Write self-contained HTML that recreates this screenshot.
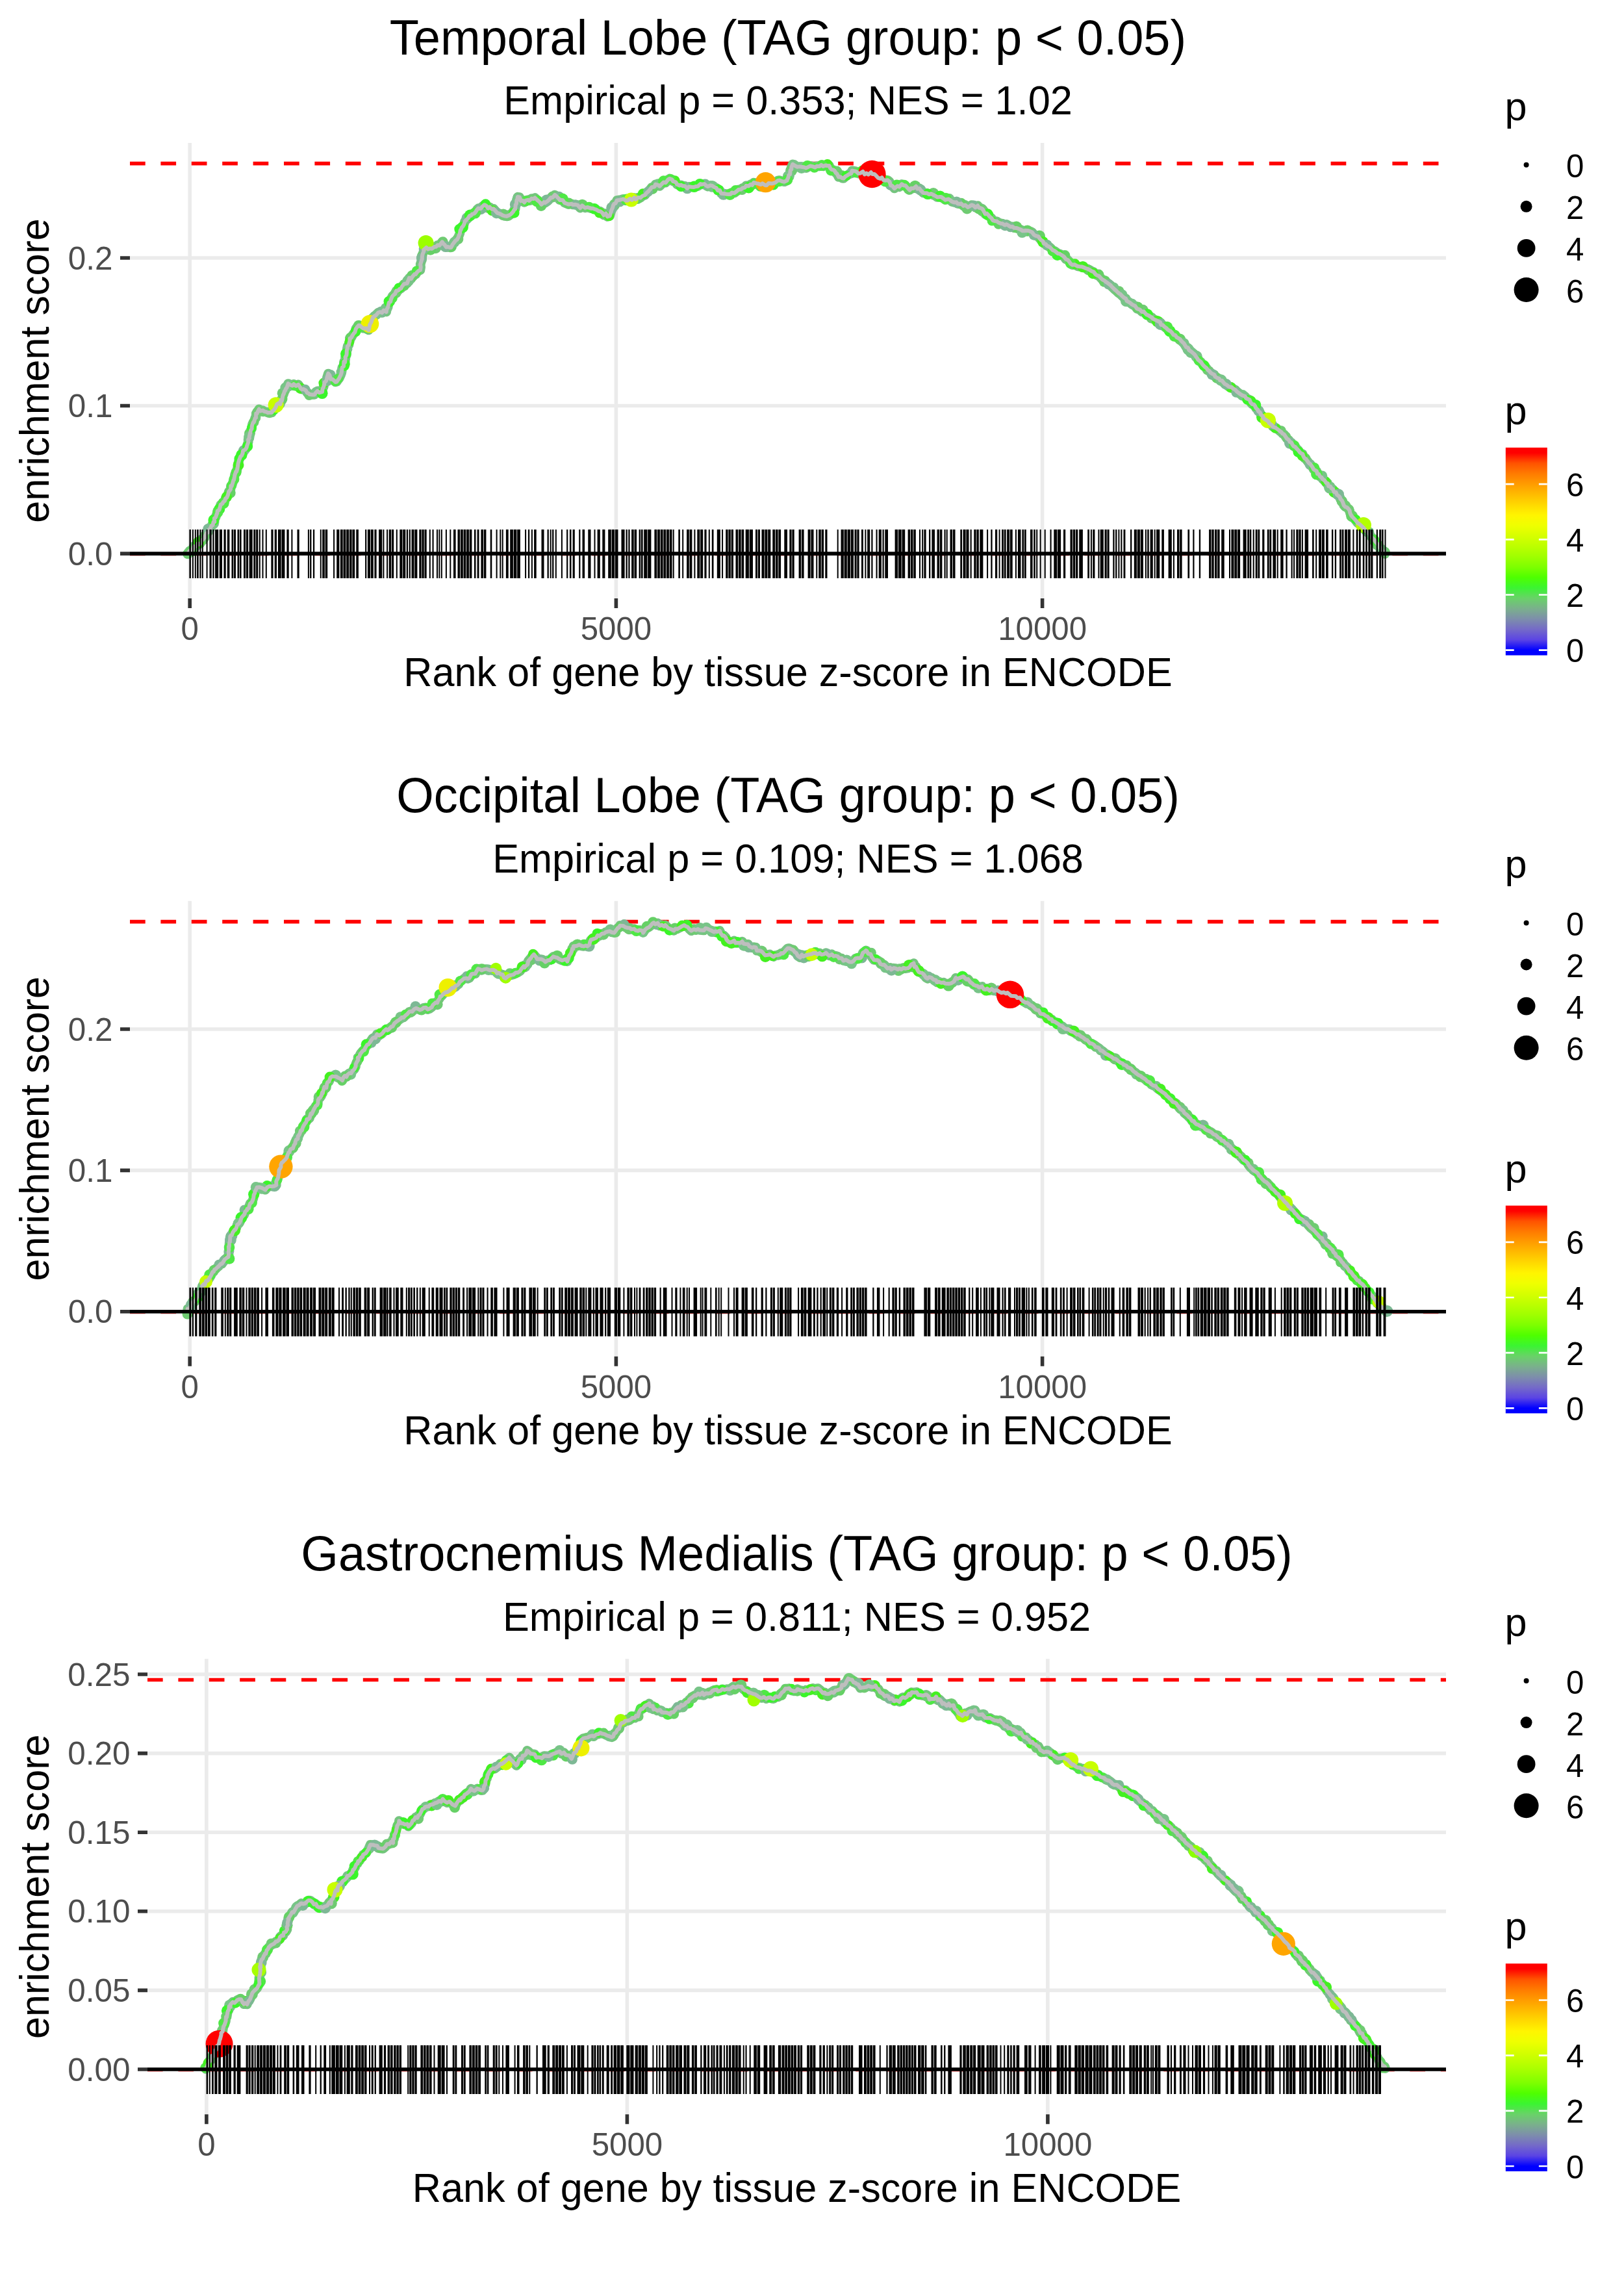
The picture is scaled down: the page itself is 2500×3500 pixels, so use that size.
<!DOCTYPE html>
<html><head><meta charset="utf-8"><style>html,body{margin:0;padding:0;background:#fff;}svg{display:block}</style></head><body>
<svg width="2500" height="3500" viewBox="0 0 2500 3500" style="font-family:'Liberation Sans',sans-serif">
<defs><linearGradient id="cbar" x1="0" y1="0" x2="0" y2="1"><stop offset="0.0256" stop-color="#ff0000"/><stop offset="0.0755" stop-color="#ff5300"/><stop offset="0.1255" stop-color="#ff7b00"/><stop offset="0.1755" stop-color="#ff9c00"/><stop offset="0.2255" stop-color="#ffbb00"/><stop offset="0.2755" stop-color="#ffd900"/><stop offset="0.3255" stop-color="#fff500"/><stop offset="0.3755" stop-color="#efff00"/><stop offset="0.4254" stop-color="#d6ff00"/><stop offset="0.4754" stop-color="#bcff00"/><stop offset="0.5254" stop-color="#9fff00"/><stop offset="0.5754" stop-color="#7dff00"/><stop offset="0.6254" stop-color="#4eff00"/><stop offset="0.6754" stop-color="#3bf432"/><stop offset="0.7254" stop-color="#69d268"/><stop offset="0.7753" stop-color="#7ab08c"/><stop offset="0.8253" stop-color="#7d8eab"/><stop offset="0.8753" stop-color="#746ac8"/><stop offset="0.9253" stop-color="#5b44e4"/><stop offset="0.9753" stop-color="#0000ff"/></linearGradient></defs>
<rect width="2500" height="3500" fill="#fff"/>
<text x="0" y="0" font-size="74" fill="#000" text-anchor="middle" transform="translate(1213.0 83.5) scale(1 1.035)" >Temporal Lobe (TAG group: p &lt; 0.05)</text>
<text x="0" y="0" font-size="61.3" fill="#000" text-anchor="middle" transform="translate(1213.0 176.3) scale(1 1.035)" >Empirical p = 0.353; NES = 1.02</text>
<path d="M292.2 220V921M948.4 220V921M1604.6 220V921M200 852.1H2226M200 624.5H2226M200 397.0H2226" stroke="#EBEBEB" stroke-width="5.6" fill="none"/>
<path d="M292.2 921V936M948.4 921V936M1604.6 921V936M185 852.1H200M185 624.5H200M185 397.0H200" stroke="#333333" stroke-width="5.6" fill="none"/>
<text x="292.2" y="985.1" font-size="49.2" fill="#4D4D4D" text-anchor="middle" >0</text>
<text x="948.4" y="985.1" font-size="49.2" fill="#4D4D4D" text-anchor="middle" >5000</text>
<text x="1604.6" y="985.1" font-size="49.2" fill="#4D4D4D" text-anchor="middle" >10000</text>
<text x="173.5" y="869.6" font-size="49.4" fill="#4D4D4D" text-anchor="end" >0.0</text>
<text x="173.5" y="642.0" font-size="49.4" fill="#4D4D4D" text-anchor="end" >0.1</text>
<text x="173.5" y="414.5" font-size="49.4" fill="#4D4D4D" text-anchor="end" >0.2</text>
<text x="0" y="0" font-size="61.2" fill="#000" text-anchor="middle" transform="translate(1213.0 1055.8) scale(1 1.035)" >Rank of gene by tissue z-score in ENCODE</text>
<text x="0" y="0" font-size="61.1" fill="#000" text-anchor="middle" transform="translate(75.4 570.5) rotate(-90) scale(1 1.035)">enrichment score</text>
<path d="M200 251.6H2226" stroke="#FF0000" stroke-width="5.6" stroke-dasharray="23.7 23.7" fill="none"/>
<path d="M200 854.1H2226" stroke="#FF0000" stroke-width="3" stroke-dasharray="23.7 23.7" fill="none" opacity="0.6"/>
<path d="M288.4 852.5 L291.9 847.9 L293.9 846.8 L296.6 846.3 L298.1 840.9 L301.8 840.7 L304.1 836.8 L306.0 838.0 L308.1 837.0 L311.6 830.9 L312.1 830.4 L315.5 827.0 L316.2 824.4 L317.7 820.8 L320.3 819.2 L321.8 815.3 L323.7 813.6 L325.7 808.9 L327.7 808.1 L328.5 803.4 L330.2 803.2 L329.9 797.8 L332.0 796.3 L333.4 791.9 L334.4 789.9 L334.7 786.4 L337.4 784.9 L338.6 781.1 L339.6 776.9 L342.6 775.0 L343.4 772.9 L346.0 770.8 L347.2 767.1 L349.2 765.9 L351.0 761.5 L352.1 756.8 L352.5 756.6 L355.1 753.0 L355.3 748.0 L356.6 748.5 L358.2 743.4 L359.5 738.9 L360.0 739.0 L361.0 733.7 L361.4 731.0 L363.4 725.5 L364.1 726.0 L365.1 722.6 L365.9 718.5 L366.4 715.0 L366.5 713.8 L368.2 707.8 L369.0 705.9 L370.2 702.7 L372.0 701.2 L373.5 697.8 L374.0 694.1 L375.7 693.0 L378.2 691.3 L379.6 688.7 L380.2 686.2 L382.3 680.2 L382.0 676.7 L383.9 674.6 L383.6 673.2 L384.8 667.6 L385.2 666.5 L386.0 662.3 L387.6 659.9 L387.7 656.9 L388.4 653.4 L390.2 649.5 L390.9 649.6 L392.7 643.5 L394.0 643.1 L394.2 636.5 L395.6 636.6 L396.8 633.5 L398.8 629.7 L400.9 632.6 L404.6 631.6 L406.6 633.2 L409.7 633.9 L412.4 635.2 L414.8 634.7 L418.5 635.0 L419.6 632.7 L421.8 630.8 L424.7 626.3 L426.2 622.3 L429.4 620.2 L431.5 622.0 L432.3 615.8 L434.0 616.6 L434.9 611.8 L435.6 608.3 L436.5 607.0 L438.1 602.2 L438.8 601.5 L440.3 598.0 L441.5 596.9 L443.6 590.4 L445.6 591.7 L450.0 593.7 L452.1 591.2 L455.8 594.0 L459.3 591.8 L461.5 595.3 L463.2 598.5 L465.1 599.3 L467.1 598.8 L470.8 600.9 L472.8 604.6 L475.2 605.5 L476.7 607.1 L480.7 607.4 L483.9 607.6 L485.7 605.1 L488.7 601.8 L491.7 604.4 L496.0 603.2 L496.4 599.2 L498.3 595.1 L499.1 591.3 L499.5 588.4 L501.9 586.6 L503.2 583.0 L503.3 581.4 L505.3 574.9 L507.5 577.7 L509.1 583.7 L511.4 583.4 L515.3 586.7 L516.4 588.0 L518.4 587.5 L520.0 585.1 L522.2 582.3 L524.9 576.2 L525.6 573.9 L526.1 571.6 L526.7 565.7 L529.0 563.9 L529.1 561.5 L529.4 556.7 L531.1 557.6 L531.9 550.8 L531.5 549.9 L533.4 546.5 L533.7 543.9 L533.8 540.3 L534.6 536.0 L535.0 533.0 L537.1 530.7 L537.4 528.5 L538.6 524.3 L538.3 520.9 L540.2 520.5 L543.1 515.4 L544.1 513.8 L546.4 511.3 L547.8 506.0 L549.7 503.5 L552.2 500.8 L553.3 500.6 L556.1 503.1 L558.8 505.2 L560.6 505.4 L564.1 505.3 L566.7 507.6 L567.6 508.1 L568.9 502.2 L569.0 500.0 L571.5 496.0 L572.6 492.3 L573.9 488.8 L574.1 489.6 L576.1 486.6 L579.2 484.8 L582.0 481.3 L584.7 480.2 L588.2 481.4 L590.5 477.7 L594.7 480.0 L595.4 476.0 L597.2 472.9 L597.8 469.7 L598.9 465.6 L600.9 464.6 L602.1 460.3 L603.1 457.9 L604.1 455.7 L606.5 453.6 L608.1 452.3 L610.1 447.4 L612.8 447.4 L615.2 444.9 L617.5 444.0 L619.0 440.8 L621.7 437.4 L623.8 436.6 L626.8 436.0 L628.1 432.5 L630.0 427.8 L632.9 429.1 L634.6 426.4 L638.0 422.1 L640.0 422.2 L641.7 419.4 L644.5 416.7 L647.0 415.7 L647.7 411.2 L647.1 406.7 L647.8 405.0 L649.3 399.6 L649.7 399.5 L649.8 395.5 L650.1 393.3 L650.5 391.3 L652.4 386.7 L652.1 384.8 L656.3 380.9 L659.1 383.5 L662.0 382.4 L664.7 382.9 L668.7 380.0 L671.5 379.7 L673.5 377.2 L676.4 377.8 L680.7 372.3 L682.7 375.4 L684.4 376.7 L687.1 380.5 L689.2 379.8 L692.4 380.9 L694.5 380.9 L696.6 376.5 L697.5 375.3 L699.3 372.9 L701.0 370.7 L703.7 368.7 L705.8 364.9 L706.3 363.2 L708.0 358.8 L708.7 354.4 L709.5 353.7 L710.8 350.3 L712.8 348.1 L714.4 345.1 L715.6 340.8 L718.5 337.8 L720.6 335.9 L722.9 332.1 L725.0 331.9 L727.0 329.5 L730.0 328.6 L732.1 326.4 L734.5 322.4 L736.5 320.6 L740.0 321.2 L742.9 317.5 L745.8 315.2 L748.5 316.6 L751.4 320.7 L753.7 318.7 L757.2 321.9 L759.8 321.2 L762.6 324.5 L765.5 327.8 L768.6 328.7 L771.9 330.2 L774.1 331.6 L777.1 332.5 L779.9 332.9 L782.4 331.9 L785.3 330.6 L787.6 328.5 L790.0 325.8 L791.8 322.4 L793.2 321.8 L793.7 315.3 L795.0 313.5 L795.3 308.3 L796.2 308.1 L796.9 303.1 L799.7 303.4 L801.9 309.4 L804.7 308.8 L807.1 311.6 L809.2 308.6 L813.2 307.6 L814.7 308.9 L818.3 305.6 L821.2 306.0 L823.5 304.4 L826.8 307.6 L828.6 309.1 L831.1 311.4 L833.5 314.9 L837.4 311.1 L839.2 312.1 L842.7 309.8 L844.4 308.3 L848.2 304.0 L850.7 304.2 L854.1 299.9 L856.3 301.7 L859.3 304.8 L861.6 307.9 L863.6 307.7 L866.5 308.3 L869.0 312.1 L872.5 313.5 L875.4 314.6 L879.6 313.7 L882.1 315.1 L886.1 314.8 L889.1 315.6 L893.2 320.2 L896.2 316.5 L900.7 319.9 L904.8 319.0 L907.5 320.0 L909.9 320.7 L912.5 320.7 L915.8 322.0 L918.0 322.7 L921.7 325.1 L924.0 325.3 L926.9 327.2 L929.4 331.1 L932.7 328.6 L935.1 333.5 L937.0 332.8 L938.7 332.4 L939.6 329.4 L941.4 323.4 L942.9 320.1 L942.9 320.2 L944.0 316.1 L945.4 313.7 L947.7 312.9 L949.6 308.5 L954.1 307.7 L956.4 307.3 L959.2 306.2 L963.3 308.7 L966.5 308.4 L969.7 305.7 L972.9 307.8 L976.2 304.2 L978.5 306.9 L982.6 303.9 L985.9 304.4 L989.0 301.8 L990.9 300.9 L992.7 300.5 L995.2 297.0 L997.8 294.9 L999.9 292.5 L1001.3 291.1 L1003.2 288.3 L1007.3 287.5 L1009.0 283.7 L1013.2 284.9 L1015.4 286.6 L1017.9 284.1 L1021.6 280.5 L1024.6 281.3 L1028.5 276.4 L1031.0 274.9 L1034.4 276.3 L1036.1 279.1 L1040.2 280.3 L1042.2 283.8 L1046.2 285.6 L1048.3 284.7 L1051.2 286.3 L1054.3 286.3 L1058.0 290.0 L1060.6 287.3 L1064.2 287.8 L1068.2 288.0 L1071.4 286.9 L1074.3 286.7 L1078.2 283.1 L1080.3 283.9 L1084.1 283.1 L1087.0 285.6 L1089.7 287.1 L1093.9 285.3 L1096.5 285.9 L1099.7 288.1 L1102.8 289.3 L1104.9 293.2 L1108.0 292.8 L1110.3 297.8 L1114.2 298.0 L1118.2 298.7 L1121.3 299.0 L1124.7 298.9 L1126.6 296.4 L1130.4 297.1 L1133.9 294.5 L1137.0 291.7 L1140.4 291.7 L1142.7 289.6 L1146.8 288.5 L1148.5 285.7 L1152.3 286.4 L1155.7 283.7 L1157.9 284.9 L1160.3 281.0 L1164.4 282.1 L1167.0 282.5 L1171.2 284.1 L1173.6 282.4 L1178.2 285.3 L1180.2 285.2 L1183.2 282.0 L1187.7 282.5 L1189.9 282.2 L1193.6 281.0 L1197.3 278.0 L1200.1 277.5 L1204.2 279.2 L1207.5 279.8 L1211.6 277.9 L1211.5 277.1 L1213.5 273.1 L1214.2 269.6 L1216.0 268.3 L1216.7 262.0 L1218.3 260.8 L1218.4 257.1 L1220.3 252.8 L1222.7 254.5 L1227.3 256.9 L1230.8 256.4 L1233.5 256.8 L1236.7 257.2 L1240.9 258.7 L1244.0 257.1 L1247.5 255.4 L1251.5 256.4 L1254.8 257.7 L1257.3 255.8 L1261.8 255.9 L1264.3 253.9 L1267.2 256.0 L1271.2 254.4 L1274.3 255.2 L1276.5 255.0 L1278.1 259.0 L1280.1 261.0 L1282.5 261.4 L1284.7 262.7 L1286.7 266.2 L1288.4 267.3 L1291.0 272.6 L1293.7 272.3 L1296.6 274.3 L1298.6 274.6 L1301.6 271.4 L1304.5 269.8 L1307.2 268.0 L1310.4 267.1 L1311.7 262.7 L1316.2 263.4 L1317.8 263.8 L1321.6 267.2 L1324.5 266.5 L1328.3 264.0 L1331.0 268.3 L1333.9 266.6 L1336.7 268.7 L1340.8 265.3 L1343.0 268.0 L1346.1 268.0 L1348.3 270.0 L1351.5 273.6 L1355.0 274.9 L1357.6 273.2 L1360.0 277.1 L1362.8 277.7 L1366.6 277.3 L1369.3 279.6 L1371.3 285.5 L1373.8 286.1 L1376.9 290.1 L1381.5 286.2 L1384.3 287.7 L1388.1 283.4 L1391.3 285.4 L1393.8 285.4 L1397.6 289.7 L1400.4 292.6 L1402.6 289.8 L1406.2 290.0 L1410.1 286.8 L1412.2 290.6 L1415.3 289.9 L1417.9 293.5 L1421.5 297.0 L1424.4 297.2 L1426.9 297.2 L1430.3 299.3 L1433.4 298.1 L1436.8 300.1 L1439.9 301.5 L1442.8 303.6 L1446.8 303.0 L1448.6 303.1 L1452.4 305.6 L1455.4 307.7 L1457.5 307.0 L1460.3 306.4 L1462.8 308.1 L1465.5 310.4 L1469.4 311.5 L1472.2 311.1 L1474.3 313.6 L1478.3 314.0 L1479.7 313.3 L1483.1 316.9 L1485.8 315.5 L1489.8 319.1 L1492.4 317.7 L1495.7 315.5 L1498.5 316.3 L1501.5 319.4 L1505.2 316.5 L1507.3 319.8 L1509.6 320.2 L1512.0 321.2 L1513.8 323.8 L1516.6 329.5 L1519.2 328.6 L1521.5 330.9 L1523.4 333.3 L1526.3 335.7 L1528.3 339.1 L1531.4 340.2 L1534.5 340.6 L1537.3 342.7 L1540.1 343.7 L1543.2 344.2 L1546.9 346.5 L1549.4 345.2 L1552.4 347.0 L1555.0 348.9 L1558.6 348.8 L1561.3 350.8 L1564.7 351.0 L1567.1 351.7 L1571.1 353.2 L1574.0 355.3 L1577.4 355.3 L1579.1 354.7 L1582.9 355.1 L1586.1 356.1 L1588.9 357.5 L1591.6 361.3 L1593.6 362.6 L1596.2 363.4 L1598.6 363.9 L1600.3 366.9 L1602.7 369.5 L1605.6 371.3 L1606.5 374.4 L1610.1 376.0 L1611.3 378.0 L1615.1 379.8 L1617.9 382.1 L1620.3 384.9 L1623.2 386.1 L1625.6 387.7 L1628.5 390.3 L1631.4 390.6 L1634.5 392.8 L1638.1 395.3 L1640.6 398.8 L1644.2 400.4 L1646.5 403.3 L1648.1 405.8 L1650.6 407.7 L1654.4 407.3 L1658.8 409.8 L1661.7 410.3 L1665.5 410.4 L1669.5 412.1 L1670.9 412.8 L1674.4 413.9 L1678.0 415.7 L1680.8 417.6 L1683.3 418.2 L1686.4 422.2 L1688.4 423.5 L1691.7 424.7 L1694.9 428.2 L1696.6 430.0 L1700.0 431.8 L1702.0 433.6 L1704.1 434.8 L1707.8 437.6 L1709.8 439.2 L1711.6 441.4 L1714.4 444.0 L1715.8 445.4 L1718.6 447.8 L1721.5 450.6 L1722.6 451.5 L1724.8 452.8 L1727.0 455.2 L1730.6 458.4 L1733.1 459.5 L1734.5 463.1 L1738.1 465.1 L1739.3 465.7 L1742.7 468.6 L1745.6 470.1 L1747.3 470.8 L1750.4 475.2 L1753.1 476.0 L1754.8 476.6 L1758.0 479.9 L1760.9 479.6 L1762.8 482.0 L1765.1 484.3 L1768.5 485.7 L1770.7 487.3 L1773.1 488.5 L1775.0 490.7 L1777.4 491.9 L1780.4 493.3 L1783.3 494.7 L1786.2 496.1 L1787.1 499.9 L1789.9 500.2 L1792.5 502.9 L1795.8 505.2 L1797.1 506.8 L1799.7 508.7 L1802.0 509.8 L1804.3 512.3 L1806.4 515.4 L1809.0 515.7 L1811.7 519.4 L1814.5 520.8 L1816.8 522.1 L1817.9 524.1 L1820.2 526.4 L1822.4 528.3 L1823.9 530.8 L1826.1 534.3 L1828.7 535.1 L1830.5 538.9 L1832.8 540.4 L1834.5 541.7 L1836.9 543.7 L1839.2 545.8 L1841.2 548.9 L1843.1 551.6 L1844.3 553.7 L1846.2 555.2 L1848.9 557.4 L1851.5 561.3 L1853.1 563.1 L1855.1 564.9 L1857.4 566.7 L1859.2 569.5 L1861.5 570.8 L1863.8 573.8 L1866.4 575.5 L1869.2 576.5 L1870.5 579.7 L1873.4 581.5 L1876.9 582.9 L1877.9 585.3 L1881.2 585.7 L1883.0 588.1 L1885.3 590.9 L1888.7 592.6 L1890.8 594.5 L1892.9 595.7 L1895.7 595.7 L1898.0 597.9 L1901.6 600.0 L1903.7 602.3 L1906.0 604.1 L1909.2 606.5 L1911.5 608.0 L1914.8 609.5 L1916.5 610.0 L1918.5 613.1 L1921.1 614.1 L1923.6 615.3 L1925.2 619.5 L1927.7 622.1 L1930.3 622.5 L1931.9 624.8 L1933.4 628.1 L1936.3 630.8 L1937.0 633.0 L1939.5 634.6 L1941.3 638.6 L1944.2 640.8 L1944.7 643.4 L1947.4 645.6 L1948.9 646.3 L1952.6 648.7 L1953.7 651.2 L1957.7 654.1 L1959.3 656.5 L1962.5 658.1 L1964.7 659.1 L1967.7 661.3 L1970.2 663.5 L1972.7 665.3 L1974.5 667.6 L1976.8 668.6 L1979.4 672.6 L1981.0 675.0 L1984.0 677.1 L1985.5 680.0 L1988.2 681.3 L1989.3 683.7 L1991.2 686.8 L1993.9 687.9 L1996.4 690.8 L1998.5 692.8 L2000.8 696.0 L2002.6 697.6 L2005.3 698.7 L2006.2 701.8 L2008.3 705.6 L2010.2 706.1 L2012.4 709.4 L2015.2 713.0 L2017.2 714.4 L2017.9 715.4 L2020.8 719.6 L2022.2 722.4 L2024.7 723.8 L2026.8 725.0 L2028.0 729.4 L2030.1 729.7 L2032.2 733.6 L2034.3 734.7 L2036.4 737.7 L2039.3 739.7 L2041.6 743.6 L2043.7 743.8 L2045.0 748.2 L2048.0 748.6 L2049.5 751.5 L2052.1 753.1 L2053.5 757.2 L2056.6 757.8 L2058.2 761.6 L2060.8 763.4 L2062.8 765.5 L2063.3 767.9 L2065.9 770.4 L2067.2 773.2 L2068.7 777.7 L2071.0 780.2 L2073.5 781.0 L2075.7 783.1 L2077.6 785.7 L2078.3 789.6 L2079.7 792.7 L2081.7 795.4 L2083.5 797.3 L2085.6 799.3 L2087.9 802.1 L2089.9 805.0 L2091.9 806.0 L2094.9 808.5 L2097.5 811.1 L2099.0 812.3 L2100.5 814.7 L2103.6 818.3 L2106.4 819.9 L2108.2 821.9 L2109.4 824.3 L2112.4 827.8 L2114.9 830.4 L2116.3 832.2 L2118.2 834.6 L2120.5 837.3 L2122.8 839.5 L2124.2 843.0 L2126.5 844.8 L2128.4 848.0 L2130.5 849.2 L2132.0 852.6" stroke="#74C47E" stroke-width="14.5" fill="none" stroke-linejoin="round" stroke-linecap="round"/>
<g fill="#6FCB72"><circle cx="289.3" cy="852.3" r="8.0"/><circle cx="312.1" cy="830.1" r="8.7"/><circle cx="315.4" cy="824.6" r="7.5"/><circle cx="395.7" cy="634.1" r="7.4"/><circle cx="398.6" cy="630.9" r="7.4"/><circle cx="405.1" cy="633.4" r="7.9"/><circle cx="415.1" cy="635.0" r="8.2"/><circle cx="435.1" cy="605.3" r="8.4"/><circle cx="475.9" cy="608.5" r="7.6"/><circle cx="609.5" cy="450.7" r="8.2"/><circle cx="670.6" cy="381.9" r="8.3"/><circle cx="681.8" cy="372.3" r="8.0"/><circle cx="705.0" cy="367.7" r="8.4"/><circle cx="774.8" cy="330.1" r="8.6"/><circle cx="782.4" cy="331.7" r="8.2"/><circle cx="802.9" cy="308.6" r="8.0"/><circle cx="818.1" cy="307.7" r="7.7"/><circle cx="850.5" cy="302.3" r="7.7"/><circle cx="945.6" cy="316.2" r="8.3"/><circle cx="973.0" cy="309.5" r="7.5"/><circle cx="1142.2" cy="292.0" r="8.0"/><circle cx="1218.4" cy="262.1" r="9.0"/><circle cx="1288.0" cy="263.9" r="8.3"/><circle cx="1337.6" cy="270.4" r="8.6"/><circle cx="1347.2" cy="267.0" r="8.1"/><circle cx="1436.8" cy="298.0" r="8.9"/><circle cx="1488.7" cy="321.1" r="8.5"/><circle cx="1512.6" cy="324.3" r="8.8"/><circle cx="1722.4" cy="448.4" r="8.2"/><circle cx="1759.3" cy="477.2" r="8.4"/><circle cx="1772.2" cy="490.0" r="7.5"/><circle cx="1858.4" cy="569.5" r="7.6"/><circle cx="1972.3" cy="662.7" r="7.5"/><circle cx="1979.6" cy="671.8" r="7.5"/><circle cx="2065.9" cy="771.6" r="8.3"/><circle cx="2071.3" cy="778.4" r="8.1"/><circle cx="2076.7" cy="784.3" r="7.7"/><circle cx="2120.3" cy="838.6" r="8.3"/><circle cx="2131.2" cy="850.1" r="8.8"/></g>
<g fill="#66D066"><circle cx="296.4" cy="847.4" r="8.9"/><circle cx="353.9" cy="758.4" r="8.8"/><circle cx="384.4" cy="667.1" r="8.4"/><circle cx="390.9" cy="649.7" r="7.6"/><circle cx="434.6" cy="614.0" r="7.9"/><circle cx="539.5" cy="519.7" r="7.9"/><circle cx="551.7" cy="500.5" r="7.6"/><circle cx="565.3" cy="505.0" r="8.9"/><circle cx="621.7" cy="439.6" r="8.4"/><circle cx="634.7" cy="424.6" r="8.8"/><circle cx="649.3" cy="394.4" r="7.7"/><circle cx="662.6" cy="384.3" r="8.5"/><circle cx="695.0" cy="379.8" r="7.9"/><circle cx="833.0" cy="316.6" r="8.3"/><circle cx="875.5" cy="313.1" r="8.5"/><circle cx="896.3" cy="315.4" r="8.7"/><circle cx="932.6" cy="330.5" r="7.5"/><circle cx="981.8" cy="305.8" r="8.1"/><circle cx="1004.3" cy="290.5" r="8.4"/><circle cx="1295.2" cy="270.6" r="8.5"/><circle cx="1355.1" cy="275.8" r="8.5"/><circle cx="1399.2" cy="290.7" r="8.7"/><circle cx="1408.7" cy="286.4" r="8.7"/><circle cx="1479.5" cy="313.1" r="8.4"/><circle cx="1507.0" cy="321.7" r="7.9"/><circle cx="1537.1" cy="345.3" r="7.5"/><circle cx="1564.6" cy="349.5" r="8.9"/><circle cx="1581.6" cy="355.2" r="8.6"/><circle cx="1600.0" cy="363.3" r="8.9"/><circle cx="1639.2" cy="393.3" r="8.2"/><circle cx="1675.3" cy="415.5" r="7.9"/><circle cx="1691.4" cy="422.5" r="7.9"/><circle cx="1700.4" cy="432.9" r="8.9"/><circle cx="1751.3" cy="472.8" r="8.4"/><circle cx="1816.4" cy="522.0" r="8.6"/><circle cx="1873.2" cy="581.8" r="8.1"/><circle cx="2009.6" cy="705.0" r="7.4"/><circle cx="2081.1" cy="794.3" r="8.9"/></g>
<g fill="#44F020"><circle cx="305.6" cy="834.8" r="8.8"/><circle cx="348.8" cy="764.7" r="8.1"/><circle cx="367.0" cy="715.7" r="8.5"/><circle cx="462.5" cy="597.6" r="8.3"/><circle cx="498.4" cy="589.6" r="8.0"/><circle cx="537.7" cy="526.4" r="7.5"/><circle cx="568.5" cy="502.6" r="8.2"/><circle cx="757.4" cy="324.0" r="8.0"/><circle cx="923.1" cy="327.5" r="8.1"/><circle cx="937.5" cy="332.6" r="7.6"/><circle cx="989.7" cy="298.4" r="8.1"/><circle cx="1039.0" cy="277.8" r="7.6"/><circle cx="1273.8" cy="253.1" r="8.0"/><circle cx="1327.7" cy="262.7" r="8.2"/><circle cx="1605.4" cy="372.3" r="8.4"/><circle cx="1654.7" cy="406.3" r="8.0"/><circle cx="1666.9" cy="410.6" r="8.6"/><circle cx="1682.6" cy="420.8" r="8.5"/><circle cx="1781.8" cy="494.8" r="8.9"/><circle cx="1894.5" cy="596.3" r="8.2"/><circle cx="1925.9" cy="617.3" r="8.0"/><circle cx="1943.1" cy="642.2" r="9.0"/><circle cx="1963.4" cy="658.8" r="7.9"/><circle cx="2004.4" cy="701.3" r="7.9"/><circle cx="2040.8" cy="741.1" r="7.7"/><circle cx="2053.9" cy="757.2" r="8.7"/></g>
<g fill="#7DB895"><circle cx="320.4" cy="814.4" r="8.3"/><circle cx="375.2" cy="693.6" r="8.3"/><circle cx="469.9" cy="599.4" r="7.7"/><circle cx="503.9" cy="585.4" r="8.8"/><circle cx="508.6" cy="577.1" r="8.1"/><circle cx="586.8" cy="480.1" r="8.4"/><circle cx="648.8" cy="397.1" r="8.0"/><circle cx="652.6" cy="383.1" r="7.9"/><circle cx="685.8" cy="379.5" r="8.6"/><circle cx="718.3" cy="335.1" r="7.7"/><circle cx="740.2" cy="321.8" r="8.5"/><circle cx="764.4" cy="327.7" r="8.5"/><circle cx="793.4" cy="314.7" r="8.6"/><circle cx="841.3" cy="308.4" r="8.8"/><circle cx="860.7" cy="302.6" r="7.8"/><circle cx="886.0" cy="315.1" r="7.7"/><circle cx="942.0" cy="319.8" r="8.8"/><circle cx="953.8" cy="310.0" r="8.6"/><circle cx="997.7" cy="295.0" r="7.7"/><circle cx="1058.0" cy="289.7" r="8.6"/><circle cx="1085.8" cy="283.5" r="7.9"/><circle cx="1113.7" cy="299.1" r="8.7"/><circle cx="1309.0" cy="266.9" r="7.7"/><circle cx="1371.1" cy="284.7" r="8.3"/><circle cx="1416.8" cy="292.0" r="8.6"/><circle cx="1472.6" cy="311.0" r="8.6"/><circle cx="1498.9" cy="316.6" r="8.1"/><circle cx="1547.2" cy="346.9" r="8.3"/><circle cx="1555.4" cy="349.8" r="7.4"/><circle cx="1591.5" cy="361.8" r="7.7"/><circle cx="1612.1" cy="376.5" r="7.4"/><circle cx="1706.6" cy="437.6" r="7.9"/><circle cx="1786.6" cy="499.0" r="8.9"/><circle cx="1866.0" cy="576.3" r="8.4"/><circle cx="1887.6" cy="591.4" r="8.4"/><circle cx="1903.0" cy="604.2" r="7.6"/><circle cx="1937.6" cy="632.3" r="8.2"/><circle cx="1949.8" cy="647.9" r="8.2"/><circle cx="1958.6" cy="653.6" r="7.5"/><circle cx="1985.8" cy="682.0" r="8.8"/><circle cx="2016.5" cy="715.3" r="7.8"/><circle cx="2060.3" cy="761.0" r="8.7"/></g>
<g fill="#78C488"><circle cx="328.6" cy="805.6" r="8.5"/><circle cx="383.3" cy="672.3" r="8.2"/><circle cx="439.3" cy="596.5" r="7.9"/><circle cx="444.4" cy="593.4" r="8.8"/><circle cx="486.6" cy="603.6" r="7.9"/><circle cx="525.4" cy="572.6" r="7.9"/><circle cx="534.7" cy="537.2" r="7.7"/><circle cx="573.4" cy="490.8" r="8.2"/><circle cx="579.7" cy="484.0" r="7.6"/><circle cx="594.5" cy="474.6" r="8.8"/><circle cx="628.2" cy="432.2" r="8.8"/><circle cx="646.7" cy="412.7" r="7.4"/><circle cx="699.5" cy="372.8" r="8.1"/><circle cx="796.9" cy="306.2" r="8.3"/><circle cx="1013.1" cy="282.9" r="7.6"/><circle cx="1096.5" cy="286.9" r="8.9"/><circle cx="1179.3" cy="284.6" r="8.8"/><circle cx="1213.8" cy="271.3" r="8.9"/><circle cx="1222.3" cy="253.8" r="7.9"/><circle cx="1233.9" cy="258.0" r="9.0"/><circle cx="1461.4" cy="306.0" r="7.9"/><circle cx="1573.5" cy="357.9" r="8.2"/><circle cx="1714.9" cy="442.3" r="7.5"/><circle cx="1727.9" cy="453.3" r="7.6"/><circle cx="1733.7" cy="463.2" r="8.8"/><circle cx="1742.9" cy="467.3" r="7.6"/><circle cx="1822.8" cy="528.2" r="7.8"/><circle cx="1829.3" cy="537.9" r="8.8"/><circle cx="1833.4" cy="542.5" r="8.5"/><circle cx="1842.0" cy="548.6" r="8.8"/><circle cx="1879.8" cy="585.1" r="8.8"/><circle cx="1912.8" cy="608.4" r="8.3"/><circle cx="2035.3" cy="732.4" r="8.0"/><circle cx="2046.8" cy="750.9" r="8.6"/><circle cx="2095.9" cy="808.2" r="7.7"/><circle cx="2107.0" cy="819.3" r="8.4"/><circle cx="2126.5" cy="846.7" r="8.9"/></g>
<g fill="#3AF52A"><circle cx="328.8" cy="800.5" r="8.4"/><circle cx="337.8" cy="783.6" r="8.5"/><circle cx="368.0" cy="705.9" r="7.6"/><circle cx="371.8" cy="700.3" r="8.7"/><circle cx="381.1" cy="687.1" r="8.1"/><circle cx="387.5" cy="658.5" r="7.5"/><circle cx="421.2" cy="631.1" r="7.8"/><circle cx="496.0" cy="605.3" r="8.6"/><circle cx="529.8" cy="563.1" r="8.1"/><circle cx="530.6" cy="560.2" r="8.2"/><circle cx="532.3" cy="544.6" r="8.3"/><circle cx="547.5" cy="510.2" r="8.1"/><circle cx="599.1" cy="464.1" r="8.6"/><circle cx="614.1" cy="443.4" r="7.9"/><circle cx="707.2" cy="352.7" r="7.9"/><circle cx="712.1" cy="349.9" r="8.8"/><circle cx="723.6" cy="331.5" r="8.9"/><circle cx="747.5" cy="314.3" r="8.0"/><circle cx="791.3" cy="327.5" r="8.3"/><circle cx="914.7" cy="321.3" r="8.4"/><circle cx="1048.5" cy="287.1" r="8.0"/><circle cx="1068.6" cy="287.3" r="8.8"/><circle cx="1077.3" cy="283.0" r="8.1"/><circle cx="1105.6" cy="292.2" r="8.3"/><circle cx="1152.6" cy="288.6" r="8.8"/><circle cx="1190.3" cy="283.8" r="8.7"/><circle cx="1302.8" cy="270.6" r="7.5"/><circle cx="1428.1" cy="298.8" r="8.3"/><circle cx="1447.1" cy="302.1" r="8.7"/><circle cx="1520.3" cy="330.1" r="8.8"/><circle cx="1627.8" cy="392.2" r="8.7"/><circle cx="1766.1" cy="483.9" r="8.7"/><circle cx="1800.7" cy="509.5" r="8.7"/><circle cx="1853.7" cy="562.7" r="8.2"/><circle cx="1919.8" cy="615.3" r="7.4"/><circle cx="1932.6" cy="623.5" r="8.7"/><circle cx="1998.8" cy="695.6" r="8.4"/><circle cx="2087.2" cy="799.5" r="7.4"/><circle cx="2100.3" cy="813.6" r="7.8"/></g>
<g fill="#4FE845"><circle cx="335.2" cy="788.7" r="8.1"/><circle cx="344.1" cy="774.3" r="8.6"/><circle cx="356.4" cy="747.0" r="7.5"/><circle cx="360.4" cy="737.6" r="8.0"/><circle cx="363.8" cy="726.8" r="7.9"/><circle cx="428.4" cy="619.6" r="7.5"/><circle cx="454.4" cy="593.7" r="7.8"/><circle cx="516.3" cy="586.6" r="7.9"/><circle cx="520.3" cy="582.9" r="7.5"/><circle cx="559.3" cy="502.8" r="7.7"/><circle cx="604.4" cy="459.0" r="7.4"/><circle cx="641.5" cy="417.0" r="7.7"/><circle cx="731.4" cy="327.9" r="8.6"/><circle cx="809.8" cy="309.5" r="7.9"/><circle cx="826.7" cy="309.4" r="8.9"/><circle cx="866.0" cy="306.5" r="8.9"/><circle cx="906.9" cy="318.1" r="7.4"/><circle cx="964.3" cy="307.4" r="8.8"/><circle cx="1021.9" cy="279.0" r="8.7"/><circle cx="1032.2" cy="275.7" r="7.6"/><circle cx="1123.7" cy="299.1" r="8.8"/><circle cx="1132.5" cy="293.5" r="8.4"/><circle cx="1161.1" cy="283.0" r="7.9"/><circle cx="1170.6" cy="286.8" r="8.0"/><circle cx="1199.3" cy="279.3" r="7.9"/><circle cx="1212.2" cy="276.8" r="8.1"/><circle cx="1243.0" cy="255.2" r="8.3"/><circle cx="1253.6" cy="258.2" r="7.6"/><circle cx="1265.3" cy="254.5" r="8.6"/><circle cx="1279.3" cy="262.1" r="8.3"/><circle cx="1316.9" cy="266.1" r="7.4"/><circle cx="1362.6" cy="278.5" r="8.9"/><circle cx="1380.5" cy="284.2" r="7.8"/><circle cx="1391.8" cy="285.2" r="8.4"/><circle cx="1455.8" cy="305.6" r="8.9"/><circle cx="1527.1" cy="340.0" r="7.5"/><circle cx="1620.2" cy="386.7" r="7.6"/><circle cx="1648.0" cy="405.3" r="8.1"/><circle cx="1796.6" cy="503.7" r="8.9"/><circle cx="1808.3" cy="516.8" r="9.0"/><circle cx="1845.4" cy="555.1" r="7.6"/><circle cx="1992.4" cy="686.0" r="8.2"/><circle cx="2023.3" cy="720.1" r="8.0"/><circle cx="2027.0" cy="729.7" r="8.9"/><circle cx="2115.2" cy="831.4" r="8.5"/></g>
<circle cx="1178.5" cy="280.6" r="15.7" fill="#FFA500"/>
<circle cx="1342.4" cy="268.0" r="21.2" fill="#FF0000"/>
<circle cx="569.4" cy="498.6" r="13.9" fill="#EEF000"/>
<circle cx="424.7" cy="623.3" r="12" fill="#C8FF00"/>
<circle cx="655.6" cy="374.0" r="12" fill="#9CFF00"/>
<circle cx="971.8" cy="307.4" r="11" fill="#C8FF00"/>
<circle cx="1952.0" cy="647.0" r="12" fill="#C8FF00"/>
<circle cx="2099.0" cy="808.0" r="12" fill="#B4FF00"/>
<path d="M288.4 852.5 L291.9 847.9 L293.9 846.8 L296.6 846.3 L298.1 840.9 L301.8 840.7 L304.1 836.8 L306.0 838.0 L308.1 837.0 L311.6 830.9 L312.1 830.4 L315.5 827.0 L316.2 824.4 L317.7 820.8 L320.3 819.2 L321.8 815.3 L323.7 813.6 L325.7 808.9 L327.7 808.1 L328.5 803.4 L330.2 803.2 L329.9 797.8 L332.0 796.3 L333.4 791.9 L334.4 789.9 L334.7 786.4 L337.4 784.9 L338.6 781.1 L339.6 776.9 L342.6 775.0 L343.4 772.9 L346.0 770.8 L347.2 767.1 L349.2 765.9 L351.0 761.5 L352.1 756.8 L352.5 756.6 L355.1 753.0 L355.3 748.0 L356.6 748.5 L358.2 743.4 L359.5 738.9 L360.0 739.0 L361.0 733.7 L361.4 731.0 L363.4 725.5 L364.1 726.0 L365.1 722.6 L365.9 718.5 L366.4 715.0 L366.5 713.8 L368.2 707.8 L369.0 705.9 L370.2 702.7 L372.0 701.2 L373.5 697.8 L374.0 694.1 L375.7 693.0 L378.2 691.3 L379.6 688.7 L380.2 686.2 L382.3 680.2 L382.0 676.7 L383.9 674.6 L383.6 673.2 L384.8 667.6 L385.2 666.5 L386.0 662.3 L387.6 659.9 L387.7 656.9 L388.4 653.4 L390.2 649.5 L390.9 649.6 L392.7 643.5 L394.0 643.1 L394.2 636.5 L395.6 636.6 L396.8 633.5 L398.8 629.7 L400.9 632.6 L404.6 631.6 L406.6 633.2 L409.7 633.9 L412.4 635.2 L414.8 634.7 L418.5 635.0 L419.6 632.7 L421.8 630.8 L424.7 626.3 L426.2 622.3 L429.4 620.2 L431.5 622.0 L432.3 615.8 L434.0 616.6 L434.9 611.8 L435.6 608.3 L436.5 607.0 L438.1 602.2 L438.8 601.5 L440.3 598.0 L441.5 596.9 L443.6 590.4 L445.6 591.7 L450.0 593.7 L452.1 591.2 L455.8 594.0 L459.3 591.8 L461.5 595.3 L463.2 598.5 L465.1 599.3 L467.1 598.8 L470.8 600.9 L472.8 604.6 L475.2 605.5 L476.7 607.1 L480.7 607.4 L483.9 607.6 L485.7 605.1 L488.7 601.8 L491.7 604.4 L496.0 603.2 L496.4 599.2 L498.3 595.1 L499.1 591.3 L499.5 588.4 L501.9 586.6 L503.2 583.0 L503.3 581.4 L505.3 574.9 L507.5 577.7 L509.1 583.7 L511.4 583.4 L515.3 586.7 L516.4 588.0 L518.4 587.5 L520.0 585.1 L522.2 582.3 L524.9 576.2 L525.6 573.9 L526.1 571.6 L526.7 565.7 L529.0 563.9 L529.1 561.5 L529.4 556.7 L531.1 557.6 L531.9 550.8 L531.5 549.9 L533.4 546.5 L533.7 543.9 L533.8 540.3 L534.6 536.0 L535.0 533.0 L537.1 530.7 L537.4 528.5 L538.6 524.3 L538.3 520.9 L540.2 520.5 L543.1 515.4 L544.1 513.8 L546.4 511.3 L547.8 506.0 L549.7 503.5 L552.2 500.8 L553.3 500.6 L556.1 503.1 L558.8 505.2 L560.6 505.4 L564.1 505.3 L566.7 507.6 L567.6 508.1 L568.9 502.2 L569.0 500.0 L571.5 496.0 L572.6 492.3 L573.9 488.8 L574.1 489.6 L576.1 486.6 L579.2 484.8 L582.0 481.3 L584.7 480.2 L588.2 481.4 L590.5 477.7 L594.7 480.0 L595.4 476.0 L597.2 472.9 L597.8 469.7 L598.9 465.6 L600.9 464.6 L602.1 460.3 L603.1 457.9 L604.1 455.7 L606.5 453.6 L608.1 452.3 L610.1 447.4 L612.8 447.4 L615.2 444.9 L617.5 444.0 L619.0 440.8 L621.7 437.4 L623.8 436.6 L626.8 436.0 L628.1 432.5 L630.0 427.8 L632.9 429.1 L634.6 426.4 L638.0 422.1 L640.0 422.2 L641.7 419.4 L644.5 416.7 L647.0 415.7 L647.7 411.2 L647.1 406.7 L647.8 405.0 L649.3 399.6 L649.7 399.5 L649.8 395.5 L650.1 393.3 L650.5 391.3 L652.4 386.7 L652.1 384.8 L656.3 380.9 L659.1 383.5 L662.0 382.4 L664.7 382.9 L668.7 380.0 L671.5 379.7 L673.5 377.2 L676.4 377.8 L680.7 372.3 L682.7 375.4 L684.4 376.7 L687.1 380.5 L689.2 379.8 L692.4 380.9 L694.5 380.9 L696.6 376.5 L697.5 375.3 L699.3 372.9 L701.0 370.7 L703.7 368.7 L705.8 364.9 L706.3 363.2 L708.0 358.8 L708.7 354.4 L709.5 353.7 L710.8 350.3 L712.8 348.1 L714.4 345.1 L715.6 340.8 L718.5 337.8 L720.6 335.9 L722.9 332.1 L725.0 331.9 L727.0 329.5 L730.0 328.6 L732.1 326.4 L734.5 322.4 L736.5 320.6 L740.0 321.2 L742.9 317.5 L745.8 315.2 L748.5 316.6 L751.4 320.7 L753.7 318.7 L757.2 321.9 L759.8 321.2 L762.6 324.5 L765.5 327.8 L768.6 328.7 L771.9 330.2 L774.1 331.6 L777.1 332.5 L779.9 332.9 L782.4 331.9 L785.3 330.6 L787.6 328.5 L790.0 325.8 L791.8 322.4 L793.2 321.8 L793.7 315.3 L795.0 313.5 L795.3 308.3 L796.2 308.1 L796.9 303.1 L799.7 303.4 L801.9 309.4 L804.7 308.8 L807.1 311.6 L809.2 308.6 L813.2 307.6 L814.7 308.9 L818.3 305.6 L821.2 306.0 L823.5 304.4 L826.8 307.6 L828.6 309.1 L831.1 311.4 L833.5 314.9 L837.4 311.1 L839.2 312.1 L842.7 309.8 L844.4 308.3 L848.2 304.0 L850.7 304.2 L854.1 299.9 L856.3 301.7 L859.3 304.8 L861.6 307.9 L863.6 307.7 L866.5 308.3 L869.0 312.1 L872.5 313.5 L875.4 314.6 L879.6 313.7 L882.1 315.1 L886.1 314.8 L889.1 315.6 L893.2 320.2 L896.2 316.5 L900.7 319.9 L904.8 319.0 L907.5 320.0 L909.9 320.7 L912.5 320.7 L915.8 322.0 L918.0 322.7 L921.7 325.1 L924.0 325.3 L926.9 327.2 L929.4 331.1 L932.7 328.6 L935.1 333.5 L937.0 332.8 L938.7 332.4 L939.6 329.4 L941.4 323.4 L942.9 320.1 L942.9 320.2 L944.0 316.1 L945.4 313.7 L947.7 312.9 L949.6 308.5 L954.1 307.7 L956.4 307.3 L959.2 306.2 L963.3 308.7 L966.5 308.4 L969.7 305.7 L972.9 307.8 L976.2 304.2 L978.5 306.9 L982.6 303.9 L985.9 304.4 L989.0 301.8 L990.9 300.9 L992.7 300.5 L995.2 297.0 L997.8 294.9 L999.9 292.5 L1001.3 291.1 L1003.2 288.3 L1007.3 287.5 L1009.0 283.7 L1013.2 284.9 L1015.4 286.6 L1017.9 284.1 L1021.6 280.5 L1024.6 281.3 L1028.5 276.4 L1031.0 274.9 L1034.4 276.3 L1036.1 279.1 L1040.2 280.3 L1042.2 283.8 L1046.2 285.6 L1048.3 284.7 L1051.2 286.3 L1054.3 286.3 L1058.0 290.0 L1060.6 287.3 L1064.2 287.8 L1068.2 288.0 L1071.4 286.9 L1074.3 286.7 L1078.2 283.1 L1080.3 283.9 L1084.1 283.1 L1087.0 285.6 L1089.7 287.1 L1093.9 285.3 L1096.5 285.9 L1099.7 288.1 L1102.8 289.3 L1104.9 293.2 L1108.0 292.8 L1110.3 297.8 L1114.2 298.0 L1118.2 298.7 L1121.3 299.0 L1124.7 298.9 L1126.6 296.4 L1130.4 297.1 L1133.9 294.5 L1137.0 291.7 L1140.4 291.7 L1142.7 289.6 L1146.8 288.5 L1148.5 285.7 L1152.3 286.4 L1155.7 283.7 L1157.9 284.9 L1160.3 281.0 L1164.4 282.1 L1167.0 282.5 L1171.2 284.1 L1173.6 282.4 L1178.2 285.3 L1180.2 285.2 L1183.2 282.0 L1187.7 282.5 L1189.9 282.2 L1193.6 281.0 L1197.3 278.0 L1200.1 277.5 L1204.2 279.2 L1207.5 279.8 L1211.6 277.9 L1211.5 277.1 L1213.5 273.1 L1214.2 269.6 L1216.0 268.3 L1216.7 262.0 L1218.3 260.8 L1218.4 257.1 L1220.3 252.8 L1222.7 254.5 L1227.3 256.9 L1230.8 256.4 L1233.5 256.8 L1236.7 257.2 L1240.9 258.7 L1244.0 257.1 L1247.5 255.4 L1251.5 256.4 L1254.8 257.7 L1257.3 255.8 L1261.8 255.9 L1264.3 253.9 L1267.2 256.0 L1271.2 254.4 L1274.3 255.2 L1276.5 255.0 L1278.1 259.0 L1280.1 261.0 L1282.5 261.4 L1284.7 262.7 L1286.7 266.2 L1288.4 267.3 L1291.0 272.6 L1293.7 272.3 L1296.6 274.3 L1298.6 274.6 L1301.6 271.4 L1304.5 269.8 L1307.2 268.0 L1310.4 267.1 L1311.7 262.7 L1316.2 263.4 L1317.8 263.8 L1321.6 267.2 L1324.5 266.5 L1328.3 264.0 L1331.0 268.3 L1333.9 266.6 L1336.7 268.7 L1340.8 265.3 L1343.0 268.0 L1346.1 268.0 L1348.3 270.0 L1351.5 273.6 L1355.0 274.9 L1357.6 273.2 L1360.0 277.1 L1362.8 277.7 L1366.6 277.3 L1369.3 279.6 L1371.3 285.5 L1373.8 286.1 L1376.9 290.1 L1381.5 286.2 L1384.3 287.7 L1388.1 283.4 L1391.3 285.4 L1393.8 285.4 L1397.6 289.7 L1400.4 292.6 L1402.6 289.8 L1406.2 290.0 L1410.1 286.8 L1412.2 290.6 L1415.3 289.9 L1417.9 293.5 L1421.5 297.0 L1424.4 297.2 L1426.9 297.2 L1430.3 299.3 L1433.4 298.1 L1436.8 300.1 L1439.9 301.5 L1442.8 303.6 L1446.8 303.0 L1448.6 303.1 L1452.4 305.6 L1455.4 307.7 L1457.5 307.0 L1460.3 306.4 L1462.8 308.1 L1465.5 310.4 L1469.4 311.5 L1472.2 311.1 L1474.3 313.6 L1478.3 314.0 L1479.7 313.3 L1483.1 316.9 L1485.8 315.5 L1489.8 319.1 L1492.4 317.7 L1495.7 315.5 L1498.5 316.3 L1501.5 319.4 L1505.2 316.5 L1507.3 319.8 L1509.6 320.2 L1512.0 321.2 L1513.8 323.8 L1516.6 329.5 L1519.2 328.6 L1521.5 330.9 L1523.4 333.3 L1526.3 335.7 L1528.3 339.1 L1531.4 340.2 L1534.5 340.6 L1537.3 342.7 L1540.1 343.7 L1543.2 344.2 L1546.9 346.5 L1549.4 345.2 L1552.4 347.0 L1555.0 348.9 L1558.6 348.8 L1561.3 350.8 L1564.7 351.0 L1567.1 351.7 L1571.1 353.2 L1574.0 355.3 L1577.4 355.3 L1579.1 354.7 L1582.9 355.1 L1586.1 356.1 L1588.9 357.5 L1591.6 361.3 L1593.6 362.6 L1596.2 363.4 L1598.6 363.9 L1600.3 366.9 L1602.7 369.5 L1605.6 371.3 L1606.5 374.4 L1610.1 376.0 L1611.3 378.0 L1615.1 379.8 L1617.9 382.1 L1620.3 384.9 L1623.2 386.1 L1625.6 387.7 L1628.5 390.3 L1631.4 390.6 L1634.5 392.8 L1638.1 395.3 L1640.6 398.8 L1644.2 400.4 L1646.5 403.3 L1648.1 405.8 L1650.6 407.7 L1654.4 407.3 L1658.8 409.8 L1661.7 410.3 L1665.5 410.4 L1669.5 412.1 L1670.9 412.8 L1674.4 413.9 L1678.0 415.7 L1680.8 417.6 L1683.3 418.2 L1686.4 422.2 L1688.4 423.5 L1691.7 424.7 L1694.9 428.2 L1696.6 430.0 L1700.0 431.8 L1702.0 433.6 L1704.1 434.8 L1707.8 437.6 L1709.8 439.2 L1711.6 441.4 L1714.4 444.0 L1715.8 445.4 L1718.6 447.8 L1721.5 450.6 L1722.6 451.5 L1724.8 452.8 L1727.0 455.2 L1730.6 458.4 L1733.1 459.5 L1734.5 463.1 L1738.1 465.1 L1739.3 465.7 L1742.7 468.6 L1745.6 470.1 L1747.3 470.8 L1750.4 475.2 L1753.1 476.0 L1754.8 476.6 L1758.0 479.9 L1760.9 479.6 L1762.8 482.0 L1765.1 484.3 L1768.5 485.7 L1770.7 487.3 L1773.1 488.5 L1775.0 490.7 L1777.4 491.9 L1780.4 493.3 L1783.3 494.7 L1786.2 496.1 L1787.1 499.9 L1789.9 500.2 L1792.5 502.9 L1795.8 505.2 L1797.1 506.8 L1799.7 508.7 L1802.0 509.8 L1804.3 512.3 L1806.4 515.4 L1809.0 515.7 L1811.7 519.4 L1814.5 520.8 L1816.8 522.1 L1817.9 524.1 L1820.2 526.4 L1822.4 528.3 L1823.9 530.8 L1826.1 534.3 L1828.7 535.1 L1830.5 538.9 L1832.8 540.4 L1834.5 541.7 L1836.9 543.7 L1839.2 545.8 L1841.2 548.9 L1843.1 551.6 L1844.3 553.7 L1846.2 555.2 L1848.9 557.4 L1851.5 561.3 L1853.1 563.1 L1855.1 564.9 L1857.4 566.7 L1859.2 569.5 L1861.5 570.8 L1863.8 573.8 L1866.4 575.5 L1869.2 576.5 L1870.5 579.7 L1873.4 581.5 L1876.9 582.9 L1877.9 585.3 L1881.2 585.7 L1883.0 588.1 L1885.3 590.9 L1888.7 592.6 L1890.8 594.5 L1892.9 595.7 L1895.7 595.7 L1898.0 597.9 L1901.6 600.0 L1903.7 602.3 L1906.0 604.1 L1909.2 606.5 L1911.5 608.0 L1914.8 609.5 L1916.5 610.0 L1918.5 613.1 L1921.1 614.1 L1923.6 615.3 L1925.2 619.5 L1927.7 622.1 L1930.3 622.5 L1931.9 624.8 L1933.4 628.1 L1936.3 630.8 L1937.0 633.0 L1939.5 634.6 L1941.3 638.6 L1944.2 640.8 L1944.7 643.4 L1947.4 645.6 L1948.9 646.3 L1952.6 648.7 L1953.7 651.2 L1957.7 654.1 L1959.3 656.5 L1962.5 658.1 L1964.7 659.1 L1967.7 661.3 L1970.2 663.5 L1972.7 665.3 L1974.5 667.6 L1976.8 668.6 L1979.4 672.6 L1981.0 675.0 L1984.0 677.1 L1985.5 680.0 L1988.2 681.3 L1989.3 683.7 L1991.2 686.8 L1993.9 687.9 L1996.4 690.8 L1998.5 692.8 L2000.8 696.0 L2002.6 697.6 L2005.3 698.7 L2006.2 701.8 L2008.3 705.6 L2010.2 706.1 L2012.4 709.4 L2015.2 713.0 L2017.2 714.4 L2017.9 715.4 L2020.8 719.6 L2022.2 722.4 L2024.7 723.8 L2026.8 725.0 L2028.0 729.4 L2030.1 729.7 L2032.2 733.6 L2034.3 734.7 L2036.4 737.7 L2039.3 739.7 L2041.6 743.6 L2043.7 743.8 L2045.0 748.2 L2048.0 748.6 L2049.5 751.5 L2052.1 753.1 L2053.5 757.2 L2056.6 757.8 L2058.2 761.6 L2060.8 763.4 L2062.8 765.5 L2063.3 767.9 L2065.9 770.4 L2067.2 773.2 L2068.7 777.7 L2071.0 780.2 L2073.5 781.0 L2075.7 783.1 L2077.6 785.7 L2078.3 789.6 L2079.7 792.7 L2081.7 795.4 L2083.5 797.3 L2085.6 799.3 L2087.9 802.1 L2089.9 805.0 L2091.9 806.0 L2094.9 808.5 L2097.5 811.1 L2099.0 812.3 L2100.5 814.7 L2103.6 818.3 L2106.4 819.9 L2108.2 821.9 L2109.4 824.3 L2112.4 827.8 L2114.9 830.4 L2116.3 832.2 L2118.2 834.6 L2120.5 837.3 L2122.8 839.5 L2124.2 843.0 L2126.5 844.8 L2128.4 848.0 L2130.5 849.2 L2132.0 852.6" stroke="#BEBEBE" stroke-width="6" fill="none" stroke-linejoin="round"/>
<path d="M200 852.1H2226" stroke="#000" stroke-width="5.6" fill="none"/>
<path d="M291.4 815.1H293.9V890.1H291.4ZM295.9 815.1H297.9V890.1H295.9ZM299.8 815.1H301.8V890.1H299.8ZM303.1 815.1H305.7V890.1H303.1ZM307.3 815.1H309.5V890.1H307.3ZM310.8 815.1H312.8V890.1H310.8ZM317.6 815.1H319.6V890.1H317.6ZM322.5 815.1H325.7V890.1H322.5ZM327.3 815.1H329.6V890.1H327.3ZM331.1 815.1H336.2V890.1H331.1ZM337.8 815.1H342.0V890.1H337.8ZM344.5 815.1H347.7V890.1H344.5ZM349.8 815.1H353.4V890.1H349.8ZM356.5 815.1H359.3V890.1H356.5ZM360.1 815.1H363.0V890.1H360.1ZM365.5 815.1H368.1V890.1H365.5ZM368.9 815.1H371.6V890.1H368.9ZM375.0 815.1H378.1V890.1H375.0ZM378.9 815.1H382.1V890.1H378.9ZM383.6 815.1H388.7V890.1H383.6ZM390.3 815.1H393.4V890.1H390.3ZM394.2 815.1H397.3V890.1H394.2ZM398.8 815.1H400.8V890.1H398.8ZM403.5 815.1H405.5V890.1H403.5ZM408.8 815.1H410.8V890.1H408.8ZM417.4 815.1H420.6V890.1H417.4ZM422.7 815.1H426.0V890.1H422.7ZM427.9 815.1H432.7V890.1H427.9ZM433.5 815.1H438.4V890.1H433.5ZM441.4 815.1H444.7V890.1H441.4ZM448.4 815.1H450.4V890.1H448.4ZM457.5 815.1H460.7V890.1H457.5ZM473.9 815.1H475.9V890.1H473.9ZM477.1 815.1H479.4V890.1H477.1ZM481.9 815.1H484.2V890.1H481.9ZM492.8 815.1H494.8V890.1H492.8ZM496.2 815.1H499.8V890.1H496.2ZM500.6 815.1H504.2V890.1H500.6ZM513.1 815.1H515.1V890.1H513.1ZM518.2 815.1H522.4V890.1H518.2ZM523.9 815.1H527.7V890.1H523.9ZM528.5 815.1H532.4V890.1H528.5ZM533.2 815.1H537.0V890.1H533.2ZM537.8 815.1H541.6V890.1H537.8ZM542.4 815.1H546.2V890.1H542.4ZM548.3 815.1H551.9V890.1H548.3ZM562.1 815.1H564.3V890.1H562.1ZM565.9 815.1H570.0V890.1H565.9ZM570.8 815.1H574.8V890.1H570.8ZM576.4 815.1H579.6V890.1H576.4ZM583.1 815.1H588.2V890.1H583.1ZM589.4 815.1H591.4V890.1H589.4ZM595.1 815.1H597.1V890.1H595.1ZM598.7 815.1H602.0V890.1H598.7ZM602.8 815.1H606.2V890.1H602.8ZM609.8 815.1H611.8V890.1H609.8ZM615.3 815.1H619.4V890.1H615.3ZM620.2 815.1H624.3V890.1H620.2ZM625.8 815.1H628.1V890.1H625.8ZM629.7 815.1H631.9V890.1H629.7ZM633.5 815.1H637.5V890.1H633.5ZM638.3 815.1H642.4V890.1H638.3ZM645.3 815.1H648.6V890.1H645.3ZM649.4 815.1H652.7V890.1H649.4ZM653.5 815.1H656.7V890.1H653.5ZM660.8 815.1H662.8V890.1H660.8ZM665.5 815.1H667.6V890.1H665.5ZM672.0 815.1H674.0V890.1H672.0ZM675.3 815.1H677.3V890.1H675.3ZM678.8 815.1H680.8V890.1H678.8ZM685.9 815.1H687.9V890.1H685.9ZM692.3 815.1H694.3V890.1H692.3ZM698.0 815.1H701.6V890.1H698.0ZM704.5 815.1H708.2V890.1H704.5ZM709.0 815.1H712.8V890.1H709.0ZM713.6 815.1H717.3V890.1H713.6ZM718.1 815.1H721.9V890.1H718.1ZM722.7 815.1H726.4V890.1H722.7ZM729.9 815.1H732.5V890.1H729.9ZM734.6 815.1H737.5V890.1H734.6ZM740.4 815.1H744.0V890.1H740.4ZM744.8 815.1H748.4V890.1H744.8ZM754.7 815.1H757.3V890.1H754.7ZM763.6 815.1H765.6V890.1H763.6ZM769.3 815.1H771.3V890.1H769.3ZM772.7 815.1H774.7V890.1H772.7ZM778.9 815.1H782.7V890.1H778.9ZM785.2 815.1H789.9V890.1H785.2ZM790.7 815.1H795.4V890.1H790.7ZM796.2 815.1H800.9V890.1H796.2ZM808.1 815.1H810.1V890.1H808.1ZM812.9 815.1H815.2V890.1H812.9ZM817.9 815.1H819.9V890.1H817.9ZM822.1 815.1H825.7V890.1H822.1ZM833.5 815.1H837.5V890.1H833.5ZM842.5 815.1H844.8V890.1H842.5ZM846.7 815.1H848.7V890.1H846.7ZM850.1 815.1H852.4V890.1H850.1ZM854.8 815.1H856.8V890.1H854.8ZM863.9 815.1H865.9V890.1H863.9ZM872.1 815.1H874.3V890.1H872.1ZM876.9 815.1H879.5V890.1H876.9ZM881.6 815.1H884.8V890.1H881.6ZM891.2 815.1H893.4V890.1H891.2ZM896.5 815.1H900.1V890.1H896.5ZM905.3 815.1H909.5V890.1H905.3ZM914.5 815.1H916.5V890.1H914.5ZM919.6 815.1H923.8V890.1H919.6ZM927.3 815.1H931.4V890.1H927.3ZM936.2 815.1H940.8V890.1H936.2ZM941.6 815.1H946.1V890.1H941.6ZM946.9 815.1H951.5V890.1H946.9ZM956.5 815.1H961.6V890.1H956.5ZM963.5 815.1H965.8V890.1H963.5ZM967.3 815.1H969.6V890.1H967.3ZM972.1 815.1H975.7V890.1H972.1ZM976.5 815.1H980.1V890.1H976.5ZM983.6 815.1H986.2V890.1H983.6ZM987.0 815.1H989.6V890.1H987.0ZM991.2 815.1H996.4V890.1H991.2ZM997.2 815.1H1002.4V890.1H997.2ZM1007.4 815.1H1011.3V890.1H1007.4ZM1012.1 815.1H1015.9V890.1H1012.1ZM1016.7 815.1H1020.6V890.1H1016.7ZM1021.4 815.1H1025.2V890.1H1021.4ZM1026.0 815.1H1029.9V890.1H1026.0ZM1030.7 815.1H1034.5V890.1H1030.7ZM1035.7 815.1H1037.7V890.1H1035.7ZM1044.3 815.1H1046.9V890.1H1044.3ZM1050.2 815.1H1052.2V890.1H1050.2ZM1057.1 815.1H1060.8V890.1H1057.1ZM1061.6 815.1H1065.4V890.1H1061.6ZM1068.4 815.1H1070.4V890.1H1068.4ZM1073.3 815.1H1077.4V890.1H1073.3ZM1078.2 815.1H1082.2V890.1H1078.2ZM1084.4 815.1H1087.6V890.1H1084.4ZM1090.8 815.1H1092.8V890.1H1090.8ZM1095.8 815.1H1098.5V890.1H1095.8ZM1103.8 815.1H1108.9V890.1H1103.8ZM1111.1 815.1H1113.1V890.1H1111.1ZM1117.2 815.1H1120.6V890.1H1117.2ZM1121.4 815.1H1124.8V890.1H1121.4ZM1125.6 815.1H1129.0V890.1H1125.6ZM1132.5 815.1H1136.2V890.1H1132.5ZM1137.0 815.1H1140.7V890.1H1137.0ZM1141.5 815.1H1145.2V890.1H1141.5ZM1147.7 815.1H1152.9V890.1H1147.7ZM1153.7 815.1H1159.0V890.1H1153.7ZM1163.0 815.1H1166.1V890.1H1163.0ZM1166.9 815.1H1170.0V890.1H1166.9ZM1172.5 815.1H1176.6V890.1H1172.5ZM1177.4 815.1H1181.4V890.1H1177.4ZM1182.2 815.1H1186.3V890.1H1182.2ZM1189.3 815.1H1193.1V890.1H1189.3ZM1193.9 815.1H1197.6V890.1H1193.9ZM1198.4 815.1H1202.1V890.1H1198.4ZM1207.3 815.1H1212.0V890.1H1207.3ZM1215.3 815.1H1218.6V890.1H1215.3ZM1219.4 815.1H1222.7V890.1H1219.4ZM1229.6 815.1H1233.2V890.1H1229.6ZM1234.0 815.1H1237.6V890.1H1234.0ZM1243.6 815.1H1247.6V890.1H1243.6ZM1248.4 815.1H1252.5V890.1H1248.4ZM1256.3 815.1H1258.3V890.1H1256.3ZM1260.2 815.1H1263.8V890.1H1260.2ZM1264.6 815.1H1268.1V890.1H1264.6ZM1270.3 815.1H1273.5V890.1H1270.3ZM1288.7 815.1H1290.7V890.1H1288.7ZM1294.5 815.1H1298.8V890.1H1294.5ZM1299.6 815.1H1303.8V890.1H1299.6ZM1304.6 815.1H1308.9V890.1H1304.6ZM1309.7 815.1H1314.0V890.1H1309.7ZM1315.5 815.1H1318.6V890.1H1315.5ZM1319.4 815.1H1322.6V890.1H1319.4ZM1326.0 815.1H1328.9V890.1H1326.0ZM1331.4 815.1H1333.4V890.1H1331.4ZM1335.2 815.1H1339.2V890.1H1335.2ZM1341.3 815.1H1343.5V890.1H1341.3ZM1348.5 815.1H1350.6V890.1H1348.5ZM1352.7 815.1H1356.9V890.1H1352.7ZM1358.5 815.1H1360.7V890.1H1358.5ZM1362.3 815.1H1367.0V890.1H1362.3ZM1377.6 815.1H1382.2V890.1H1377.6ZM1383.0 815.1H1387.7V890.1H1383.0ZM1388.5 815.1H1393.2V890.1H1388.5ZM1397.6 815.1H1401.1V890.1H1397.6ZM1401.9 815.1H1405.5V890.1H1401.9ZM1406.3 815.1H1409.8V890.1H1406.3ZM1415.0 815.1H1417.0V890.1H1415.0ZM1419.2 815.1H1421.2V890.1H1419.2ZM1422.4 815.1H1425.6V890.1H1422.4ZM1430.0 815.1H1432.3V890.1H1430.0ZM1434.4 815.1H1439.0V890.1H1434.4ZM1442.5 815.1H1446.1V890.1H1442.5ZM1446.9 815.1H1450.4V890.1H1446.9ZM1453.5 815.1H1455.6V890.1H1453.5ZM1456.7 815.1H1458.7V890.1H1456.7ZM1462.5 815.1H1466.1V890.1H1462.5ZM1466.9 815.1H1470.5V890.1H1466.9ZM1478.3 815.1H1481.0V890.1H1478.3ZM1482.5 815.1H1486.6V890.1H1482.5ZM1487.4 815.1H1491.5V890.1H1487.4ZM1493.6 815.1H1495.7V890.1H1493.6ZM1499.3 815.1H1502.6V890.1H1499.3ZM1503.4 815.1H1506.8V890.1H1503.4ZM1508.3 815.1H1513.4V890.1H1508.3ZM1519.1 815.1H1521.1V890.1H1519.1ZM1525.3 815.1H1527.6V890.1H1525.3ZM1532.0 815.1H1535.2V890.1H1532.0ZM1537.6 815.1H1539.6V890.1H1537.6ZM1542.1 815.1H1544.9V890.1H1542.1ZM1545.7 815.1H1548.6V890.1H1545.7ZM1550.1 815.1H1554.0V890.1H1550.1ZM1554.8 815.1H1558.7V890.1H1554.8ZM1562.9 815.1H1564.9V890.1H1562.9ZM1566.9 815.1H1571.5V890.1H1566.9ZM1573.4 815.1H1576.1V890.1H1573.4ZM1576.9 815.1H1579.7V890.1H1576.9ZM1586.0 815.1H1589.6V890.1H1586.0ZM1591.2 815.1H1593.8V890.1H1591.2ZM1595.2 815.1H1597.2V890.1H1595.2ZM1600.6 815.1H1602.6V890.1H1600.6ZM1607.7 815.1H1609.7V890.1H1607.7ZM1616.5 815.1H1618.6V890.1H1616.5ZM1622.3 815.1H1627.3V890.1H1622.3ZM1628.1 815.1H1633.1V890.1H1628.1ZM1637.0 815.1H1640.2V890.1H1637.0ZM1647.5 815.1H1650.9V890.1H1647.5ZM1651.7 815.1H1655.1V890.1H1651.7ZM1655.9 815.1H1659.3V890.1H1655.9ZM1661.2 815.1H1666.9V890.1H1661.2ZM1674.2 815.1H1677.0V890.1H1674.2ZM1678.9 815.1H1680.9V890.1H1678.9ZM1682.2 815.1H1685.4V890.1H1682.2ZM1690.4 815.1H1692.4V890.1H1690.4ZM1693.7 815.1H1698.8V890.1H1693.7ZM1700.5 815.1H1703.7V890.1H1700.5ZM1704.5 815.1H1707.6V890.1H1704.5ZM1713.3 815.1H1715.6V890.1H1713.3ZM1717.1 815.1H1719.4V890.1H1717.1ZM1721.4 815.1H1723.4V890.1H1721.4ZM1725.3 815.1H1727.4V890.1H1725.3ZM1729.5 815.1H1732.4V890.1H1729.5ZM1740.0 815.1H1742.3V890.1H1740.0ZM1745.8 815.1H1749.9V890.1H1745.8ZM1750.7 815.1H1754.9V890.1H1750.7ZM1755.7 815.1H1759.9V890.1H1755.7ZM1762.9 815.1H1764.9V890.1H1762.9ZM1766.2 815.1H1768.7V890.1H1766.2ZM1770.6 815.1H1774.8V890.1H1770.6ZM1776.7 815.1H1778.7V890.1H1776.7ZM1780.1 815.1H1785.3V890.1H1780.1ZM1788.3 815.1H1791.9V890.1H1788.3ZM1798.6 815.1H1803.8V890.1H1798.6ZM1805.9 815.1H1807.9V890.1H1805.9ZM1812.0 815.1H1815.4V890.1H1812.0ZM1816.2 815.1H1819.6V890.1H1816.2ZM1828.4 815.1H1831.1V890.1H1828.4ZM1836.3 815.1H1838.5V890.1H1836.3ZM1845.8 815.1H1848.1V890.1H1845.8ZM1861.1 815.1H1864.5V890.1H1861.1ZM1865.3 815.1H1868.7V890.1H1865.3ZM1870.0 815.1H1873.4V890.1H1870.0ZM1874.2 815.1H1877.6V890.1H1874.2ZM1880.2 815.1H1884.7V890.1H1880.2ZM1892.0 815.1H1894.0V890.1H1892.0ZM1895.4 815.1H1899.5V890.1H1895.4ZM1900.3 815.1H1904.3V890.1H1900.3ZM1905.1 815.1H1909.1V890.1H1905.1ZM1913.6 815.1H1918.7V890.1H1913.6ZM1920.2 815.1H1922.9V890.1H1920.2ZM1923.7 815.1H1926.3V890.1H1923.7ZM1928.7 815.1H1930.7V890.1H1928.7ZM1932.7 815.1H1935.6V890.1H1932.7ZM1936.4 815.1H1939.3V890.1H1936.4ZM1943.2 815.1H1946.4V890.1H1943.2ZM1950.8 815.1H1953.6V890.1H1950.8ZM1954.4 815.1H1957.2V890.1H1954.4ZM1959.4 815.1H1964.1V890.1H1959.4ZM1965.7 815.1H1967.7V890.1H1965.7ZM1971.2 815.1H1975.6V890.1H1971.2ZM1979.4 815.1H1981.7V890.1H1979.4ZM1987.6 815.1H1989.7V890.1H1987.6ZM1991.1 815.1H1993.1V890.1H1991.1ZM1995.3 815.1H1998.6V890.1H1995.3ZM1999.4 815.1H2002.7V890.1H1999.4ZM2003.9 815.1H2005.9V890.1H2003.9ZM2008.6 815.1H2014.1V890.1H2008.6ZM2020.1 815.1H2022.7V890.1H2020.1ZM2025.2 815.1H2027.2V890.1H2025.2ZM2030.0 815.1H2034.1V890.1H2030.0ZM2034.9 815.1H2038.9V890.1H2034.9ZM2041.1 815.1H2044.7V890.1H2041.1ZM2050.0 815.1H2052.3V890.1H2050.0ZM2054.8 815.1H2057.1V890.1H2054.8ZM2062.1 815.1H2064.9V890.1H2062.1ZM2065.7 815.1H2068.5V890.1H2065.7ZM2070.1 815.1H2074.2V890.1H2070.1ZM2075.0 815.1H2079.0V890.1H2075.0ZM2082.4 815.1H2084.4V890.1H2082.4ZM2087.7 815.1H2090.5V890.1H2087.7ZM2092.0 815.1H2094.7V890.1H2092.0ZM2097.8 815.1H2100.4V890.1H2097.8ZM2102.2 815.1H2104.8V890.1H2102.2ZM2106.4 815.1H2109.5V890.1H2106.4ZM2110.3 815.1H2113.4V890.1H2110.3ZM2118.8 815.1H2121.0V890.1H2118.8ZM2123.2 815.1H2126.0V890.1H2123.2ZM2126.8 815.1H2129.6V890.1H2126.8ZM2131.5 815.1H2133.5V890.1H2131.5Z" fill="#000"/>
<text x="2316.5" y="184.5" font-size="61.2" fill="#000" text-anchor="start" >p</text>
<circle cx="2349.6" cy="253.7" r="4" fill="#000"/>
<text x="2411.0" y="273.2" font-size="49.2" fill="#000" text-anchor="start" >0</text>
<circle cx="2349.6" cy="317.8" r="9" fill="#000"/>
<text x="2411.0" y="337.3" font-size="49.2" fill="#000" text-anchor="start" >2</text>
<circle cx="2349.6" cy="381.9" r="13.9" fill="#000"/>
<text x="2411.0" y="401.4" font-size="49.2" fill="#000" text-anchor="start" >4</text>
<circle cx="2349.6" cy="446.0" r="19" fill="#000"/>
<text x="2411.0" y="465.5" font-size="49.2" fill="#000" text-anchor="start" >6</text>
<text x="2316.5" y="653.0" font-size="61.2" fill="#000" text-anchor="start" >p</text>
<rect x="2317.8" y="688.9" width="64" height="319.7" fill="url(#cbar)"/>
<text x="2411.0" y="1019.2" font-size="49.2" fill="#000" text-anchor="start" >0</text>
<text x="2411.0" y="934.0" font-size="49.2" fill="#000" text-anchor="start" >2</text>
<text x="2411.0" y="848.9" font-size="49.2" fill="#000" text-anchor="start" >4</text>
<text x="2411.0" y="763.7" font-size="49.2" fill="#000" text-anchor="start" >6</text>
<path d="M2317.8 1000.7h12.9M2368.9 1000.7h12.9M2317.8 915.5h12.9M2368.9 915.5h12.9M2317.8 830.4h12.9M2368.9 830.4h12.9M2317.8 745.2h12.9M2368.9 745.2h12.9" stroke="#FFFFFF" stroke-width="2.7" fill="none"/>
<text x="0" y="0" font-size="74" fill="#000" text-anchor="middle" transform="translate(1213.0 1250.2) scale(1 1.035)" >Occipital Lobe (TAG group: p &lt; 0.05)</text>
<text x="0" y="0" font-size="61.3" fill="#000" text-anchor="middle" transform="translate(1213.0 1343.0) scale(1 1.035)" >Empirical p = 0.109; NES = 1.068</text>
<path d="M292.2 1386.67V2087.67M948.4 1386.67V2087.67M1604.6 1386.67V2087.67M200 2018.8H2226M200 1801.4H2226M200 1584.0H2226" stroke="#EBEBEB" stroke-width="5.6" fill="none"/>
<path d="M292.2 2087.67V2102.67M948.4 2087.67V2102.67M1604.6 2087.67V2102.67M185 2018.8H200M185 1801.4H200M185 1584.0H200" stroke="#333333" stroke-width="5.6" fill="none"/>
<text x="292.2" y="2151.8" font-size="49.2" fill="#4D4D4D" text-anchor="middle" >0</text>
<text x="948.4" y="2151.8" font-size="49.2" fill="#4D4D4D" text-anchor="middle" >5000</text>
<text x="1604.6" y="2151.8" font-size="49.2" fill="#4D4D4D" text-anchor="middle" >10000</text>
<text x="173.5" y="2036.3" font-size="49.4" fill="#4D4D4D" text-anchor="end" >0.0</text>
<text x="173.5" y="1818.9" font-size="49.4" fill="#4D4D4D" text-anchor="end" >0.1</text>
<text x="173.5" y="1601.5" font-size="49.4" fill="#4D4D4D" text-anchor="end" >0.2</text>
<text x="0" y="0" font-size="61.2" fill="#000" text-anchor="middle" transform="translate(1213.0 2222.5) scale(1 1.035)" >Rank of gene by tissue z-score in ENCODE</text>
<text x="0" y="0" font-size="61.1" fill="#000" text-anchor="middle" transform="translate(75.4 1737.2) rotate(-90) scale(1 1.035)">enrichment score</text>
<path d="M200 1418.6H2226" stroke="#FF0000" stroke-width="5.6" stroke-dasharray="23.7 23.7" fill="none"/>
<path d="M200 2020.8H2226" stroke="#FF0000" stroke-width="3" stroke-dasharray="23.7 23.7" fill="none" opacity="0.6"/>
<path d="M288.4 2020.8 L288.8 2014.4 L291.8 2014.7 L293.4 2010.3 L295.1 2009.0 L296.8 2004.5 L298.4 2002.9 L300.5 2002.8 L302.6 1998.0 L303.5 1994.0 L304.5 1990.2 L306.9 1988.6 L308.4 1988.4 L310.3 1984.1 L311.5 1979.0 L313.4 1976.7 L315.3 1977.7 L317.3 1971.3 L319.5 1971.3 L321.2 1969.1 L323.2 1965.9 L324.4 1964.0 L327.3 1957.7 L328.9 1957.4 L330.3 1953.9 L332.3 1953.0 L334.6 1950.6 L336.7 1948.9 L339.9 1945.2 L341.7 1945.2 L344.2 1941.4 L345.7 1938.8 L348.8 1936.2 L351.5 1934.7 L351.8 1931.8 L352.2 1930.4 L351.7 1926.5 L352.3 1923.8 L352.0 1919.0 L352.7 1919.1 L353.2 1912.3 L353.8 1912.1 L354.2 1906.6 L354.3 1903.0 L355.9 1901.2 L356.9 1901.1 L358.4 1896.8 L361.3 1892.8 L362.0 1892.9 L364.0 1889.5 L365.1 1885.2 L367.1 1883.8 L368.6 1882.3 L370.3 1878.6 L372.0 1873.8 L374.9 1870.6 L375.6 1870.2 L377.7 1864.6 L380.4 1862.4 L380.5 1860.5 L383.2 1859.5 L384.1 1855.0 L385.1 1852.4 L387.5 1850.6 L388.9 1847.6 L390.1 1844.3 L390.7 1839.1 L392.2 1836.4 L392.5 1833.9 L394.9 1829.4 L395.6 1827.5 L399.0 1827.2 L403.1 1828.4 L406.0 1829.9 L408.5 1831.3 L411.8 1827.2 L414.7 1825.8 L417.9 1826.1 L421.6 1825.8 L425.4 1824.0 L425.2 1818.5 L426.2 1816.0 L427.7 1813.9 L428.8 1808.4 L429.2 1806.5 L429.5 1801.3 L431.1 1798.5 L432.5 1796.0 L432.4 1792.7 L433.6 1789.8 L435.7 1788.3 L437.0 1786.6 L438.6 1785.2 L441.4 1781.9 L442.3 1778.5 L444.2 1773.9 L445.6 1773.5 L446.9 1769.1 L449.5 1767.7 L450.8 1767.7 L452.6 1762.4 L454.6 1759.9 L454.4 1758.5 L456.0 1754.0 L458.5 1752.9 L458.6 1749.1 L460.7 1746.4 L461.7 1744.1 L462.9 1740.0 L464.8 1740.0 L465.7 1736.4 L467.3 1732.8 L469.3 1729.6 L471.6 1726.6 L472.3 1722.6 L474.0 1723.1 L476.6 1720.9 L478.4 1714.0 L480.0 1714.6 L481.8 1710.6 L483.0 1707.7 L485.0 1704.2 L486.0 1702.3 L488.0 1701.0 L489.4 1698.4 L489.7 1693.1 L491.4 1690.4 L492.7 1689.6 L494.8 1686.4 L496.0 1681.5 L496.8 1682.7 L498.0 1677.4 L499.4 1673.1 L502.3 1674.3 L503.4 1667.8 L504.4 1665.4 L506.6 1664.6 L507.7 1661.2 L508.7 1658.5 L511.6 1656.6 L513.3 1656.8 L517.4 1656.9 L520.8 1659.0 L523.5 1660.0 L527.1 1662.9 L528.7 1658.2 L530.8 1655.8 L533.4 1657.6 L535.0 1654.0 L537.8 1651.7 L540.5 1652.1 L542.8 1648.1 L545.5 1645.6 L546.3 1643.9 L547.5 1641.7 L547.8 1637.6 L549.2 1634.7 L551.3 1631.5 L550.9 1627.7 L553.2 1626.5 L554.2 1623.1 L555.4 1621.2 L558.7 1617.2 L561.1 1616.0 L562.0 1613.2 L565.2 1608.0 L567.4 1607.3 L568.6 1605.7 L570.7 1602.4 L573.3 1598.4 L575.7 1596.9 L577.8 1597.5 L580.3 1591.7 L583.6 1593.9 L586.6 1592.0 L589.0 1590.1 L591.4 1586.7 L594.3 1584.2 L596.3 1585.8 L598.9 1583.8 L602.3 1580.2 L604.5 1579.8 L607.2 1574.9 L608.5 1574.0 L611.4 1571.5 L613.1 1570.6 L617.0 1567.8 L618.8 1565.8 L621.2 1566.2 L623.7 1563.4 L626.6 1561.2 L629.9 1557.4 L632.4 1556.6 L634.7 1557.0 L637.3 1553.4 L640.7 1551.8 L643.5 1552.8 L646.4 1554.4 L649.9 1553.1 L652.2 1551.1 L655.6 1550.7 L658.4 1553.6 L661.2 1552.6 L664.7 1550.3 L666.5 1546.7 L668.7 1544.8 L670.5 1543.0 L673.2 1543.5 L674.4 1540.0 L677.1 1536.3 L677.6 1533.6 L679.7 1533.2 L682.5 1529.8 L685.7 1527.3 L688.3 1527.1 L690.1 1526.0 L692.6 1524.2 L696.0 1520.6 L698.2 1520.6 L700.8 1517.8 L703.5 1516.6 L705.9 1514.9 L707.7 1511.3 L711.3 1508.7 L714.0 1506.3 L717.9 1505.6 L720.2 1506.4 L722.8 1505.2 L725.8 1499.5 L728.5 1498.7 L731.7 1498.7 L733.8 1494.4 L735.8 1491.2 L739.3 1492.1 L741.5 1493.4 L744.4 1492.2 L748.7 1491.4 L750.5 1492.0 L753.8 1493.2 L756.8 1493.0 L759.9 1492.8 L763.1 1494.7 L765.3 1498.2 L767.4 1497.0 L771.3 1499.8 L773.7 1500.0 L775.9 1504.7 L778.2 1505.9 L781.8 1502.7 L785.4 1501.1 L787.7 1500.6 L790.5 1500.0 L794.0 1497.0 L797.0 1497.0 L800.8 1494.5 L803.0 1490.8 L806.2 1487.3 L807.5 1489.2 L809.5 1486.6 L812.3 1484.2 L813.2 1479.2 L816.3 1475.6 L817.1 1474.8 L819.2 1471.6 L821.9 1469.0 L825.4 1473.3 L827.0 1476.2 L830.4 1476.2 L834.0 1476.6 L837.0 1478.1 L839.6 1480.6 L843.7 1477.7 L846.5 1478.0 L848.7 1475.1 L851.8 1472.2 L854.8 1473.3 L857.8 1474.0 L861.4 1476.4 L865.3 1478.3 L868.1 1477.2 L871.5 1476.4 L873.3 1479.9 L875.3 1474.3 L876.0 1471.8 L877.3 1469.5 L878.4 1468.3 L880.2 1464.3 L880.8 1460.2 L882.5 1460.4 L882.8 1456.3 L886.6 1456.1 L888.6 1455.6 L891.9 1454.1 L895.6 1456.0 L898.8 1456.5 L902.0 1455.3 L904.0 1456.6 L907.1 1454.4 L908.6 1448.4 L909.8 1446.3 L912.4 1445.8 L913.5 1445.1 L917.8 1443.5 L920.1 1439.6 L922.7 1440.6 L926.6 1436.9 L930.0 1436.8 L932.3 1434.8 L935.9 1433.7 L938.8 1433.3 L942.0 1435.0 L945.4 1435.7 L946.3 1434.7 L948.2 1432.2 L951.0 1428.2 L952.6 1427.9 L954.5 1424.4 L957.0 1424.8 L960.1 1425.3 L962.7 1427.2 L965.8 1428.0 L969.5 1428.2 L971.9 1430.4 L976.1 1429.6 L978.8 1432.1 L982.3 1432.8 L984.4 1431.4 L988.4 1432.4 L990.1 1435.5 L993.0 1431.0 L995.7 1428.7 L999.0 1427.1 L1001.1 1425.3 L1004.3 1421.5 L1006.4 1420.0 L1008.8 1422.6 L1012.3 1420.7 L1015.7 1424.9 L1018.9 1423.6 L1022.2 1425.9 L1024.2 1423.7 L1028.6 1428.4 L1030.5 1429.3 L1034.6 1430.8 L1037.4 1432.4 L1039.8 1429.5 L1042.6 1429.9 L1045.8 1428.2 L1049.2 1425.9 L1053.3 1424.1 L1055.5 1425.6 L1058.2 1426.5 L1061.8 1430.6 L1064.2 1432.7 L1068.2 1430.3 L1071.3 1431.6 L1074.1 1430.0 L1077.2 1431.6 L1080.7 1431.7 L1083.6 1432.1 L1086.0 1428.7 L1089.4 1429.6 L1092.0 1430.9 L1095.7 1432.6 L1098.9 1434.5 L1101.1 1433.3 L1104.2 1434.2 L1107.8 1432.3 L1109.8 1436.8 L1112.3 1440.3 L1114.3 1439.8 L1117.4 1443.2 L1118.3 1446.2 L1120.9 1449.1 L1123.5 1450.6 L1127.0 1449.6 L1130.2 1447.7 L1132.3 1451.5 L1134.8 1451.1 L1139.5 1451.5 L1142.4 1448.9 L1144.9 1452.6 L1147.8 1453.0 L1151.5 1453.2 L1153.3 1456.3 L1157.9 1458.7 L1160.5 1457.6 L1163.5 1458.2 L1165.1 1463.3 L1168.8 1463.3 L1171.4 1463.8 L1173.6 1465.4 L1175.6 1467.7 L1177.9 1470.4 L1181.8 1469.8 L1185.1 1468.8 L1188.0 1470.9 L1190.9 1472.6 L1193.5 1470.5 L1197.1 1470.2 L1200.6 1469.4 L1202.5 1467.0 L1205.0 1467.5 L1208.3 1464.4 L1209.9 1462.4 L1212.5 1459.6 L1214.9 1459.4 L1219.0 1461.4 L1220.9 1462.0 L1223.3 1465.3 L1225.8 1466.8 L1228.1 1471.2 L1231.8 1473.8 L1234.3 1469.4 L1236.8 1472.1 L1240.9 1470.0 L1243.3 1469.7 L1245.8 1468.9 L1249.1 1468.6 L1252.2 1466.9 L1255.5 1466.7 L1258.4 1468.9 L1261.9 1466.9 L1264.6 1469.3 L1268.1 1468.6 L1271.5 1466.6 L1274.0 1469.2 L1276.8 1471.0 L1280.7 1468.8 L1283.3 1471.7 L1286.5 1471.1 L1289.7 1472.2 L1291.7 1474.8 L1295.6 1474.8 L1298.5 1478.6 L1302.0 1477.2 L1305.3 1479.1 L1307.5 1480.6 L1311.2 1480.8 L1314.1 1478.9 L1316.8 1475.2 L1319.9 1474.6 L1323.8 1474.8 L1325.1 1474.0 L1326.3 1471.9 L1328.4 1466.2 L1330.7 1465.1 L1333.1 1462.9 L1334.2 1463.4 L1336.6 1468.0 L1340.1 1468.5 L1342.0 1472.8 L1345.3 1477.5 L1348.0 1477.7 L1350.3 1477.6 L1353.1 1479.1 L1355.3 1483.7 L1358.5 1485.0 L1361.0 1484.7 L1363.8 1487.7 L1366.2 1490.6 L1370.1 1489.4 L1372.0 1492.4 L1375.8 1490.1 L1378.7 1490.4 L1382.2 1492.3 L1384.7 1490.6 L1387.6 1492.3 L1390.7 1489.7 L1393.5 1490.7 L1397.7 1490.1 L1400.3 1488.5 L1402.6 1484.7 L1406.6 1482.5 L1407.8 1488.3 L1410.2 1488.1 L1412.7 1493.4 L1414.3 1496.0 L1417.0 1497.1 L1419.5 1497.5 L1422.4 1500.2 L1425.3 1504.6 L1427.8 1506.2 L1430.2 1503.9 L1433.9 1504.9 L1437.5 1508.1 L1440.6 1508.4 L1442.4 1512.0 L1445.8 1511.0 L1448.8 1512.7 L1452.4 1512.0 L1454.8 1513.7 L1459.1 1513.9 L1460.9 1514.2 L1464.2 1513.3 L1466.9 1511.8 L1468.8 1510.4 L1471.3 1505.1 L1474.1 1506.3 L1477.4 1505.2 L1480.9 1503.6 L1483.0 1502.8 L1486.3 1506.4 L1487.8 1507.5 L1490.3 1507.0 L1494.0 1512.0 L1497.1 1514.0 L1498.7 1515.8 L1502.8 1517.4 L1504.8 1517.6 L1507.2 1519.8 L1511.7 1518.4 L1514.5 1522.6 L1516.9 1523.1 L1519.6 1521.5 L1523.4 1524.8 L1526.4 1522.1 L1530.1 1525.0 L1532.9 1524.2 L1535.3 1524.2 L1538.2 1526.4 L1541.6 1528.0 L1545.4 1527.3 L1548.6 1529.3 L1550.8 1527.9 L1554.8 1531.3 L1556.4 1532.7 L1560.0 1532.9 L1563.7 1533.3 L1566.0 1536.0 L1570.1 1535.4 L1573.0 1539.5 L1574.7 1540.9 L1578.1 1542.9 L1580.6 1542.9 L1583.3 1544.3 L1585.9 1546.8 L1588.0 1547.7 L1591.1 1550.2 L1594.1 1553.5 L1596.3 1554.6 L1599.1 1555.0 L1601.5 1560.2 L1605.5 1560.9 L1607.0 1561.2 L1609.6 1563.5 L1612.8 1564.7 L1615.5 1568.3 L1618.9 1568.8 L1620.3 1571.9 L1623.6 1572.5 L1626.0 1574.1 L1628.9 1575.8 L1631.6 1578.1 L1635.2 1579.3 L1637.3 1581.4 L1640.7 1583.8 L1643.7 1583.8 L1646.2 1585.4 L1648.6 1587.4 L1651.3 1588.2 L1653.2 1588.8 L1657.4 1592.3 L1659.3 1591.8 L1662.7 1594.1 L1664.9 1595.8 L1667.0 1596.7 L1670.8 1599.9 L1673.7 1601.1 L1676.4 1604.1 L1678.3 1606.1 L1680.5 1606.0 L1684.2 1608.1 L1686.4 1611.5 L1689.2 1611.9 L1691.9 1613.2 L1694.1 1616.9 L1696.5 1617.1 L1699.8 1619.9 L1702.0 1621.9 L1704.7 1622.9 L1707.1 1624.4 L1708.7 1625.5 L1711.2 1626.6 L1714.3 1629.2 L1717.5 1629.9 L1720.0 1631.8 L1721.9 1633.6 L1725.7 1636.1 L1727.6 1636.5 L1729.6 1638.6 L1733.8 1640.3 L1736.1 1643.0 L1737.8 1643.2 L1741.1 1644.5 L1743.4 1647.4 L1745.4 1649.3 L1748.1 1651.0 L1750.3 1653.1 L1753.1 1655.0 L1756.4 1656.2 L1757.3 1657.5 L1761.2 1660.0 L1763.3 1661.3 L1766.0 1664.2 L1767.9 1665.2 L1769.7 1665.6 L1772.5 1669.2 L1776.2 1671.1 L1778.9 1671.2 L1780.1 1673.5 L1782.8 1676.2 L1786.8 1678.7 L1788.2 1680.0 L1791.5 1682.2 L1793.4 1683.5 L1796.6 1687.3 L1798.7 1688.7 L1800.0 1690.3 L1802.7 1692.5 L1805.1 1695.8 L1808.2 1696.8 L1811.0 1698.6 L1813.4 1702.3 L1815.1 1703.8 L1817.4 1707.4 L1818.8 1707.8 L1822.0 1710.3 L1823.1 1713.1 L1825.4 1714.7 L1827.8 1716.6 L1830.8 1719.9 L1832.7 1721.5 L1835.1 1725.3 L1837.7 1725.3 L1838.8 1727.6 L1841.7 1730.4 L1844.6 1731.2 L1847.8 1733.3 L1850.5 1734.3 L1852.6 1735.0 L1855.1 1737.8 L1857.3 1739.2 L1859.8 1740.2 L1863.2 1741.8 L1865.1 1742.9 L1868.1 1745.9 L1870.8 1746.6 L1873.3 1748.7 L1875.6 1751.3 L1878.8 1752.5 L1880.7 1755.8 L1883.4 1755.7 L1886.4 1759.2 L1890.1 1760.9 L1891.1 1763.3 L1893.1 1763.8 L1895.4 1767.1 L1898.4 1769.4 L1901.2 1772.0 L1903.0 1772.8 L1905.5 1776.8 L1907.6 1777.0 L1909.6 1780.2 L1911.5 1781.8 L1914.1 1785.3 L1916.3 1786.3 L1918.5 1788.0 L1920.6 1790.1 L1921.7 1792.5 L1925.0 1796.8 L1926.9 1798.2 L1929.3 1800.9 L1932.1 1803.0 L1933.3 1803.4 L1936.4 1806.1 L1938.4 1809.8 L1939.7 1810.4 L1942.3 1814.1 L1945.2 1816.7 L1946.5 1818.1 L1949.7 1819.7 L1951.5 1821.6 L1954.2 1824.4 L1955.8 1827.1 L1957.8 1829.7 L1960.2 1831.0 L1962.9 1833.8 L1965.1 1836.6 L1967.5 1837.7 L1969.5 1841.0 L1970.8 1842.8 L1973.6 1844.4 L1975.0 1846.4 L1978.0 1850.0 L1980.4 1852.0 L1982.3 1854.4 L1983.2 1856.3 L1986.4 1858.7 L1987.5 1860.8 L1989.7 1862.4 L1992.3 1865.2 L1993.3 1867.4 L1995.3 1868.6 L1998.5 1872.5 L2000.0 1874.3 L2002.3 1875.8 L2005.0 1877.0 L2007.5 1880.3 L2010.6 1881.4 L2012.1 1883.3 L2014.4 1886.1 L2017.8 1889.9 L2019.2 1891.0 L2022.1 1893.2 L2025.2 1896.5 L2025.8 1897.4 L2028.6 1900.2 L2030.7 1902.9 L2032.0 1904.3 L2035.2 1905.8 L2036.2 1909.1 L2038.2 1911.2 L2040.2 1912.5 L2042.6 1916.2 L2045.1 1918.0 L2047.1 1919.8 L2049.7 1922.5 L2051.2 1923.5 L2052.6 1927.1 L2055.8 1929.9 L2056.4 1932.6 L2058.7 1934.5 L2060.7 1935.6 L2063.6 1939.1 L2065.4 1942.1 L2067.4 1943.8 L2069.0 1946.5 L2070.9 1948.3 L2073.8 1950.9 L2075.7 1954.2 L2077.3 1956.9 L2079.2 1957.2 L2082.0 1961.3 L2083.9 1964.0 L2085.4 1965.0 L2087.8 1968.3 L2089.3 1970.3 L2092.4 1971.3 L2092.9 1973.4 L2096.0 1975.7 L2098.5 1977.7 L2100.5 1980.6 L2102.5 1982.8 L2103.3 1985.8 L2105.6 1988.9 L2108.5 1989.7 L2110.0 1992.8 L2112.5 1994.6 L2114.2 1997.6 L2116.3 2000.2 L2118.1 2002.2 L2120.0 2006.1 L2122.3 2006.4 L2124.1 2010.4 L2126.6 2011.2 L2128.2 2014.5 L2131.0 2016.5 L2134.6 2019.6" stroke="#74C47E" stroke-width="14.5" fill="none" stroke-linejoin="round" stroke-linecap="round"/>
<g fill="#6FCB72"><circle cx="288.6" cy="2022.6" r="8.0"/><circle cx="297.4" cy="2003.9" r="8.5"/><circle cx="455.0" cy="1759.6" r="8.7"/><circle cx="461.6" cy="1740.8" r="7.7"/><circle cx="482.6" cy="1709.1" r="8.8"/><circle cx="490.8" cy="1688.2" r="8.1"/><circle cx="632.1" cy="1558.4" r="7.7"/><circle cx="673.2" cy="1545.7" r="8.5"/><circle cx="784.9" cy="1498.5" r="8.3"/><circle cx="817.5" cy="1477.4" r="8.3"/><circle cx="881.4" cy="1460.9" r="8.0"/><circle cx="928.7" cy="1438.4" r="8.4"/><circle cx="947.6" cy="1435.0" r="7.8"/><circle cx="968.4" cy="1429.4" r="8.8"/><circle cx="1068.5" cy="1430.4" r="8.1"/><circle cx="1172.5" cy="1464.4" r="8.8"/><circle cx="1198.6" cy="1469.8" r="7.7"/><circle cx="1221.1" cy="1462.7" r="8.2"/><circle cx="1292.4" cy="1477.1" r="7.4"/><circle cx="1341.4" cy="1466.2" r="7.5"/><circle cx="1383.1" cy="1494.0" r="8.0"/><circle cx="1465.8" cy="1512.2" r="8.1"/><circle cx="1526.0" cy="1521.6" r="9.0"/><circle cx="1588.5" cy="1548.3" r="7.5"/><circle cx="1595.4" cy="1552.8" r="8.9"/><circle cx="1662.8" cy="1594.1" r="8.9"/><circle cx="1672.2" cy="1599.9" r="8.4"/><circle cx="1686.5" cy="1610.3" r="7.8"/><circle cx="1716.6" cy="1629.6" r="8.7"/><circle cx="1763.9" cy="1661.0" r="8.3"/><circle cx="1816.4" cy="1704.4" r="8.5"/><circle cx="1873.6" cy="1748.5" r="8.7"/><circle cx="1910.6" cy="1780.4" r="7.7"/><circle cx="1921.5" cy="1790.1" r="8.1"/><circle cx="2015.3" cy="1884.5" r="8.0"/><circle cx="2022.2" cy="1890.6" r="8.7"/><circle cx="2041.3" cy="1914.8" r="8.9"/><circle cx="2126.5" cy="2011.2" r="8.1"/></g>
<g fill="#7DB895"><circle cx="294.5" cy="2008.6" r="8.7"/><circle cx="314.3" cy="1975.4" r="8.0"/><circle cx="337.0" cy="1946.3" r="7.6"/><circle cx="344.7" cy="1940.7" r="7.6"/><circle cx="352.7" cy="1925.6" r="7.7"/><circle cx="354.9" cy="1908.4" r="8.9"/><circle cx="356.8" cy="1901.8" r="8.7"/><circle cx="376.3" cy="1862.3" r="7.7"/><circle cx="422.5" cy="1825.2" r="8.9"/><circle cx="572.1" cy="1605.1" r="7.5"/><circle cx="577.7" cy="1598.6" r="8.7"/><circle cx="639.6" cy="1549.0" r="8.0"/><circle cx="700.2" cy="1517.7" r="8.9"/><circle cx="718.8" cy="1502.9" r="8.1"/><circle cx="830.9" cy="1477.9" r="8.6"/><circle cx="906.7" cy="1455.8" r="9.0"/><circle cx="960.8" cy="1422.7" r="7.6"/><circle cx="1011.4" cy="1422.9" r="8.2"/><circle cx="1152.7" cy="1457.3" r="8.7"/><circle cx="1228.8" cy="1469.5" r="8.8"/><circle cx="1237.4" cy="1474.0" r="8.4"/><circle cx="1273.7" cy="1468.1" r="7.9"/><circle cx="1326.5" cy="1473.9" r="8.6"/><circle cx="1372.3" cy="1493.4" r="8.3"/><circle cx="1429.3" cy="1503.3" r="8.0"/><circle cx="1474.9" cy="1508.4" r="8.3"/><circle cx="1536.3" cy="1525.1" r="8.6"/><circle cx="1553.8" cy="1531.0" r="8.0"/><circle cx="1702.3" cy="1624.5" r="8.3"/><circle cx="1851.9" cy="1732.4" r="8.9"/><circle cx="1987.6" cy="1861.8" r="8.6"/><circle cx="2008.4" cy="1879.9" r="8.6"/><circle cx="2036.0" cy="1903.1" r="7.8"/><circle cx="2135.6" cy="2017.8" r="8.7"/></g>
<g fill="#3AF52A"><circle cx="304.4" cy="1996.6" r="8.5"/><circle cx="318.0" cy="1969.5" r="7.9"/><circle cx="371.4" cy="1874.2" r="8.9"/><circle cx="390.7" cy="1838.2" r="8.6"/><circle cx="411.1" cy="1825.2" r="8.1"/><circle cx="471.3" cy="1725.1" r="7.4"/><circle cx="545.3" cy="1642.9" r="7.4"/><circle cx="552.7" cy="1629.1" r="7.6"/><circle cx="563.8" cy="1607.5" r="8.2"/><circle cx="595.3" cy="1584.8" r="8.4"/><circle cx="849.3" cy="1476.6" r="7.7"/><circle cx="869.4" cy="1479.3" r="7.5"/><circle cx="875.3" cy="1474.6" r="8.5"/><circle cx="919.5" cy="1437.0" r="8.0"/><circle cx="1030.8" cy="1431.5" r="8.3"/><circle cx="1057.4" cy="1423.7" r="8.0"/><circle cx="1103.1" cy="1434.5" r="8.3"/><circle cx="1110.9" cy="1441.1" r="7.9"/><circle cx="1135.0" cy="1450.3" r="8.2"/><circle cx="1347.8" cy="1476.4" r="7.7"/><circle cx="1481.5" cy="1503.2" r="8.6"/><circle cx="1605.7" cy="1558.6" r="8.2"/><circle cx="1619.5" cy="1571.4" r="7.7"/><circle cx="1628.1" cy="1575.4" r="9.0"/><circle cx="1727.1" cy="1638.0" r="9.0"/><circle cx="1801.3" cy="1691.3" r="8.5"/><circle cx="1835.2" cy="1723.2" r="7.9"/><circle cx="1916.9" cy="1785.2" r="7.8"/><circle cx="2000.1" cy="1876.3" r="8.0"/><circle cx="2107.7" cy="1989.0" r="8.1"/><circle cx="2120.8" cy="2005.6" r="7.7"/></g>
<g fill="#78C488"><circle cx="307.8" cy="1989.5" r="8.7"/><circle cx="366.7" cy="1882.5" r="7.8"/><circle cx="394.0" cy="1827.3" r="8.2"/><circle cx="403.1" cy="1829.2" r="8.6"/><circle cx="436.3" cy="1788.5" r="8.8"/><circle cx="444.9" cy="1771.5" r="8.5"/><circle cx="458.6" cy="1751.2" r="7.7"/><circle cx="516.7" cy="1655.1" r="8.6"/><circle cx="539.7" cy="1653.6" r="8.5"/><circle cx="617.1" cy="1565.8" r="8.8"/><circle cx="693.1" cy="1523.9" r="8.3"/><circle cx="751.8" cy="1492.7" r="8.2"/><circle cx="759.3" cy="1493.4" r="7.9"/><circle cx="767.4" cy="1499.1" r="7.6"/><circle cx="776.9" cy="1504.2" r="7.6"/><circle cx="808.1" cy="1487.0" r="9.0"/><circle cx="939.5" cy="1431.2" r="8.7"/><circle cx="989.2" cy="1433.8" r="8.4"/><circle cx="1077.6" cy="1428.9" r="8.8"/><circle cx="1087.3" cy="1427.8" r="8.1"/><circle cx="1096.0" cy="1433.7" r="8.4"/><circle cx="1145.3" cy="1455.3" r="8.5"/><circle cx="1164.1" cy="1460.4" r="7.8"/><circle cx="1212.4" cy="1462.2" r="8.0"/><circle cx="1303.3" cy="1478.3" r="8.8"/><circle cx="1310.9" cy="1483.2" r="8.1"/><circle cx="1362.9" cy="1489.2" r="8.1"/><circle cx="1421.8" cy="1499.7" r="8.1"/><circle cx="1439.5" cy="1508.5" r="8.6"/><circle cx="1506.4" cy="1520.0" r="8.7"/><circle cx="1544.7" cy="1529.5" r="8.3"/><circle cx="1564.9" cy="1532.8" r="8.6"/><circle cx="1581.3" cy="1543.3" r="8.8"/><circle cx="1636.4" cy="1583.1" r="9.0"/><circle cx="1646.2" cy="1584.2" r="7.7"/><circle cx="1693.4" cy="1615.1" r="7.4"/><circle cx="1749.4" cy="1653.5" r="8.0"/><circle cx="1779.7" cy="1672.0" r="8.2"/><circle cx="1821.7" cy="1708.6" r="7.5"/><circle cx="1891.2" cy="1761.1" r="8.4"/><circle cx="1895.8" cy="1769.4" r="8.0"/><circle cx="1929.9" cy="1799.1" r="7.6"/><circle cx="1974.5" cy="1847.6" r="8.3"/><circle cx="1982.6" cy="1855.9" r="8.2"/><circle cx="2070.5" cy="1948.7" r="7.5"/></g>
<g fill="#4FE845"><circle cx="323.0" cy="1962.2" r="8.7"/><circle cx="352.9" cy="1937.3" r="8.5"/><circle cx="353.2" cy="1919.9" r="8.1"/><circle cx="382.7" cy="1861.2" r="7.8"/><circle cx="388.3" cy="1851.3" r="7.6"/><circle cx="426.5" cy="1816.2" r="7.9"/><circle cx="430.4" cy="1805.8" r="8.1"/><circle cx="441.7" cy="1781.6" r="8.3"/><circle cx="467.6" cy="1734.2" r="8.8"/><circle cx="488.5" cy="1700.8" r="7.9"/><circle cx="503.1" cy="1667.4" r="7.5"/><circle cx="560.0" cy="1618.3" r="8.0"/><circle cx="624.1" cy="1561.2" r="7.5"/><circle cx="657.2" cy="1551.8" r="7.7"/><circle cx="665.4" cy="1544.2" r="7.8"/><circle cx="677.1" cy="1531.0" r="8.5"/><circle cx="684.6" cy="1525.8" r="8.6"/><circle cx="708.6" cy="1509.9" r="8.0"/><circle cx="725.5" cy="1500.2" r="8.2"/><circle cx="733.7" cy="1492.0" r="8.4"/><circle cx="793.6" cy="1497.8" r="8.0"/><circle cx="899.2" cy="1453.8" r="8.1"/><circle cx="979.7" cy="1432.4" r="8.6"/><circle cx="1206.4" cy="1469.4" r="7.9"/><circle cx="1255.2" cy="1466.0" r="8.3"/><circle cx="1283.4" cy="1473.0" r="7.9"/><circle cx="1320.7" cy="1475.1" r="8.4"/><circle cx="1332.1" cy="1464.9" r="8.3"/><circle cx="1500.0" cy="1514.1" r="8.0"/><circle cx="1679.6" cy="1606.8" r="8.0"/><circle cx="1769.4" cy="1663.8" r="9.0"/><circle cx="1840.5" cy="1731.7" r="8.9"/><circle cx="1857.0" cy="1739.0" r="8.0"/><circle cx="1881.3" cy="1754.8" r="8.1"/><circle cx="1937.7" cy="1804.7" r="8.5"/><circle cx="1942.1" cy="1815.2" r="8.6"/><circle cx="1956.5" cy="1827.4" r="7.9"/><circle cx="2028.2" cy="1899.6" r="8.3"/><circle cx="2047.8" cy="1921.3" r="8.5"/><circle cx="2059.7" cy="1931.7" r="9.0"/><circle cx="2088.8" cy="1970.6" r="7.8"/></g>
<g fill="#66D066"><circle cx="329.4" cy="1954.9" r="7.9"/><circle cx="451.1" cy="1766.2" r="8.3"/><circle cx="478.6" cy="1713.8" r="8.7"/><circle cx="500.0" cy="1674.9" r="8.4"/><circle cx="526.4" cy="1663.4" r="7.5"/><circle cx="533.5" cy="1656.6" r="7.8"/><circle cx="549.7" cy="1634.5" r="7.6"/><circle cx="602.8" cy="1581.4" r="8.3"/><circle cx="609.4" cy="1573.5" r="8.6"/><circle cx="648.9" cy="1554.6" r="7.9"/><circle cx="741.6" cy="1491.4" r="8.2"/><circle cx="838.3" cy="1482.5" r="8.0"/><circle cx="857.7" cy="1471.6" r="8.9"/><circle cx="888.9" cy="1454.3" r="8.9"/><circle cx="953.6" cy="1427.2" r="7.4"/><circle cx="996.1" cy="1426.3" r="8.5"/><circle cx="1005.2" cy="1419.6" r="8.3"/><circle cx="1039.0" cy="1429.2" r="8.6"/><circle cx="1245.0" cy="1471.0" r="9.0"/><circle cx="1356.0" cy="1481.4" r="7.6"/><circle cx="1390.6" cy="1490.1" r="7.8"/><circle cx="1406.5" cy="1488.8" r="8.0"/><circle cx="1460.2" cy="1516.6" r="9.0"/><circle cx="1489.4" cy="1509.5" r="8.9"/><circle cx="1734.2" cy="1639.8" r="7.8"/><circle cx="1741.1" cy="1646.4" r="8.3"/><circle cx="1755.9" cy="1656.7" r="8.9"/><circle cx="1827.5" cy="1715.5" r="7.8"/><circle cx="1863.8" cy="1744.5" r="8.1"/><circle cx="1949.2" cy="1821.4" r="8.8"/><circle cx="2051.5" cy="1929.2" r="8.4"/><circle cx="2064.0" cy="1942.6" r="8.0"/></g>
<g fill="#44F020"><circle cx="361.3" cy="1893.9" r="8.8"/><circle cx="433.0" cy="1794.1" r="8.0"/><circle cx="494.8" cy="1682.7" r="7.7"/><circle cx="507.8" cy="1657.7" r="8.2"/><circle cx="585.6" cy="1590.6" r="8.0"/><circle cx="803.9" cy="1488.5" r="8.4"/><circle cx="820.5" cy="1468.2" r="7.5"/><circle cx="878.0" cy="1467.1" r="8.2"/><circle cx="913.3" cy="1445.2" r="8.9"/><circle cx="1020.9" cy="1425.9" r="7.8"/><circle cx="1050.3" cy="1425.0" r="8.5"/><circle cx="1118.4" cy="1448.4" r="8.7"/><circle cx="1126.0" cy="1451.5" r="8.5"/><circle cx="1178.2" cy="1472.6" r="8.4"/><circle cx="1189.4" cy="1471.6" r="7.5"/><circle cx="1265.7" cy="1471.6" r="8.6"/><circle cx="1399.4" cy="1485.8" r="8.8"/><circle cx="1414.1" cy="1494.2" r="8.8"/><circle cx="1448.3" cy="1514.4" r="7.5"/><circle cx="1518.3" cy="1523.7" r="8.8"/><circle cx="1573.5" cy="1539.7" r="7.4"/><circle cx="1613.3" cy="1566.6" r="8.9"/><circle cx="1652.9" cy="1587.2" r="8.7"/><circle cx="1707.7" cy="1625.1" r="7.7"/><circle cx="1786.3" cy="1676.4" r="8.5"/><circle cx="1794.2" cy="1684.9" r="8.1"/><circle cx="1807.5" cy="1698.4" r="8.3"/><circle cx="1903.0" cy="1773.3" r="8.9"/><circle cx="1962.6" cy="1834.4" r="7.7"/><circle cx="1970.4" cy="1839.3" r="8.9"/><circle cx="1993.7" cy="1867.9" r="7.9"/><circle cx="2078.6" cy="1955.5" r="7.7"/><circle cx="2084.1" cy="1964.3" r="8.7"/><circle cx="2097.2" cy="1977.0" r="8.5"/><circle cx="2101.9" cy="1982.5" r="7.8"/><circle cx="2112.9" cy="2000.1" r="7.7"/></g>
<circle cx="432.4" cy="1795.6" r="18.2" fill="#FFA500"/>
<circle cx="1555.0" cy="1530.8" r="21.2" fill="#FF0000"/>
<circle cx="689.5" cy="1520.0" r="14" fill="#EEF000"/>
<circle cx="317.0" cy="1972.7" r="10" fill="#C8FF00"/>
<circle cx="763.4" cy="1490.8" r="9" fill="#A0FF00"/>
<circle cx="778.5" cy="1504.7" r="9" fill="#A0FF00"/>
<circle cx="1249.5" cy="1469.3" r="10" fill="#C8FF00"/>
<circle cx="1978.1" cy="1851.7" r="12" fill="#B4FF00"/>
<circle cx="2122.4" cy="2003.9" r="10" fill="#C8FF00"/>
<path d="M288.4 2020.8 L288.8 2014.4 L291.8 2014.7 L293.4 2010.3 L295.1 2009.0 L296.8 2004.5 L298.4 2002.9 L300.5 2002.8 L302.6 1998.0 L303.5 1994.0 L304.5 1990.2 L306.9 1988.6 L308.4 1988.4 L310.3 1984.1 L311.5 1979.0 L313.4 1976.7 L315.3 1977.7 L317.3 1971.3 L319.5 1971.3 L321.2 1969.1 L323.2 1965.9 L324.4 1964.0 L327.3 1957.7 L328.9 1957.4 L330.3 1953.9 L332.3 1953.0 L334.6 1950.6 L336.7 1948.9 L339.9 1945.2 L341.7 1945.2 L344.2 1941.4 L345.7 1938.8 L348.8 1936.2 L351.5 1934.7 L351.8 1931.8 L352.2 1930.4 L351.7 1926.5 L352.3 1923.8 L352.0 1919.0 L352.7 1919.1 L353.2 1912.3 L353.8 1912.1 L354.2 1906.6 L354.3 1903.0 L355.9 1901.2 L356.9 1901.1 L358.4 1896.8 L361.3 1892.8 L362.0 1892.9 L364.0 1889.5 L365.1 1885.2 L367.1 1883.8 L368.6 1882.3 L370.3 1878.6 L372.0 1873.8 L374.9 1870.6 L375.6 1870.2 L377.7 1864.6 L380.4 1862.4 L380.5 1860.5 L383.2 1859.5 L384.1 1855.0 L385.1 1852.4 L387.5 1850.6 L388.9 1847.6 L390.1 1844.3 L390.7 1839.1 L392.2 1836.4 L392.5 1833.9 L394.9 1829.4 L395.6 1827.5 L399.0 1827.2 L403.1 1828.4 L406.0 1829.9 L408.5 1831.3 L411.8 1827.2 L414.7 1825.8 L417.9 1826.1 L421.6 1825.8 L425.4 1824.0 L425.2 1818.5 L426.2 1816.0 L427.7 1813.9 L428.8 1808.4 L429.2 1806.5 L429.5 1801.3 L431.1 1798.5 L432.5 1796.0 L432.4 1792.7 L433.6 1789.8 L435.7 1788.3 L437.0 1786.6 L438.6 1785.2 L441.4 1781.9 L442.3 1778.5 L444.2 1773.9 L445.6 1773.5 L446.9 1769.1 L449.5 1767.7 L450.8 1767.7 L452.6 1762.4 L454.6 1759.9 L454.4 1758.5 L456.0 1754.0 L458.5 1752.9 L458.6 1749.1 L460.7 1746.4 L461.7 1744.1 L462.9 1740.0 L464.8 1740.0 L465.7 1736.4 L467.3 1732.8 L469.3 1729.6 L471.6 1726.6 L472.3 1722.6 L474.0 1723.1 L476.6 1720.9 L478.4 1714.0 L480.0 1714.6 L481.8 1710.6 L483.0 1707.7 L485.0 1704.2 L486.0 1702.3 L488.0 1701.0 L489.4 1698.4 L489.7 1693.1 L491.4 1690.4 L492.7 1689.6 L494.8 1686.4 L496.0 1681.5 L496.8 1682.7 L498.0 1677.4 L499.4 1673.1 L502.3 1674.3 L503.4 1667.8 L504.4 1665.4 L506.6 1664.6 L507.7 1661.2 L508.7 1658.5 L511.6 1656.6 L513.3 1656.8 L517.4 1656.9 L520.8 1659.0 L523.5 1660.0 L527.1 1662.9 L528.7 1658.2 L530.8 1655.8 L533.4 1657.6 L535.0 1654.0 L537.8 1651.7 L540.5 1652.1 L542.8 1648.1 L545.5 1645.6 L546.3 1643.9 L547.5 1641.7 L547.8 1637.6 L549.2 1634.7 L551.3 1631.5 L550.9 1627.7 L553.2 1626.5 L554.2 1623.1 L555.4 1621.2 L558.7 1617.2 L561.1 1616.0 L562.0 1613.2 L565.2 1608.0 L567.4 1607.3 L568.6 1605.7 L570.7 1602.4 L573.3 1598.4 L575.7 1596.9 L577.8 1597.5 L580.3 1591.7 L583.6 1593.9 L586.6 1592.0 L589.0 1590.1 L591.4 1586.7 L594.3 1584.2 L596.3 1585.8 L598.9 1583.8 L602.3 1580.2 L604.5 1579.8 L607.2 1574.9 L608.5 1574.0 L611.4 1571.5 L613.1 1570.6 L617.0 1567.8 L618.8 1565.8 L621.2 1566.2 L623.7 1563.4 L626.6 1561.2 L629.9 1557.4 L632.4 1556.6 L634.7 1557.0 L637.3 1553.4 L640.7 1551.8 L643.5 1552.8 L646.4 1554.4 L649.9 1553.1 L652.2 1551.1 L655.6 1550.7 L658.4 1553.6 L661.2 1552.6 L664.7 1550.3 L666.5 1546.7 L668.7 1544.8 L670.5 1543.0 L673.2 1543.5 L674.4 1540.0 L677.1 1536.3 L677.6 1533.6 L679.7 1533.2 L682.5 1529.8 L685.7 1527.3 L688.3 1527.1 L690.1 1526.0 L692.6 1524.2 L696.0 1520.6 L698.2 1520.6 L700.8 1517.8 L703.5 1516.6 L705.9 1514.9 L707.7 1511.3 L711.3 1508.7 L714.0 1506.3 L717.9 1505.6 L720.2 1506.4 L722.8 1505.2 L725.8 1499.5 L728.5 1498.7 L731.7 1498.7 L733.8 1494.4 L735.8 1491.2 L739.3 1492.1 L741.5 1493.4 L744.4 1492.2 L748.7 1491.4 L750.5 1492.0 L753.8 1493.2 L756.8 1493.0 L759.9 1492.8 L763.1 1494.7 L765.3 1498.2 L767.4 1497.0 L771.3 1499.8 L773.7 1500.0 L775.9 1504.7 L778.2 1505.9 L781.8 1502.7 L785.4 1501.1 L787.7 1500.6 L790.5 1500.0 L794.0 1497.0 L797.0 1497.0 L800.8 1494.5 L803.0 1490.8 L806.2 1487.3 L807.5 1489.2 L809.5 1486.6 L812.3 1484.2 L813.2 1479.2 L816.3 1475.6 L817.1 1474.8 L819.2 1471.6 L821.9 1469.0 L825.4 1473.3 L827.0 1476.2 L830.4 1476.2 L834.0 1476.6 L837.0 1478.1 L839.6 1480.6 L843.7 1477.7 L846.5 1478.0 L848.7 1475.1 L851.8 1472.2 L854.8 1473.3 L857.8 1474.0 L861.4 1476.4 L865.3 1478.3 L868.1 1477.2 L871.5 1476.4 L873.3 1479.9 L875.3 1474.3 L876.0 1471.8 L877.3 1469.5 L878.4 1468.3 L880.2 1464.3 L880.8 1460.2 L882.5 1460.4 L882.8 1456.3 L886.6 1456.1 L888.6 1455.6 L891.9 1454.1 L895.6 1456.0 L898.8 1456.5 L902.0 1455.3 L904.0 1456.6 L907.1 1454.4 L908.6 1448.4 L909.8 1446.3 L912.4 1445.8 L913.5 1445.1 L917.8 1443.5 L920.1 1439.6 L922.7 1440.6 L926.6 1436.9 L930.0 1436.8 L932.3 1434.8 L935.9 1433.7 L938.8 1433.3 L942.0 1435.0 L945.4 1435.7 L946.3 1434.7 L948.2 1432.2 L951.0 1428.2 L952.6 1427.9 L954.5 1424.4 L957.0 1424.8 L960.1 1425.3 L962.7 1427.2 L965.8 1428.0 L969.5 1428.2 L971.9 1430.4 L976.1 1429.6 L978.8 1432.1 L982.3 1432.8 L984.4 1431.4 L988.4 1432.4 L990.1 1435.5 L993.0 1431.0 L995.7 1428.7 L999.0 1427.1 L1001.1 1425.3 L1004.3 1421.5 L1006.4 1420.0 L1008.8 1422.6 L1012.3 1420.7 L1015.7 1424.9 L1018.9 1423.6 L1022.2 1425.9 L1024.2 1423.7 L1028.6 1428.4 L1030.5 1429.3 L1034.6 1430.8 L1037.4 1432.4 L1039.8 1429.5 L1042.6 1429.9 L1045.8 1428.2 L1049.2 1425.9 L1053.3 1424.1 L1055.5 1425.6 L1058.2 1426.5 L1061.8 1430.6 L1064.2 1432.7 L1068.2 1430.3 L1071.3 1431.6 L1074.1 1430.0 L1077.2 1431.6 L1080.7 1431.7 L1083.6 1432.1 L1086.0 1428.7 L1089.4 1429.6 L1092.0 1430.9 L1095.7 1432.6 L1098.9 1434.5 L1101.1 1433.3 L1104.2 1434.2 L1107.8 1432.3 L1109.8 1436.8 L1112.3 1440.3 L1114.3 1439.8 L1117.4 1443.2 L1118.3 1446.2 L1120.9 1449.1 L1123.5 1450.6 L1127.0 1449.6 L1130.2 1447.7 L1132.3 1451.5 L1134.8 1451.1 L1139.5 1451.5 L1142.4 1448.9 L1144.9 1452.6 L1147.8 1453.0 L1151.5 1453.2 L1153.3 1456.3 L1157.9 1458.7 L1160.5 1457.6 L1163.5 1458.2 L1165.1 1463.3 L1168.8 1463.3 L1171.4 1463.8 L1173.6 1465.4 L1175.6 1467.7 L1177.9 1470.4 L1181.8 1469.8 L1185.1 1468.8 L1188.0 1470.9 L1190.9 1472.6 L1193.5 1470.5 L1197.1 1470.2 L1200.6 1469.4 L1202.5 1467.0 L1205.0 1467.5 L1208.3 1464.4 L1209.9 1462.4 L1212.5 1459.6 L1214.9 1459.4 L1219.0 1461.4 L1220.9 1462.0 L1223.3 1465.3 L1225.8 1466.8 L1228.1 1471.2 L1231.8 1473.8 L1234.3 1469.4 L1236.8 1472.1 L1240.9 1470.0 L1243.3 1469.7 L1245.8 1468.9 L1249.1 1468.6 L1252.2 1466.9 L1255.5 1466.7 L1258.4 1468.9 L1261.9 1466.9 L1264.6 1469.3 L1268.1 1468.6 L1271.5 1466.6 L1274.0 1469.2 L1276.8 1471.0 L1280.7 1468.8 L1283.3 1471.7 L1286.5 1471.1 L1289.7 1472.2 L1291.7 1474.8 L1295.6 1474.8 L1298.5 1478.6 L1302.0 1477.2 L1305.3 1479.1 L1307.5 1480.6 L1311.2 1480.8 L1314.1 1478.9 L1316.8 1475.2 L1319.9 1474.6 L1323.8 1474.8 L1325.1 1474.0 L1326.3 1471.9 L1328.4 1466.2 L1330.7 1465.1 L1333.1 1462.9 L1334.2 1463.4 L1336.6 1468.0 L1340.1 1468.5 L1342.0 1472.8 L1345.3 1477.5 L1348.0 1477.7 L1350.3 1477.6 L1353.1 1479.1 L1355.3 1483.7 L1358.5 1485.0 L1361.0 1484.7 L1363.8 1487.7 L1366.2 1490.6 L1370.1 1489.4 L1372.0 1492.4 L1375.8 1490.1 L1378.7 1490.4 L1382.2 1492.3 L1384.7 1490.6 L1387.6 1492.3 L1390.7 1489.7 L1393.5 1490.7 L1397.7 1490.1 L1400.3 1488.5 L1402.6 1484.7 L1406.6 1482.5 L1407.8 1488.3 L1410.2 1488.1 L1412.7 1493.4 L1414.3 1496.0 L1417.0 1497.1 L1419.5 1497.5 L1422.4 1500.2 L1425.3 1504.6 L1427.8 1506.2 L1430.2 1503.9 L1433.9 1504.9 L1437.5 1508.1 L1440.6 1508.4 L1442.4 1512.0 L1445.8 1511.0 L1448.8 1512.7 L1452.4 1512.0 L1454.8 1513.7 L1459.1 1513.9 L1460.9 1514.2 L1464.2 1513.3 L1466.9 1511.8 L1468.8 1510.4 L1471.3 1505.1 L1474.1 1506.3 L1477.4 1505.2 L1480.9 1503.6 L1483.0 1502.8 L1486.3 1506.4 L1487.8 1507.5 L1490.3 1507.0 L1494.0 1512.0 L1497.1 1514.0 L1498.7 1515.8 L1502.8 1517.4 L1504.8 1517.6 L1507.2 1519.8 L1511.7 1518.4 L1514.5 1522.6 L1516.9 1523.1 L1519.6 1521.5 L1523.4 1524.8 L1526.4 1522.1 L1530.1 1525.0 L1532.9 1524.2 L1535.3 1524.2 L1538.2 1526.4 L1541.6 1528.0 L1545.4 1527.3 L1548.6 1529.3 L1550.8 1527.9 L1554.8 1531.3 L1556.4 1532.7 L1560.0 1532.9 L1563.7 1533.3 L1566.0 1536.0 L1570.1 1535.4 L1573.0 1539.5 L1574.7 1540.9 L1578.1 1542.9 L1580.6 1542.9 L1583.3 1544.3 L1585.9 1546.8 L1588.0 1547.7 L1591.1 1550.2 L1594.1 1553.5 L1596.3 1554.6 L1599.1 1555.0 L1601.5 1560.2 L1605.5 1560.9 L1607.0 1561.2 L1609.6 1563.5 L1612.8 1564.7 L1615.5 1568.3 L1618.9 1568.8 L1620.3 1571.9 L1623.6 1572.5 L1626.0 1574.1 L1628.9 1575.8 L1631.6 1578.1 L1635.2 1579.3 L1637.3 1581.4 L1640.7 1583.8 L1643.7 1583.8 L1646.2 1585.4 L1648.6 1587.4 L1651.3 1588.2 L1653.2 1588.8 L1657.4 1592.3 L1659.3 1591.8 L1662.7 1594.1 L1664.9 1595.8 L1667.0 1596.7 L1670.8 1599.9 L1673.7 1601.1 L1676.4 1604.1 L1678.3 1606.1 L1680.5 1606.0 L1684.2 1608.1 L1686.4 1611.5 L1689.2 1611.9 L1691.9 1613.2 L1694.1 1616.9 L1696.5 1617.1 L1699.8 1619.9 L1702.0 1621.9 L1704.7 1622.9 L1707.1 1624.4 L1708.7 1625.5 L1711.2 1626.6 L1714.3 1629.2 L1717.5 1629.9 L1720.0 1631.8 L1721.9 1633.6 L1725.7 1636.1 L1727.6 1636.5 L1729.6 1638.6 L1733.8 1640.3 L1736.1 1643.0 L1737.8 1643.2 L1741.1 1644.5 L1743.4 1647.4 L1745.4 1649.3 L1748.1 1651.0 L1750.3 1653.1 L1753.1 1655.0 L1756.4 1656.2 L1757.3 1657.5 L1761.2 1660.0 L1763.3 1661.3 L1766.0 1664.2 L1767.9 1665.2 L1769.7 1665.6 L1772.5 1669.2 L1776.2 1671.1 L1778.9 1671.2 L1780.1 1673.5 L1782.8 1676.2 L1786.8 1678.7 L1788.2 1680.0 L1791.5 1682.2 L1793.4 1683.5 L1796.6 1687.3 L1798.7 1688.7 L1800.0 1690.3 L1802.7 1692.5 L1805.1 1695.8 L1808.2 1696.8 L1811.0 1698.6 L1813.4 1702.3 L1815.1 1703.8 L1817.4 1707.4 L1818.8 1707.8 L1822.0 1710.3 L1823.1 1713.1 L1825.4 1714.7 L1827.8 1716.6 L1830.8 1719.9 L1832.7 1721.5 L1835.1 1725.3 L1837.7 1725.3 L1838.8 1727.6 L1841.7 1730.4 L1844.6 1731.2 L1847.8 1733.3 L1850.5 1734.3 L1852.6 1735.0 L1855.1 1737.8 L1857.3 1739.2 L1859.8 1740.2 L1863.2 1741.8 L1865.1 1742.9 L1868.1 1745.9 L1870.8 1746.6 L1873.3 1748.7 L1875.6 1751.3 L1878.8 1752.5 L1880.7 1755.8 L1883.4 1755.7 L1886.4 1759.2 L1890.1 1760.9 L1891.1 1763.3 L1893.1 1763.8 L1895.4 1767.1 L1898.4 1769.4 L1901.2 1772.0 L1903.0 1772.8 L1905.5 1776.8 L1907.6 1777.0 L1909.6 1780.2 L1911.5 1781.8 L1914.1 1785.3 L1916.3 1786.3 L1918.5 1788.0 L1920.6 1790.1 L1921.7 1792.5 L1925.0 1796.8 L1926.9 1798.2 L1929.3 1800.9 L1932.1 1803.0 L1933.3 1803.4 L1936.4 1806.1 L1938.4 1809.8 L1939.7 1810.4 L1942.3 1814.1 L1945.2 1816.7 L1946.5 1818.1 L1949.7 1819.7 L1951.5 1821.6 L1954.2 1824.4 L1955.8 1827.1 L1957.8 1829.7 L1960.2 1831.0 L1962.9 1833.8 L1965.1 1836.6 L1967.5 1837.7 L1969.5 1841.0 L1970.8 1842.8 L1973.6 1844.4 L1975.0 1846.4 L1978.0 1850.0 L1980.4 1852.0 L1982.3 1854.4 L1983.2 1856.3 L1986.4 1858.7 L1987.5 1860.8 L1989.7 1862.4 L1992.3 1865.2 L1993.3 1867.4 L1995.3 1868.6 L1998.5 1872.5 L2000.0 1874.3 L2002.3 1875.8 L2005.0 1877.0 L2007.5 1880.3 L2010.6 1881.4 L2012.1 1883.3 L2014.4 1886.1 L2017.8 1889.9 L2019.2 1891.0 L2022.1 1893.2 L2025.2 1896.5 L2025.8 1897.4 L2028.6 1900.2 L2030.7 1902.9 L2032.0 1904.3 L2035.2 1905.8 L2036.2 1909.1 L2038.2 1911.2 L2040.2 1912.5 L2042.6 1916.2 L2045.1 1918.0 L2047.1 1919.8 L2049.7 1922.5 L2051.2 1923.5 L2052.6 1927.1 L2055.8 1929.9 L2056.4 1932.6 L2058.7 1934.5 L2060.7 1935.6 L2063.6 1939.1 L2065.4 1942.1 L2067.4 1943.8 L2069.0 1946.5 L2070.9 1948.3 L2073.8 1950.9 L2075.7 1954.2 L2077.3 1956.9 L2079.2 1957.2 L2082.0 1961.3 L2083.9 1964.0 L2085.4 1965.0 L2087.8 1968.3 L2089.3 1970.3 L2092.4 1971.3 L2092.9 1973.4 L2096.0 1975.7 L2098.5 1977.7 L2100.5 1980.6 L2102.5 1982.8 L2103.3 1985.8 L2105.6 1988.9 L2108.5 1989.7 L2110.0 1992.8 L2112.5 1994.6 L2114.2 1997.6 L2116.3 2000.2 L2118.1 2002.2 L2120.0 2006.1 L2122.3 2006.4 L2124.1 2010.4 L2126.6 2011.2 L2128.2 2014.5 L2131.0 2016.5 L2134.6 2019.6" stroke="#BEBEBE" stroke-width="6" fill="none" stroke-linejoin="round"/>
<path d="M200 2018.8H2226" stroke="#000" stroke-width="5.6" fill="none"/>
<path d="M291.4 1981.8H294.2V2056.8H291.4ZM295.8 1981.8H298.1V2056.8H295.8ZM300.2 1981.8H303.4V2056.8H300.2ZM306.3 1981.8H310.1V2056.8H306.3ZM310.9 1981.8H314.7V2056.8H310.9ZM315.5 1981.8H319.2V2056.8H315.5ZM320.0 1981.8H323.8V2056.8H320.0ZM325.8 1981.8H328.6V2056.8H325.8ZM330.2 1981.8H333.4V2056.8H330.2ZM340.3 1981.8H343.9V2056.8H340.3ZM345.8 1981.8H347.8V2056.8H345.8ZM349.2 1981.8H352.4V2056.8H349.2ZM353.2 1981.8H356.3V2056.8H353.2ZM360.1 1981.8H365.8V2056.8H360.1ZM368.3 1981.8H371.9V2056.8H368.3ZM372.7 1981.8H376.3V2056.8H372.7ZM378.5 1981.8H380.5V2056.8H378.5ZM382.3 1981.8H385.8V2056.8H382.3ZM386.6 1981.8H390.2V2056.8H386.6ZM391.0 1981.8H394.5V2056.8H391.0ZM395.3 1981.8H398.9V2056.8H395.3ZM402.1 1981.8H404.1V2056.8H402.1ZM408.4 1981.8H413.0V2056.8H408.4ZM418.9 1981.8H422.5V2056.8H418.9ZM424.3 1981.8H428.5V2056.8H424.3ZM429.3 1981.8H433.6V2056.8H429.3ZM435.1 1981.8H439.7V2056.8H435.1ZM440.5 1981.8H445.0V2056.8H440.5ZM448.5 1981.8H452.1V2056.8H448.5ZM452.9 1981.8H456.4V2056.8H452.9ZM457.2 1981.8H460.7V2056.8H457.2ZM461.5 1981.8H465.1V2056.8H461.5ZM466.6 1981.8H470.7V2056.8H466.6ZM471.5 1981.8H475.6V2056.8H471.5ZM477.1 1981.8H481.2V2056.8H477.1ZM482.0 1981.8H486.1V2056.8H482.0ZM490.5 1981.8H494.5V2056.8H490.5ZM495.3 1981.8H499.4V2056.8H495.3ZM500.2 1981.8H504.2V2056.8H500.2ZM505.8 1981.8H509.8V2056.8H505.8ZM510.6 1981.8H514.7V2056.8H510.6ZM521.0 1981.8H523.0V2056.8H521.0ZM526.2 1981.8H529.0V2056.8H526.2ZM531.5 1981.8H533.8V2056.8H531.5ZM536.3 1981.8H538.6V2056.8H536.3ZM539.8 1981.8H541.8V2056.8H539.8ZM543.4 1981.8H547.0V2056.8H543.4ZM547.8 1981.8H551.4V2056.8H547.8ZM552.2 1981.8H555.8V2056.8H552.2ZM560.6 1981.8H564.4V2056.8H560.6ZM565.2 1981.8H569.1V2056.8H565.2ZM572.6 1981.8H575.2V2056.8H572.6ZM576.0 1981.8H578.7V2056.8H576.0ZM584.6 1981.8H589.3V2056.8H584.6ZM590.1 1981.8H594.7V2056.8H590.1ZM595.3 1981.8H597.6V2056.8H595.3ZM599.1 1981.8H602.7V2056.8H599.1ZM605.5 1981.8H607.5V2056.8H605.5ZM609.0 1981.8H613.8V2056.8H609.0ZM616.3 1981.8H620.5V2056.8H616.3ZM624.8 1981.8H626.8V2056.8H624.8ZM628.1 1981.8H631.1V2056.8H628.1ZM631.9 1981.8H634.8V2056.8H631.9ZM636.3 1981.8H639.0V2056.8H636.3ZM641.1 1981.8H643.4V2056.8H641.1ZM645.8 1981.8H647.8V2056.8H645.8ZM649.7 1981.8H654.8V2056.8H649.7ZM659.7 1981.8H661.7V2056.8H659.7ZM664.4 1981.8H668.2V2056.8H664.4ZM670.7 1981.8H674.9V2056.8H670.7ZM676.4 1981.8H681.6V2056.8H676.4ZM683.1 1981.8H685.7V2056.8H683.1ZM686.5 1981.8H689.2V2056.8H686.5ZM692.3 1981.8H695.7V2056.8H692.3ZM696.5 1981.8H699.9V2056.8H696.5ZM700.7 1981.8H704.1V2056.8H700.7ZM704.9 1981.8H708.3V2056.8H704.9ZM712.1 1981.8H715.0V2056.8H712.1ZM718.1 1981.8H720.1V2056.8H718.1ZM721.3 1981.8H726.3V2056.8H721.3ZM727.1 1981.8H732.1V2056.8H727.1ZM735.3 1981.8H737.3V2056.8H735.3ZM738.5 1981.8H741.6V2056.8H738.5ZM742.4 1981.8H745.5V2056.8H742.4ZM749.5 1981.8H751.6V2056.8H749.5ZM755.3 1981.8H758.9V2056.8H755.3ZM760.4 1981.8H765.5V2056.8H760.4ZM774.4 1981.8H776.4V2056.8H774.4ZM779.5 1981.8H784.6V2056.8H779.5ZM789.6 1981.8H793.9V2056.8H789.6ZM794.7 1981.8H798.9V2056.8H794.7ZM802.4 1981.8H805.5V2056.8H802.4ZM806.3 1981.8H809.4V2056.8H806.3ZM814.4 1981.8H819.2V2056.8H814.4ZM820.0 1981.8H824.7V2056.8H820.0ZM826.6 1981.8H828.6V2056.8H826.6ZM837.3 1981.8H840.2V2056.8H837.3ZM841.0 1981.8H843.8V2056.8H841.0ZM847.3 1981.8H850.2V2056.8H847.3ZM851.0 1981.8H853.9V2056.8H851.0ZM860.3 1981.8H863.1V2056.8H860.3ZM863.9 1981.8H866.7V2056.8H863.9ZM869.2 1981.8H873.3V2056.8H869.2ZM874.1 1981.8H878.1V2056.8H874.1ZM878.9 1981.8H882.9V2056.8H878.9ZM884.5 1981.8H889.6V2056.8H884.5ZM892.1 1981.8H895.7V2056.8H892.1ZM896.5 1981.8H900.1V2056.8H896.5ZM901.3 1981.8H903.3V2056.8H901.3ZM905.3 1981.8H910.4V2056.8H905.3ZM912.8 1981.8H914.8V2056.8H912.8ZM916.4 1981.8H920.9V2056.8H916.4ZM923.4 1981.8H928.6V2056.8H923.4ZM931.1 1981.8H933.3V2056.8H931.1ZM934.9 1981.8H940.0V2056.8H934.9ZM945.8 1981.8H950.1V2056.8H945.8ZM950.9 1981.8H955.3V2056.8H950.9ZM959.4 1981.8H961.4V2056.8H959.4ZM965.4 1981.8H969.0V2056.8H965.4ZM969.8 1981.8H973.4V2056.8H969.8ZM976.0 1981.8H978.0V2056.8H976.0ZM979.4 1981.8H981.4V2056.8H979.4ZM983.6 1981.8H986.4V2056.8H983.6ZM989.7 1981.8H992.5V2056.8H989.7ZM994.1 1981.8H997.5V2056.8H994.1ZM998.3 1981.8H1001.7V2056.8H998.3ZM1002.5 1981.8H1005.9V2056.8H1002.5ZM1006.7 1981.8H1010.1V2056.8H1006.7ZM1015.6 1981.8H1017.7V2056.8H1015.6ZM1020.8 1981.8H1026.5V2056.8H1020.8ZM1033.5 1981.8H1035.5V2056.8H1033.5ZM1039.3 1981.8H1042.5V2056.8H1039.3ZM1046.4 1981.8H1048.4V2056.8H1046.4ZM1050.8 1981.8H1054.5V2056.8H1050.8ZM1056.7 1981.8H1058.7V2056.8H1056.7ZM1060.0 1981.8H1062.0V2056.8H1060.0ZM1067.6 1981.8H1073.1V2056.8H1067.6ZM1077.7 1981.8H1079.7V2056.8H1077.7ZM1080.6 1981.8H1082.6V2056.8H1080.6ZM1084.4 1981.8H1088.3V2056.8H1084.4ZM1093.3 1981.8H1095.3V2056.8H1093.3ZM1101.0 1981.8H1103.6V2056.8H1101.0ZM1105.6 1981.8H1107.6V2056.8H1105.6ZM1109.2 1981.8H1111.2V2056.8H1109.2ZM1120.5 1981.8H1122.5V2056.8H1120.5ZM1129.0 1981.8H1131.0V2056.8H1129.0ZM1132.5 1981.8H1136.6V2056.8H1132.5ZM1141.6 1981.8H1145.9V2056.8H1141.6ZM1146.7 1981.8H1150.9V2056.8H1146.7ZM1156.9 1981.8H1160.5V2056.8H1156.9ZM1163.0 1981.8H1165.3V2056.8H1163.0ZM1171.6 1981.8H1174.8V2056.8H1171.6ZM1178.3 1981.8H1180.5V2056.8H1178.3ZM1185.9 1981.8H1189.0V2056.8H1185.9ZM1189.8 1981.8H1192.9V2056.8H1189.8ZM1196.8 1981.8H1198.8V2056.8H1196.8ZM1200.2 1981.8H1205.3V2056.8H1200.2ZM1207.9 1981.8H1210.9V2056.8H1207.9ZM1211.7 1981.8H1214.7V2056.8H1211.7ZM1215.3 1981.8H1218.5V2056.8H1215.3ZM1228.1 1981.8H1230.1V2056.8H1228.1ZM1232.9 1981.8H1236.7V2056.8H1232.9ZM1237.5 1981.8H1241.4V2056.8H1237.5ZM1243.6 1981.8H1249.4V2056.8H1243.6ZM1252.0 1981.8H1254.8V2056.8H1252.0ZM1257.3 1981.8H1259.6V2056.8H1257.3ZM1262.6 1981.8H1264.7V2056.8H1262.6ZM1266.5 1981.8H1271.0V2056.8H1266.5ZM1272.2 1981.8H1274.2V2056.8H1272.2ZM1276.8 1981.8H1280.2V2056.8H1276.8ZM1281.0 1981.8H1284.4V2056.8H1281.0ZM1287.8 1981.8H1291.1V2056.8H1287.8ZM1295.1 1981.8H1297.1V2056.8H1295.1ZM1302.2 1981.8H1305.4V2056.8H1302.2ZM1309.2 1981.8H1312.1V2056.8H1309.2ZM1312.9 1981.8H1315.9V2056.8H1312.9ZM1318.4 1981.8H1321.8V2056.8H1318.4ZM1322.6 1981.8H1326.1V2056.8H1322.6ZM1326.9 1981.8H1330.3V2056.8H1326.9ZM1331.1 1981.8H1334.6V2056.8H1331.1ZM1343.2 1981.8H1345.5V2056.8H1343.2ZM1349.9 1981.8H1354.4V2056.8H1349.9ZM1359.1 1981.8H1361.1V2056.8H1359.1ZM1367.6 1981.8H1369.7V2056.8H1367.6ZM1373.4 1981.8H1376.7V2056.8H1373.4ZM1377.5 1981.8H1380.8V2056.8H1377.5ZM1383.7 1981.8H1386.1V2056.8H1383.7ZM1390.5 1981.8H1394.2V2056.8H1390.5ZM1395.0 1981.8H1398.6V2056.8H1395.0ZM1399.4 1981.8H1403.1V2056.8H1399.4ZM1403.9 1981.8H1407.5V2056.8H1403.9ZM1422.4 1981.8H1427.0V2056.8H1422.4ZM1427.8 1981.8H1432.3V2056.8H1427.8ZM1439.0 1981.8H1442.9V2056.8H1439.0ZM1443.7 1981.8H1447.6V2056.8H1443.7ZM1449.7 1981.8H1455.6V2056.8H1449.7ZM1457.3 1981.8H1460.9V2056.8H1457.3ZM1461.7 1981.8H1465.2V2056.8H1461.7ZM1466.0 1981.8H1469.5V2056.8H1466.0ZM1470.3 1981.8H1473.8V2056.8H1470.3ZM1474.6 1981.8H1478.1V2056.8H1474.6ZM1478.9 1981.8H1482.4V2056.8H1478.9ZM1483.2 1981.8H1486.7V2056.8H1483.2ZM1491.1 1981.8H1493.4V2056.8H1491.1ZM1496.2 1981.8H1498.2V2056.8H1496.2ZM1502.0 1981.8H1506.8V2056.8H1502.0ZM1508.9 1981.8H1510.9V2056.8H1508.9ZM1514.0 1981.8H1516.7V2056.8H1514.0ZM1517.5 1981.8H1520.1V2056.8H1517.5ZM1522.3 1981.8H1524.3V2056.8H1522.3ZM1525.3 1981.8H1530.4V2056.8H1525.3ZM1534.5 1981.8H1539.6V2056.8H1534.5ZM1542.5 1981.8H1544.7V2056.8H1542.5ZM1545.9 1981.8H1548.6V2056.8H1545.9ZM1552.0 1981.8H1556.2V2056.8H1552.0ZM1561.0 1981.8H1563.0V2056.8H1561.0ZM1563.9 1981.8H1567.0V2056.8H1563.9ZM1567.8 1981.8H1570.9V2056.8H1567.8ZM1572.6 1981.8H1578.1V2056.8H1572.6ZM1579.4 1981.8H1581.4V2056.8H1579.4ZM1582.9 1981.8H1584.9V2056.8H1582.9ZM1587.9 1981.8H1590.6V2056.8H1587.9ZM1592.1 1981.8H1595.7V2056.8H1592.1ZM1603.9 1981.8H1607.7V2056.8H1603.9ZM1609.3 1981.8H1613.5V2056.8H1609.3ZM1618.8 1981.8H1623.0V2056.8H1618.8ZM1624.6 1981.8H1627.4V2056.8H1624.6ZM1631.8 1981.8H1634.5V2056.8H1631.8ZM1636.0 1981.8H1638.9V2056.8H1636.0ZM1641.6 1981.8H1643.6V2056.8H1641.6ZM1647.1 1981.8H1650.9V2056.8H1647.1ZM1651.7 1981.8H1655.5V2056.8H1651.7ZM1658.0 1981.8H1660.6V2056.8H1658.0ZM1661.4 1981.8H1664.0V2056.8H1661.4ZM1665.6 1981.8H1669.4V2056.8H1665.6ZM1675.6 1981.8H1677.6V2056.8H1675.6ZM1680.9 1981.8H1683.5V2056.8H1680.9ZM1684.3 1981.8H1687.0V2056.8H1684.3ZM1688.5 1981.8H1691.6V2056.8H1688.5ZM1692.4 1981.8H1695.5V2056.8H1692.4ZM1697.7 1981.8H1699.7V2056.8H1697.7ZM1700.9 1981.8H1704.1V2056.8H1700.9ZM1705.7 1981.8H1708.3V2056.8H1705.7ZM1710.5 1981.8H1715.6V2056.8H1710.5ZM1722.8 1981.8H1724.8V2056.8H1722.8ZM1727.6 1981.8H1731.2V2056.8H1727.6ZM1733.4 1981.8H1737.0V2056.8H1733.4ZM1737.8 1981.8H1741.4V2056.8H1737.8ZM1751.5 1981.8H1755.3V2056.8H1751.5ZM1756.1 1981.8H1759.9V2056.8H1756.1ZM1761.6 1981.8H1763.7V2056.8H1761.6ZM1766.1 1981.8H1768.1V2056.8H1766.1ZM1769.6 1981.8H1771.9V2056.8H1769.6ZM1775.4 1981.8H1779.2V2056.8H1775.4ZM1780.0 1981.8H1783.9V2056.8H1780.0ZM1785.3 1981.8H1788.7V2056.8H1785.3ZM1789.5 1981.8H1792.9V2056.8H1789.5ZM1802.1 1981.8H1804.7V2056.8H1802.1ZM1805.5 1981.8H1808.2V2056.8H1805.5ZM1815.8 1981.8H1817.8V2056.8H1815.8ZM1826.9 1981.8H1832.0V2056.8H1826.9ZM1837.2 1981.8H1839.2V2056.8H1837.2ZM1840.1 1981.8H1842.7V2056.8H1840.1ZM1843.5 1981.8H1846.2V2056.8H1843.5ZM1847.7 1981.8H1852.3V2056.8H1847.7ZM1853.1 1981.8H1857.6V2056.8H1853.1ZM1858.6 1981.8H1863.0V2056.8H1858.6ZM1864.3 1981.8H1866.8V2056.8H1864.3ZM1869.3 1981.8H1872.8V2056.8H1869.3ZM1873.6 1981.8H1877.1V2056.8H1873.6ZM1878.8 1981.8H1882.5V2056.8H1878.8ZM1883.3 1981.8H1887.1V2056.8H1883.3ZM1887.9 1981.8H1891.6V2056.8H1887.9ZM1899.8 1981.8H1903.4V2056.8H1899.8ZM1905.5 1981.8H1909.5V2056.8H1905.5ZM1911.1 1981.8H1913.1V2056.8H1911.1ZM1915.1 1981.8H1919.6V2056.8H1915.1ZM1923.5 1981.8H1928.6V2056.8H1923.5ZM1932.3 1981.8H1937.8V2056.8H1932.3ZM1940.3 1981.8H1943.6V2056.8H1940.3ZM1944.4 1981.8H1947.7V2056.8H1944.4ZM1952.7 1981.8H1957.8V2056.8H1952.7ZM1961.9 1981.8H1963.9V2056.8H1961.9ZM1971.7 1981.8H1973.7V2056.8H1971.7ZM1976.2 1981.8H1979.7V2056.8H1976.2ZM1980.5 1981.8H1984.0V2056.8H1980.5ZM1984.8 1981.8H1988.4V2056.8H1984.8ZM1991.8 1981.8H1994.9V2056.8H1991.8ZM1995.7 1981.8H1998.9V2056.8H1995.7ZM2003.3 1981.8H2006.7V2056.8H2003.3ZM2007.5 1981.8H2010.9V2056.8H2007.5ZM2011.7 1981.8H2015.1V2056.8H2011.7ZM2016.6 1981.8H2021.9V2056.8H2016.6ZM2022.7 1981.8H2027.9V2056.8H2022.7ZM2030.4 1981.8H2034.2V2056.8H2030.4ZM2040.2 1981.8H2042.2V2056.8H2040.2ZM2050.6 1981.8H2053.5V2056.8H2050.6ZM2054.3 1981.8H2057.1V2056.8H2054.3ZM2060.9 1981.8H2064.7V2056.8H2060.9ZM2070.1 1981.8H2075.2V2056.8H2070.1ZM2082.5 1981.8H2086.2V2056.8H2082.5ZM2087.0 1981.8H2090.7V2056.8H2087.0ZM2091.5 1981.8H2095.3V2056.8H2091.5ZM2096.8 1981.8H2099.1V2056.8H2096.8ZM2101.6 1981.8H2105.2V2056.8H2101.6ZM2106.0 1981.8H2109.6V2056.8H2106.0ZM2118.2 1981.8H2121.9V2056.8H2118.2ZM2122.7 1981.8H2126.4V2056.8H2122.7ZM2129.6 1981.8H2133.4V2056.8H2129.6Z" fill="#000"/>
<text x="2316.5" y="1351.2" font-size="61.2" fill="#000" text-anchor="start" >p</text>
<circle cx="2349.6" cy="1420.4" r="4" fill="#000"/>
<text x="2411.0" y="1439.9" font-size="49.2" fill="#000" text-anchor="start" >0</text>
<circle cx="2349.6" cy="1484.5" r="9" fill="#000"/>
<text x="2411.0" y="1504.0" font-size="49.2" fill="#000" text-anchor="start" >2</text>
<circle cx="2349.6" cy="1548.6" r="13.9" fill="#000"/>
<text x="2411.0" y="1568.1" font-size="49.2" fill="#000" text-anchor="start" >4</text>
<circle cx="2349.6" cy="1612.7" r="19" fill="#000"/>
<text x="2411.0" y="1632.2" font-size="49.2" fill="#000" text-anchor="start" >6</text>
<text x="2316.5" y="1819.7" font-size="61.2" fill="#000" text-anchor="start" >p</text>
<rect x="2317.8" y="1855.6" width="64" height="319.7" fill="url(#cbar)"/>
<text x="2411.0" y="2185.9" font-size="49.2" fill="#000" text-anchor="start" >0</text>
<text x="2411.0" y="2100.7" font-size="49.2" fill="#000" text-anchor="start" >2</text>
<text x="2411.0" y="2015.5" font-size="49.2" fill="#000" text-anchor="start" >4</text>
<text x="2411.0" y="1930.4" font-size="49.2" fill="#000" text-anchor="start" >6</text>
<path d="M2317.8 2167.4h12.9M2368.9 2167.4h12.9M2317.8 2082.2h12.9M2368.9 2082.2h12.9M2317.8 1997.0h12.9M2368.9 1997.0h12.9M2317.8 1911.9h12.9M2368.9 1911.9h12.9" stroke="#FFFFFF" stroke-width="2.7" fill="none"/>
<text x="0" y="0" font-size="74" fill="#000" text-anchor="middle" transform="translate(1226.5 2416.8) scale(1 1.035)" >Gastrocnemius Medialis (TAG group: p &lt; 0.05)</text>
<text x="0" y="0" font-size="61.3" fill="#000" text-anchor="middle" transform="translate(1226.5 2509.6) scale(1 1.035)" >Empirical p = 0.811; NES = 0.952</text>
<path d="M317.9 2553.33V3254.33M965.4 2553.33V3254.33M1612.9 2553.33V3254.33M227 3185.0H2226M227 3063.4H2226M227 2941.8H2226M227 2820.2H2226M227 2698.6H2226M227 2577.0H2226" stroke="#EBEBEB" stroke-width="5.6" fill="none"/>
<path d="M317.9 3254.33V3269.33M965.4 3254.33V3269.33M1612.9 3254.33V3269.33M212 3185.0H227M212 3063.4H227M212 2941.8H227M212 2820.2H227M212 2698.6H227M212 2577.0H227" stroke="#333333" stroke-width="5.6" fill="none"/>
<text x="317.9" y="3318.4" font-size="49.2" fill="#4D4D4D" text-anchor="middle" >0</text>
<text x="965.4" y="3318.4" font-size="49.2" fill="#4D4D4D" text-anchor="middle" >5000</text>
<text x="1612.9" y="3318.4" font-size="49.2" fill="#4D4D4D" text-anchor="middle" >10000</text>
<text x="200.5" y="3202.5" font-size="49.4" fill="#4D4D4D" text-anchor="end" >0.00</text>
<text x="200.5" y="3080.9" font-size="49.4" fill="#4D4D4D" text-anchor="end" >0.05</text>
<text x="200.5" y="2959.3" font-size="49.4" fill="#4D4D4D" text-anchor="end" >0.10</text>
<text x="200.5" y="2837.7" font-size="49.4" fill="#4D4D4D" text-anchor="end" >0.15</text>
<text x="200.5" y="2716.1" font-size="49.4" fill="#4D4D4D" text-anchor="end" >0.20</text>
<text x="200.5" y="2594.5" font-size="49.4" fill="#4D4D4D" text-anchor="end" >0.25</text>
<text x="0" y="0" font-size="61.2" fill="#000" text-anchor="middle" transform="translate(1226.5 3389.1) scale(1 1.035)" >Rank of gene by tissue z-score in ENCODE</text>
<text x="0" y="0" font-size="61.1" fill="#000" text-anchor="middle" transform="translate(75.4 2903.8) rotate(-90) scale(1 1.035)">enrichment score</text>
<path d="M227 2585.5H2226" stroke="#FF0000" stroke-width="5.6" stroke-dasharray="23.7 23.7" fill="none"/>
<path d="M227 3187.0H2226" stroke="#FF0000" stroke-width="3" stroke-dasharray="23.7 23.7" fill="none" opacity="0.6"/>
<path d="M316.5 3184.4 L318.1 3182.0 L319.9 3176.9 L320.4 3177.6 L322.2 3172.2 L324.8 3170.6 L325.9 3167.9 L327.0 3163.8 L328.4 3164.2 L329.7 3161.0 L331.3 3155.3 L332.9 3154.9 L333.6 3149.7 L335.5 3148.6 L336.3 3147.3 L337.3 3144.4 L337.8 3140.8 L338.9 3138.3 L340.6 3131.6 L340.5 3129.0 L342.8 3126.9 L343.3 3123.2 L343.9 3120.5 L344.4 3118.3 L345.6 3116.7 L346.5 3113.7 L347.5 3110.9 L348.0 3104.2 L349.1 3104.6 L349.9 3099.8 L350.9 3095.1 L352.3 3093.7 L352.6 3088.3 L354.7 3089.3 L354.7 3085.4 L358.3 3081.3 L361.2 3082.8 L365.2 3078.4 L367.9 3077.2 L371.1 3077.3 L373.7 3082.4 L375.4 3084.8 L377.4 3083.0 L380.2 3085.1 L380.8 3083.7 L382.8 3079.5 L383.3 3079.6 L385.0 3076.9 L387.3 3071.2 L387.9 3068.8 L389.5 3066.0 L391.7 3063.8 L394.6 3061.0 L396.1 3059.7 L398.1 3055.5 L399.5 3053.4 L399.1 3048.1 L399.1 3047.5 L398.8 3044.6 L400.0 3039.1 L400.3 3037.8 L400.6 3034.2 L400.9 3032.8 L400.1 3026.8 L401.4 3027.7 L400.9 3022.4 L401.7 3018.7 L402.9 3016.0 L404.5 3014.5 L405.9 3010.9 L408.2 3006.6 L409.4 3007.0 L410.5 3002.1 L412.8 2999.5 L413.4 2997.6 L416.8 2994.1 L418.7 2993.1 L422.1 2991.5 L424.7 2988.2 L426.5 2988.3 L429.9 2985.4 L430.9 2981.4 L433.4 2979.1 L435.9 2979.4 L437.0 2974.4 L440.0 2973.4 L442.1 2969.5 L441.5 2966.2 L443.0 2963.0 L442.7 2960.6 L443.2 2957.5 L444.5 2953.3 L443.5 2953.6 L445.3 2950.7 L446.8 2948.4 L449.8 2943.0 L451.7 2943.5 L453.8 2939.9 L455.4 2937.0 L457.5 2933.6 L460.2 2932.4 L463.7 2929.4 L466.9 2930.4 L470.0 2929.5 L473.1 2926.2 L474.7 2925.1 L477.6 2924.9 L481.0 2927.6 L483.3 2931.2 L486.3 2930.3 L488.3 2934.4 L491.3 2935.8 L493.8 2935.0 L497.1 2936.2 L499.6 2934.5 L503.9 2933.0 L506.8 2928.0 L509.6 2930.2 L510.0 2924.7 L511.8 2922.9 L513.4 2919.8 L515.3 2914.8 L515.5 2912.5 L517.0 2909.3 L519.7 2909.9 L519.7 2905.4 L521.4 2901.7 L523.8 2900.8 L526.4 2897.3 L528.1 2894.8 L530.3 2893.5 L533.5 2890.4 L534.8 2887.2 L537.6 2886.8 L540.6 2883.5 L542.3 2881.8 L543.4 2878.0 L545.2 2876.7 L546.8 2873.9 L548.6 2869.2 L550.4 2868.5 L551.4 2864.5 L553.7 2863.8 L556.2 2858.8 L558.1 2858.4 L559.0 2854.6 L560.7 2853.8 L563.5 2851.9 L565.6 2848.6 L567.4 2845.8 L568.3 2843.6 L570.1 2839.3 L574.4 2839.4 L576.4 2840.2 L580.8 2841.0 L582.5 2844.5 L585.7 2845.0 L589.7 2845.5 L593.2 2842.5 L596.0 2838.2 L599.1 2838.5 L602.1 2834.8 L605.2 2836.6 L605.0 2830.8 L606.7 2830.0 L607.1 2824.1 L608.1 2822.9 L609.8 2818.8 L610.1 2815.8 L611.0 2812.8 L611.5 2810.1 L613.8 2806.6 L614.4 2802.4 L617.4 2806.3 L620.4 2806.5 L623.2 2808.2 L627.0 2807.3 L628.8 2811.2 L632.2 2807.8 L633.6 2806.3 L635.3 2802.0 L637.4 2801.0 L639.8 2797.1 L642.5 2797.9 L644.0 2794.4 L646.3 2792.7 L648.7 2787.8 L650.3 2784.3 L652.8 2783.5 L654.4 2781.1 L656.8 2780.5 L659.6 2780.3 L663.2 2777.4 L666.3 2777.3 L670.0 2775.0 L672.5 2774.5 L676.2 2772.0 L679.1 2773.3 L681.7 2768.9 L684.4 2772.3 L688.2 2774.7 L691.6 2772.8 L693.6 2774.2 L696.6 2777.4 L700.8 2779.6 L702.1 2777.3 L704.4 2773.3 L707.3 2769.7 L708.5 2770.9 L711.1 2766.7 L713.8 2766.0 L715.1 2762.4 L718.1 2760.9 L719.9 2759.3 L723.4 2756.3 L725.0 2753.0 L727.6 2755.4 L730.4 2756.4 L734.8 2752.9 L737.9 2754.1 L740.7 2755.8 L743.0 2755.5 L744.6 2753.0 L745.0 2749.7 L747.1 2746.2 L747.5 2740.7 L748.5 2738.7 L749.8 2737.0 L750.6 2731.8 L751.8 2730.7 L752.1 2728.7 L755.9 2723.5 L759.5 2721.7 L761.6 2722.4 L765.1 2719.8 L768.2 2717.5 L770.3 2714.5 L772.4 2715.1 L776.1 2712.5 L778.7 2709.9 L780.5 2708.3 L784.0 2705.0 L786.3 2708.2 L789.5 2711.0 L791.7 2713.5 L794.9 2717.5 L796.6 2715.3 L798.3 2710.2 L800.4 2706.9 L803.5 2707.1 L804.7 2702.2 L807.1 2702.1 L809.8 2699.5 L811.5 2694.3 L814.0 2696.1 L817.0 2699.3 L819.2 2699.5 L822.9 2700.0 L825.7 2705.4 L828.7 2704.7 L831.2 2704.9 L834.4 2706.1 L837.5 2702.5 L840.9 2702.7 L843.6 2703.1 L845.7 2702.7 L849.7 2700.3 L852.5 2699.1 L854.9 2698.3 L857.6 2697.0 L861.5 2695.7 L864.5 2699.5 L868.1 2697.4 L871.0 2701.1 L872.9 2701.5 L876.3 2701.8 L879.9 2707.1 L881.2 2704.1 L883.5 2698.2 L885.4 2697.6 L887.2 2695.4 L888.5 2691.1 L890.3 2691.0 L892.1 2686.1 L893.6 2683.6 L894.2 2679.0 L895.9 2677.0 L897.7 2675.6 L901.8 2674.8 L904.6 2674.4 L907.6 2672.7 L911.6 2671.5 L913.9 2672.7 L918.0 2669.5 L920.7 2669.3 L924.3 2667.0 L926.4 2668.2 L930.7 2669.1 L933.3 2670.6 L936.0 2671.7 L939.4 2672.9 L941.8 2673.9 L943.9 2672.8 L945.6 2667.9 L948.0 2666.9 L950.3 2662.5 L951.6 2661.3 L952.9 2661.0 L955.0 2654.4 L957.3 2651.9 L960.3 2651.3 L962.2 2648.7 L966.0 2648.3 L968.9 2647.7 L971.9 2645.6 L973.5 2644.1 L977.2 2644.3 L979.3 2640.6 L981.9 2641.9 L983.8 2635.1 L985.0 2632.9 L987.3 2630.2 L989.2 2630.3 L992.6 2625.8 L994.8 2624.4 L996.6 2623.8 L999.4 2621.8 L1001.0 2626.2 L1004.6 2625.8 L1006.2 2631.0 L1008.5 2630.8 L1012.0 2633.1 L1016.1 2632.0 L1019.0 2635.5 L1022.3 2635.8 L1025.6 2636.0 L1027.9 2636.5 L1031.6 2638.6 L1033.3 2635.4 L1036.5 2635.5 L1038.9 2632.6 L1041.0 2629.8 L1043.9 2627.3 L1045.9 2628.7 L1048.8 2623.9 L1050.5 2625.4 L1053.6 2623.7 L1056.6 2619.9 L1059.3 2619.3 L1061.1 2615.9 L1063.3 2614.2 L1067.3 2611.0 L1069.4 2609.2 L1071.2 2609.8 L1074.6 2606.5 L1077.5 2608.5 L1081.2 2605.1 L1083.7 2608.7 L1086.8 2606.3 L1090.2 2606.6 L1093.6 2605.9 L1096.7 2602.5 L1099.3 2601.2 L1103.5 2600.6 L1105.4 2603.5 L1108.8 2602.4 L1111.8 2599.7 L1115.3 2600.9 L1119.2 2599.6 L1122.6 2600.1 L1125.2 2598.5 L1128.6 2595.9 L1132.5 2597.5 L1135.7 2595.4 L1138.5 2596.0 L1141.5 2596.0 L1143.7 2599.4 L1146.0 2601.3 L1149.8 2602.3 L1152.4 2604.7 L1154.5 2605.2 L1158.5 2606.8 L1160.4 2607.3 L1163.1 2608.2 L1167.4 2611.3 L1170.3 2613.1 L1173.0 2613.5 L1176.0 2611.8 L1179.7 2614.6 L1182.8 2612.7 L1185.6 2612.4 L1189.0 2614.6 L1191.0 2614.7 L1193.9 2611.0 L1197.9 2611.9 L1199.8 2610.8 L1201.2 2608.7 L1203.8 2604.8 L1206.1 2603.5 L1209.0 2599.0 L1211.2 2599.2 L1214.9 2598.5 L1217.7 2601.7 L1221.8 2602.9 L1225.5 2602.7 L1227.7 2599.8 L1230.9 2601.3 L1234.4 2601.9 L1237.4 2603.0 L1240.5 2601.1 L1244.7 2602.4 L1247.0 2599.7 L1251.1 2598.4 L1253.2 2600.5 L1257.1 2598.7 L1259.6 2598.6 L1263.5 2602.0 L1266.6 2605.8 L1269.4 2604.8 L1270.9 2607.0 L1274.4 2607.2 L1276.8 2606.8 L1280.0 2604.6 L1283.3 2605.5 L1286.6 2601.9 L1289.1 2601.4 L1292.3 2600.2 L1295.1 2598.5 L1296.3 2593.2 L1299.5 2593.8 L1301.4 2591.7 L1303.8 2586.9 L1305.5 2583.5 L1308.5 2585.0 L1311.6 2585.3 L1313.9 2589.4 L1316.7 2590.1 L1318.7 2591.8 L1321.0 2592.4 L1324.5 2598.1 L1326.9 2597.6 L1329.6 2597.2 L1333.5 2596.6 L1336.8 2594.6 L1338.8 2595.6 L1342.1 2596.5 L1345.8 2596.2 L1347.8 2594.3 L1350.0 2598.7 L1352.2 2599.6 L1354.8 2604.5 L1356.2 2605.5 L1358.9 2606.9 L1362.0 2610.9 L1363.9 2609.7 L1367.5 2610.9 L1369.7 2615.1 L1372.7 2614.0 L1376.8 2618.4 L1378.8 2617.3 L1381.9 2617.5 L1384.6 2619.5 L1387.1 2614.5 L1390.0 2612.2 L1393.3 2613.4 L1396.6 2611.2 L1399.3 2606.8 L1401.2 2609.3 L1403.6 2604.6 L1407.6 2605.0 L1410.9 2604.4 L1413.7 2608.8 L1416.9 2609.0 L1420.2 2609.8 L1424.3 2608.6 L1425.9 2608.2 L1429.4 2610.9 L1430.9 2615.9 L1434.5 2614.7 L1438.3 2615.0 L1441.1 2611.3 L1443.6 2617.1 L1445.9 2615.3 L1448.1 2617.2 L1450.9 2622.7 L1452.9 2621.4 L1457.4 2625.3 L1460.5 2622.3 L1462.6 2625.7 L1465.9 2624.9 L1467.7 2624.6 L1469.8 2630.4 L1472.5 2632.3 L1474.0 2634.8 L1476.1 2637.5 L1478.7 2638.7 L1481.5 2641.0 L1485.1 2636.8 L1488.5 2638.9 L1490.4 2635.5 L1493.6 2633.7 L1498.0 2634.4 L1501.0 2632.2 L1502.5 2637.2 L1506.6 2639.3 L1509.3 2638.9 L1512.3 2638.6 L1514.8 2641.8 L1517.0 2644.1 L1520.6 2644.3 L1524.0 2644.1 L1527.2 2646.0 L1531.5 2648.1 L1534.6 2648.3 L1537.0 2649.5 L1539.4 2647.6 L1542.2 2652.1 L1544.4 2653.6 L1546.8 2656.9 L1549.6 2656.6 L1552.2 2660.1 L1555.8 2659.9 L1557.8 2661.5 L1560.1 2661.9 L1564.2 2664.7 L1565.8 2666.2 L1569.2 2668.0 L1571.6 2666.8 L1574.4 2671.8 L1576.7 2673.9 L1579.6 2673.7 L1581.4 2676.5 L1584.0 2678.0 L1586.8 2682.4 L1589.2 2681.0 L1591.1 2683.8 L1594.2 2684.7 L1595.8 2687.3 L1598.6 2687.9 L1601.4 2693.7 L1603.9 2694.7 L1606.8 2697.0 L1610.3 2696.0 L1613.2 2696.2 L1616.8 2697.6 L1618.6 2700.8 L1620.8 2701.1 L1624.1 2704.1 L1625.4 2704.7 L1628.3 2706.6 L1632.3 2706.2 L1634.7 2705.9 L1638.3 2705.1 L1641.0 2707.6 L1643.1 2708.2 L1646.5 2711.6 L1647.5 2712.9 L1651.1 2716.2 L1652.4 2715.8 L1655.6 2718.7 L1659.4 2720.6 L1661.6 2720.4 L1665.2 2722.4 L1667.8 2722.1 L1670.7 2723.6 L1673.8 2725.2 L1677.7 2725.2 L1679.7 2725.8 L1683.1 2728.8 L1685.9 2728.9 L1689.3 2731.3 L1691.3 2731.7 L1693.6 2734.8 L1696.1 2735.4 L1699.6 2736.5 L1702.5 2739.3 L1705.4 2740.4 L1707.1 2740.4 L1710.2 2742.6 L1712.5 2745.6 L1715.3 2747.2 L1719.2 2747.1 L1721.9 2749.4 L1723.6 2750.6 L1726.0 2753.0 L1729.3 2755.5 L1732.6 2755.1 L1734.6 2757.4 L1736.8 2758.7 L1739.6 2761.3 L1742.3 2761.4 L1744.7 2763.8 L1747.9 2764.9 L1750.7 2767.0 L1753.2 2770.2 L1755.0 2772.8 L1758.0 2774.5 L1760.9 2776.9 L1763.2 2777.7 L1766.4 2781.9 L1768.5 2783.4 L1770.7 2786.4 L1774.0 2787.0 L1776.8 2791.0 L1778.6 2793.3 L1781.4 2793.5 L1784.3 2796.1 L1786.7 2798.8 L1788.0 2800.7 L1791.5 2802.7 L1793.3 2805.7 L1795.5 2806.8 L1798.1 2809.7 L1799.8 2810.0 L1803.0 2813.2 L1804.6 2816.1 L1807.8 2817.3 L1810.1 2820.2 L1811.9 2821.0 L1812.9 2824.1 L1816.2 2825.5 L1818.0 2828.2 L1819.7 2830.6 L1822.4 2832.0 L1823.8 2834.6 L1826.3 2837.2 L1828.3 2838.5 L1830.5 2840.7 L1833.2 2842.1 L1834.7 2845.1 L1837.3 2847.3 L1839.6 2848.3 L1842.5 2852.4 L1845.3 2853.5 L1846.9 2854.5 L1849.1 2857.1 L1852.4 2858.7 L1854.8 2861.7 L1856.3 2863.2 L1859.5 2865.4 L1861.2 2868.5 L1862.9 2870.1 L1866.5 2873.8 L1868.4 2876.4 L1869.7 2878.3 L1873.0 2879.4 L1874.9 2883.6 L1877.0 2885.4 L1879.1 2887.5 L1881.5 2889.4 L1884.0 2892.6 L1886.9 2894.0 L1889.1 2896.1 L1891.6 2898.0 L1893.5 2901.0 L1895.5 2902.0 L1897.5 2905.8 L1899.8 2908.3 L1902.4 2911.1 L1905.0 2912.9 L1906.3 2913.6 L1908.7 2917.6 L1911.3 2918.6 L1912.2 2922.8 L1915.2 2924.0 L1917.2 2925.5 L1919.0 2929.1 L1921.2 2930.2 L1922.7 2933.6 L1926.3 2934.8 L1927.2 2937.0 L1930.8 2940.1 L1932.6 2943.8 L1935.2 2944.4 L1937.6 2946.1 L1939.3 2950.1 L1941.4 2950.8 L1944.3 2953.9 L1947.2 2955.5 L1949.2 2958.4 L1951.3 2960.7 L1953.3 2962.6 L1954.8 2965.1 L1957.9 2967.0 L1959.2 2969.4 L1961.1 2971.3 L1964.1 2974.1 L1966.3 2975.6 L1967.6 2977.2 L1970.3 2979.8 L1972.8 2982.1 L1975.3 2985.3 L1977.3 2988.0 L1979.2 2989.6 L1981.0 2991.1 L1984.0 2994.6 L1985.0 2998.0 L1987.9 2999.6 L1989.9 3000.8 L1992.9 3003.3 L1994.1 3007.7 L1995.8 3008.8 L1998.6 3010.6 L2001.4 3013.4 L2002.1 3015.9 L2004.3 3018.8 L2007.8 3021.6 L2008.7 3023.5 L2011.2 3025.3 L2013.4 3027.3 L2015.3 3030.4 L2017.4 3033.6 L2019.5 3036.0 L2021.8 3036.2 L2024.9 3039.7 L2026.8 3042.0 L2028.4 3043.4 L2030.3 3046.9 L2032.6 3048.0 L2033.0 3052.1 L2036.2 3053.9 L2037.7 3056.6 L2039.1 3058.8 L2041.2 3060.1 L2042.6 3064.2 L2044.4 3066.0 L2046.2 3068.1 L2048.7 3071.5 L2051.0 3073.2 L2051.8 3075.3 L2053.6 3077.4 L2056.4 3080.7 L2057.9 3082.1 L2059.6 3084.4 L2062.3 3087.0 L2064.9 3090.1 L2066.0 3092.2 L2067.5 3095.3 L2070.6 3096.8 L2072.6 3099.0 L2073.8 3101.3 L2075.7 3104.6 L2078.3 3107.3 L2079.3 3109.7 L2081.7 3111.2 L2083.6 3113.7 L2084.9 3116.0 L2087.5 3119.2 L2089.8 3120.4 L2091.6 3124.2 L2093.1 3127.1 L2094.0 3129.0 L2097.1 3129.8 L2098.5 3134.2 L2099.8 3136.4 L2102.7 3137.7 L2103.0 3139.8 L2105.6 3142.9 L2106.4 3145.5 L2108.9 3147.7 L2109.0 3151.9 L2111.1 3153.2 L2113.7 3155.5 L2113.8 3159.6 L2115.6 3160.5 L2118.3 3163.1 L2120.2 3166.0 L2121.2 3168.3 L2123.5 3171.7 L2125.2 3174.1 L2127.0 3177.5 L2129.9 3179.9 L2131.7 3180.8 L2132.7 3183.7" stroke="#74C47E" stroke-width="14.5" fill="none" stroke-linejoin="round" stroke-linecap="round"/>
<g fill="#4FE845"><circle cx="316.0" cy="3182.8" r="7.7"/><circle cx="344.7" cy="3114.1" r="8.6"/><circle cx="400.2" cy="3049.6" r="9.0"/><circle cx="411.5" cy="3000.9" r="8.5"/><circle cx="551.3" cy="2864.9" r="7.9"/><circle cx="608.2" cy="2824.5" r="7.8"/><circle cx="681.5" cy="2769.9" r="8.8"/><circle cx="718.9" cy="2761.4" r="9.0"/><circle cx="738.6" cy="2753.6" r="7.8"/><circle cx="779.5" cy="2709.4" r="8.0"/><circle cx="833.7" cy="2708.5" r="8.7"/><circle cx="851.4" cy="2701.1" r="8.6"/><circle cx="972.6" cy="2642.4" r="8.5"/><circle cx="986.4" cy="2630.1" r="8.0"/><circle cx="1008.9" cy="2628.2" r="7.6"/><circle cx="1028.1" cy="2638.6" r="8.5"/><circle cx="1059.8" cy="2621.5" r="8.2"/><circle cx="1102.7" cy="2602.3" r="8.7"/><circle cx="1176.4" cy="2609.4" r="8.7"/><circle cx="1256.1" cy="2601.3" r="8.0"/><circle cx="1431.9" cy="2616.4" r="7.5"/><circle cx="1473.1" cy="2631.3" r="8.7"/><circle cx="1556.8" cy="2664.1" r="8.6"/><circle cx="1573.5" cy="2672.6" r="7.9"/><circle cx="1661.1" cy="2722.7" r="7.7"/><circle cx="1697.1" cy="2735.8" r="7.8"/><circle cx="1777.6" cy="2791.6" r="7.5"/><circle cx="1804.7" cy="2817.8" r="8.3"/><circle cx="1825.2" cy="2836.0" r="8.0"/><circle cx="2035.7" cy="3054.6" r="7.9"/></g>
<g fill="#44F020"><circle cx="320.5" cy="3175.4" r="8.1"/><circle cx="377.0" cy="3080.3" r="8.3"/><circle cx="430.7" cy="2984.0" r="7.9"/><circle cx="513.8" cy="2919.9" r="8.7"/><circle cx="557.1" cy="2858.5" r="7.6"/><circle cx="610.1" cy="2816.0" r="7.4"/><circle cx="635.0" cy="2801.8" r="8.0"/><circle cx="664.4" cy="2778.9" r="8.5"/><circle cx="690.1" cy="2771.3" r="8.4"/><circle cx="706.9" cy="2770.3" r="7.8"/><circle cx="712.3" cy="2766.8" r="8.2"/><circle cx="746.3" cy="2742.8" r="8.5"/><circle cx="756.4" cy="2722.8" r="8.3"/><circle cx="993.5" cy="2626.5" r="8.4"/><circle cx="1150.5" cy="2605.0" r="8.4"/><circle cx="1247.6" cy="2600.6" r="8.3"/><circle cx="1266.4" cy="2607.5" r="8.6"/><circle cx="1346.4" cy="2594.2" r="8.2"/><circle cx="1377.9" cy="2616.6" r="8.5"/><circle cx="1396.9" cy="2611.9" r="7.9"/><circle cx="1402.3" cy="2606.5" r="7.8"/><circle cx="1440.8" cy="2610.6" r="7.4"/><circle cx="1587.7" cy="2682.6" r="8.9"/><circle cx="1621.3" cy="2701.5" r="8.2"/><circle cx="1729.1" cy="2757.1" r="8.9"/><circle cx="1737.1" cy="2760.6" r="8.1"/><circle cx="1797.3" cy="2808.8" r="7.7"/><circle cx="1866.0" cy="2875.9" r="8.2"/><circle cx="1886.6" cy="2894.6" r="7.8"/><circle cx="1978.3" cy="2991.4" r="7.6"/><circle cx="1986.3" cy="2999.3" r="8.1"/><circle cx="2041.4" cy="3058.6" r="8.7"/><circle cx="2099.5" cy="3136.9" r="8.7"/><circle cx="2103.0" cy="3139.6" r="8.4"/><circle cx="2117.1" cy="3162.4" r="8.2"/></g>
<g fill="#6FCB72"><circle cx="326.0" cy="3167.3" r="8.3"/><circle cx="341.9" cy="3125.3" r="8.0"/><circle cx="387.9" cy="3069.5" r="9.0"/><circle cx="392.2" cy="3062.0" r="8.6"/><circle cx="401.7" cy="3035.9" r="8.4"/><circle cx="404.7" cy="3012.3" r="8.5"/><circle cx="417.7" cy="2991.6" r="8.1"/><circle cx="424.8" cy="2990.7" r="7.7"/><circle cx="509.9" cy="2929.4" r="8.9"/><circle cx="595.6" cy="2838.4" r="8.0"/><circle cx="604.2" cy="2836.5" r="7.9"/><circle cx="643.8" cy="2799.0" r="8.4"/><circle cx="810.3" cy="2700.0" r="8.8"/><circle cx="818.3" cy="2701.1" r="8.3"/><circle cx="902.8" cy="2675.3" r="8.0"/><circle cx="944.6" cy="2670.6" r="8.1"/><circle cx="952.6" cy="2659.6" r="8.7"/><circle cx="966.2" cy="2647.2" r="8.7"/><circle cx="983.0" cy="2641.9" r="7.6"/><circle cx="1066.2" cy="2612.7" r="8.8"/><circle cx="1092.4" cy="2605.7" r="8.7"/><circle cx="1140.6" cy="2593.8" r="8.8"/><circle cx="1166.6" cy="2609.4" r="8.3"/><circle cx="1307.0" cy="2583.2" r="8.3"/><circle cx="1330.4" cy="2597.7" r="7.9"/><circle cx="1361.0" cy="2608.2" r="8.9"/><circle cx="1425.4" cy="2611.1" r="7.4"/><circle cx="1464.6" cy="2622.7" r="8.8"/><circle cx="1478.5" cy="2641.2" r="7.9"/><circle cx="1541.9" cy="2650.4" r="8.7"/><circle cx="1595.4" cy="2690.1" r="8.0"/><circle cx="1784.2" cy="2798.7" r="8.9"/><circle cx="1818.7" cy="2828.1" r="8.5"/><circle cx="1829.7" cy="2840.9" r="7.9"/><circle cx="1859.0" cy="2864.1" r="7.8"/><circle cx="1998.4" cy="3010.3" r="8.6"/><circle cx="2016.0" cy="3031.1" r="7.9"/><circle cx="2093.9" cy="3125.0" r="8.0"/></g>
<g fill="#78C488"><circle cx="331.0" cy="3159.3" r="8.9"/><circle cx="337.0" cy="3143.6" r="8.4"/><circle cx="353.8" cy="3086.5" r="8.7"/><circle cx="451.1" cy="2944.2" r="7.5"/><circle cx="456.5" cy="2935.8" r="8.1"/><circle cx="534.7" cy="2888.4" r="7.7"/><circle cx="568.7" cy="2845.2" r="7.7"/><circle cx="655.3" cy="2780.5" r="7.5"/><circle cx="672.3" cy="2777.0" r="8.9"/><circle cx="728.8" cy="2755.9" r="8.8"/><circle cx="788.7" cy="2712.2" r="8.2"/><circle cx="802.4" cy="2708.5" r="8.2"/><circle cx="861.5" cy="2693.9" r="8.0"/><circle cx="884.8" cy="2698.3" r="8.3"/><circle cx="889.1" cy="2693.6" r="7.5"/><circle cx="912.0" cy="2670.1" r="8.5"/><circle cx="938.2" cy="2672.1" r="8.3"/><circle cx="1001.5" cy="2628.3" r="8.4"/><circle cx="1018.2" cy="2633.3" r="7.7"/><circle cx="1050.7" cy="2626.7" r="8.8"/><circle cx="1076.0" cy="2603.8" r="8.0"/><circle cx="1082.9" cy="2608.2" r="8.6"/><circle cx="1123.9" cy="2601.8" r="8.0"/><circle cx="1159.8" cy="2606.3" r="8.8"/><circle cx="1284.6" cy="2603.1" r="8.7"/><circle cx="1338.2" cy="2593.6" r="8.8"/><circle cx="1499.0" cy="2633.3" r="8.8"/><circle cx="1506.2" cy="2639.7" r="8.8"/><circle cx="1513.8" cy="2639.5" r="8.7"/><circle cx="1549.7" cy="2655.2" r="8.9"/><circle cx="1566.0" cy="2664.0" r="9.0"/><circle cx="1580.6" cy="2677.4" r="7.7"/><circle cx="1612.0" cy="2695.3" r="8.5"/><circle cx="1704.2" cy="2738.3" r="7.4"/><circle cx="1768.0" cy="2781.8" r="7.5"/><circle cx="1791.4" cy="2800.4" r="8.6"/><circle cx="1846.7" cy="2851.2" r="8.1"/><circle cx="1905.7" cy="2911.1" r="9.0"/><circle cx="1959.1" cy="2971.7" r="8.5"/><circle cx="1972.4" cy="2982.6" r="8.4"/><circle cx="2051.8" cy="3076.3" r="8.8"/><circle cx="2063.6" cy="3091.4" r="8.6"/></g>
<g fill="#3AF52A"><circle cx="333.1" cy="3147.4" r="8.1"/><circle cx="349.4" cy="3094.8" r="8.5"/><circle cx="362.3" cy="3082.7" r="8.0"/><circle cx="397.5" cy="3054.8" r="7.4"/><circle cx="437.6" cy="2971.6" r="7.7"/><circle cx="474.2" cy="2926.6" r="8.6"/><circle cx="482.9" cy="2929.4" r="8.0"/><circle cx="491.6" cy="2935.3" r="8.9"/><circle cx="517.4" cy="2909.3" r="8.2"/><circle cx="526.9" cy="2895.9" r="8.7"/><circle cx="542.9" cy="2884.4" r="8.9"/><circle cx="545.3" cy="2872.1" r="7.7"/><circle cx="563.3" cy="2851.8" r="7.5"/><circle cx="620.6" cy="2805.6" r="8.7"/><circle cx="629.0" cy="2809.2" r="8.1"/><circle cx="648.5" cy="2787.0" r="7.4"/><circle cx="751.6" cy="2731.0" r="7.9"/><circle cx="773.6" cy="2716.5" r="7.8"/><circle cx="797.8" cy="2714.0" r="7.8"/><circle cx="825.2" cy="2704.6" r="8.6"/><circle cx="894.0" cy="2680.3" r="7.8"/><circle cx="921.8" cy="2666.7" r="7.5"/><circle cx="1111.7" cy="2600.9" r="7.9"/><circle cx="1185.7" cy="2613.1" r="7.6"/><circle cx="1192.7" cy="2611.5" r="8.2"/><circle cx="1218.3" cy="2600.0" r="8.2"/><circle cx="1238.3" cy="2604.8" r="7.6"/><circle cx="1388.3" cy="2616.8" r="8.9"/><circle cx="1414.5" cy="2607.2" r="8.5"/><circle cx="1523.1" cy="2646.2" r="7.6"/><circle cx="1639.3" cy="2705.0" r="7.6"/><circle cx="1651.1" cy="2716.4" r="7.4"/><circle cx="1680.0" cy="2725.9" r="8.5"/><circle cx="1689.1" cy="2732.5" r="8.7"/><circle cx="1744.2" cy="2763.4" r="8.9"/><circle cx="1760.2" cy="2779.4" r="7.7"/><circle cx="1852.3" cy="2856.4" r="7.8"/><circle cx="1919.6" cy="2926.3" r="7.4"/><circle cx="1940.3" cy="2948.3" r="7.6"/><circle cx="1966.6" cy="2974.8" r="8.8"/><circle cx="1992.8" cy="3004.4" r="7.6"/><circle cx="2009.8" cy="3024.0" r="8.7"/><circle cx="2028.8" cy="3048.7" r="8.8"/><circle cx="2086.2" cy="3117.8" r="8.0"/><circle cx="2107.5" cy="3146.6" r="7.4"/><circle cx="2114.1" cy="3154.7" r="8.9"/></g>
<g fill="#66D066"><circle cx="339.9" cy="3132.9" r="8.4"/><circle cx="348.2" cy="3103.6" r="7.9"/><circle cx="370.2" cy="3077.0" r="8.2"/><circle cx="399.9" cy="3028.2" r="8.7"/><circle cx="441.9" cy="2963.5" r="8.6"/><circle cx="445.0" cy="2950.6" r="8.4"/><circle cx="585.6" cy="2843.5" r="7.7"/><circle cx="613.0" cy="2809.4" r="7.6"/><circle cx="700.0" cy="2782.1" r="8.0"/><circle cx="871.5" cy="2703.2" r="8.3"/><circle cx="929.2" cy="2667.4" r="7.8"/><circle cx="1037.3" cy="2637.9" r="7.9"/><circle cx="1131.1" cy="2600.0" r="7.9"/><circle cx="1202.6" cy="2608.1" r="8.9"/><circle cx="1210.1" cy="2600.2" r="8.3"/><circle cx="1227.4" cy="2602.3" r="8.4"/><circle cx="1274.5" cy="2609.9" r="8.3"/><circle cx="1293.0" cy="2602.3" r="7.5"/><circle cx="1314.9" cy="2587.5" r="7.6"/><circle cx="1355.7" cy="2606.5" r="8.1"/><circle cx="1534.0" cy="2648.1" r="7.9"/><circle cx="1603.3" cy="2696.3" r="8.1"/><circle cx="1628.1" cy="2707.8" r="8.5"/><circle cx="1811.8" cy="2821.6" r="8.5"/><circle cx="1836.1" cy="2847.7" r="7.8"/><circle cx="1872.7" cy="2880.2" r="7.4"/><circle cx="1912.2" cy="2922.3" r="8.0"/><circle cx="1948.1" cy="2956.3" r="9.0"/><circle cx="1952.4" cy="2962.4" r="8.7"/><circle cx="2004.4" cy="3018.0" r="8.9"/><circle cx="2059.1" cy="3084.7" r="7.6"/><circle cx="2124.6" cy="3173.8" r="8.2"/><circle cx="2128.6" cy="3182.3" r="8.4"/></g>
<g fill="#7DB895"><circle cx="383.0" cy="3079.7" r="7.4"/><circle cx="402.3" cy="3020.8" r="8.3"/><circle cx="442.1" cy="2959.4" r="8.1"/><circle cx="466.1" cy="2932.7" r="8.3"/><circle cx="500.6" cy="2936.9" r="8.4"/><circle cx="522.2" cy="2903.0" r="8.8"/><circle cx="576.7" cy="2840.2" r="8.8"/><circle cx="745.4" cy="2752.4" r="7.7"/><circle cx="764.0" cy="2718.9" r="7.5"/><circle cx="844.4" cy="2704.1" r="7.8"/><circle cx="881.0" cy="2707.8" r="7.9"/><circle cx="958.1" cy="2649.7" r="7.5"/><circle cx="1043.1" cy="2627.1" r="7.6"/><circle cx="1299.8" cy="2592.4" r="8.1"/><circle cx="1321.6" cy="2590.8" r="8.1"/><circle cx="1369.5" cy="2613.7" r="8.7"/><circle cx="1449.4" cy="2619.5" r="7.6"/><circle cx="1456.6" cy="2624.9" r="8.2"/><circle cx="1488.9" cy="2640.0" r="8.0"/><circle cx="1647.0" cy="2710.7" r="7.6"/><circle cx="1671.3" cy="2726.4" r="7.9"/><circle cx="1711.8" cy="2744.6" r="7.7"/><circle cx="1722.8" cy="2747.1" r="7.4"/><circle cx="1752.5" cy="2769.5" r="8.2"/><circle cx="1879.4" cy="2886.3" r="8.3"/><circle cx="1894.1" cy="2901.5" r="8.7"/><circle cx="1899.8" cy="2906.6" r="7.8"/><circle cx="1925.0" cy="2935.3" r="7.9"/><circle cx="1933.9" cy="2941.8" r="8.5"/><circle cx="2025.0" cy="3040.2" r="8.5"/><circle cx="2047.2" cy="3069.7" r="7.7"/><circle cx="2070.0" cy="3098.4" r="8.2"/><circle cx="2076.9" cy="3104.1" r="8.0"/><circle cx="2081.1" cy="3108.7" r="7.5"/></g>
<circle cx="337.6" cy="3145.7" r="21" fill="#FF0000"/>
<circle cx="1975.8" cy="2991.8" r="18.1" fill="#FFA500"/>
<circle cx="894.5" cy="2690.4" r="13" fill="#EEF000"/>
<circle cx="515.5" cy="2908.6" r="12" fill="#C8FF00"/>
<circle cx="398.5" cy="3031.8" r="11" fill="#A8FF00"/>
<circle cx="778.8" cy="2714.7" r="10" fill="#C8FF00"/>
<circle cx="955.5" cy="2648.0" r="10" fill="#A0FF00"/>
<circle cx="1160.5" cy="2616.5" r="10" fill="#A0FF00"/>
<circle cx="1481.9" cy="2641.3" r="10" fill="#A0FF00"/>
<circle cx="1648.2" cy="2709.0" r="12" fill="#C8FF00"/>
<circle cx="1679.0" cy="2722.6" r="12" fill="#C8FF00"/>
<circle cx="1839.6" cy="2849.6" r="10" fill="#8CFF00"/>
<circle cx="2056.8" cy="3083.6" r="10" fill="#A0FF00"/>
<path d="M316.5 3184.4 L318.1 3182.0 L319.9 3176.9 L320.4 3177.6 L322.2 3172.2 L324.8 3170.6 L325.9 3167.9 L327.0 3163.8 L328.4 3164.2 L329.7 3161.0 L331.3 3155.3 L332.9 3154.9 L333.6 3149.7 L335.5 3148.6 L336.3 3147.3 L337.3 3144.4 L337.8 3140.8 L338.9 3138.3 L340.6 3131.6 L340.5 3129.0 L342.8 3126.9 L343.3 3123.2 L343.9 3120.5 L344.4 3118.3 L345.6 3116.7 L346.5 3113.7 L347.5 3110.9 L348.0 3104.2 L349.1 3104.6 L349.9 3099.8 L350.9 3095.1 L352.3 3093.7 L352.6 3088.3 L354.7 3089.3 L354.7 3085.4 L358.3 3081.3 L361.2 3082.8 L365.2 3078.4 L367.9 3077.2 L371.1 3077.3 L373.7 3082.4 L375.4 3084.8 L377.4 3083.0 L380.2 3085.1 L380.8 3083.7 L382.8 3079.5 L383.3 3079.6 L385.0 3076.9 L387.3 3071.2 L387.9 3068.8 L389.5 3066.0 L391.7 3063.8 L394.6 3061.0 L396.1 3059.7 L398.1 3055.5 L399.5 3053.4 L399.1 3048.1 L399.1 3047.5 L398.8 3044.6 L400.0 3039.1 L400.3 3037.8 L400.6 3034.2 L400.9 3032.8 L400.1 3026.8 L401.4 3027.7 L400.9 3022.4 L401.7 3018.7 L402.9 3016.0 L404.5 3014.5 L405.9 3010.9 L408.2 3006.6 L409.4 3007.0 L410.5 3002.1 L412.8 2999.5 L413.4 2997.6 L416.8 2994.1 L418.7 2993.1 L422.1 2991.5 L424.7 2988.2 L426.5 2988.3 L429.9 2985.4 L430.9 2981.4 L433.4 2979.1 L435.9 2979.4 L437.0 2974.4 L440.0 2973.4 L442.1 2969.5 L441.5 2966.2 L443.0 2963.0 L442.7 2960.6 L443.2 2957.5 L444.5 2953.3 L443.5 2953.6 L445.3 2950.7 L446.8 2948.4 L449.8 2943.0 L451.7 2943.5 L453.8 2939.9 L455.4 2937.0 L457.5 2933.6 L460.2 2932.4 L463.7 2929.4 L466.9 2930.4 L470.0 2929.5 L473.1 2926.2 L474.7 2925.1 L477.6 2924.9 L481.0 2927.6 L483.3 2931.2 L486.3 2930.3 L488.3 2934.4 L491.3 2935.8 L493.8 2935.0 L497.1 2936.2 L499.6 2934.5 L503.9 2933.0 L506.8 2928.0 L509.6 2930.2 L510.0 2924.7 L511.8 2922.9 L513.4 2919.8 L515.3 2914.8 L515.5 2912.5 L517.0 2909.3 L519.7 2909.9 L519.7 2905.4 L521.4 2901.7 L523.8 2900.8 L526.4 2897.3 L528.1 2894.8 L530.3 2893.5 L533.5 2890.4 L534.8 2887.2 L537.6 2886.8 L540.6 2883.5 L542.3 2881.8 L543.4 2878.0 L545.2 2876.7 L546.8 2873.9 L548.6 2869.2 L550.4 2868.5 L551.4 2864.5 L553.7 2863.8 L556.2 2858.8 L558.1 2858.4 L559.0 2854.6 L560.7 2853.8 L563.5 2851.9 L565.6 2848.6 L567.4 2845.8 L568.3 2843.6 L570.1 2839.3 L574.4 2839.4 L576.4 2840.2 L580.8 2841.0 L582.5 2844.5 L585.7 2845.0 L589.7 2845.5 L593.2 2842.5 L596.0 2838.2 L599.1 2838.5 L602.1 2834.8 L605.2 2836.6 L605.0 2830.8 L606.7 2830.0 L607.1 2824.1 L608.1 2822.9 L609.8 2818.8 L610.1 2815.8 L611.0 2812.8 L611.5 2810.1 L613.8 2806.6 L614.4 2802.4 L617.4 2806.3 L620.4 2806.5 L623.2 2808.2 L627.0 2807.3 L628.8 2811.2 L632.2 2807.8 L633.6 2806.3 L635.3 2802.0 L637.4 2801.0 L639.8 2797.1 L642.5 2797.9 L644.0 2794.4 L646.3 2792.7 L648.7 2787.8 L650.3 2784.3 L652.8 2783.5 L654.4 2781.1 L656.8 2780.5 L659.6 2780.3 L663.2 2777.4 L666.3 2777.3 L670.0 2775.0 L672.5 2774.5 L676.2 2772.0 L679.1 2773.3 L681.7 2768.9 L684.4 2772.3 L688.2 2774.7 L691.6 2772.8 L693.6 2774.2 L696.6 2777.4 L700.8 2779.6 L702.1 2777.3 L704.4 2773.3 L707.3 2769.7 L708.5 2770.9 L711.1 2766.7 L713.8 2766.0 L715.1 2762.4 L718.1 2760.9 L719.9 2759.3 L723.4 2756.3 L725.0 2753.0 L727.6 2755.4 L730.4 2756.4 L734.8 2752.9 L737.9 2754.1 L740.7 2755.8 L743.0 2755.5 L744.6 2753.0 L745.0 2749.7 L747.1 2746.2 L747.5 2740.7 L748.5 2738.7 L749.8 2737.0 L750.6 2731.8 L751.8 2730.7 L752.1 2728.7 L755.9 2723.5 L759.5 2721.7 L761.6 2722.4 L765.1 2719.8 L768.2 2717.5 L770.3 2714.5 L772.4 2715.1 L776.1 2712.5 L778.7 2709.9 L780.5 2708.3 L784.0 2705.0 L786.3 2708.2 L789.5 2711.0 L791.7 2713.5 L794.9 2717.5 L796.6 2715.3 L798.3 2710.2 L800.4 2706.9 L803.5 2707.1 L804.7 2702.2 L807.1 2702.1 L809.8 2699.5 L811.5 2694.3 L814.0 2696.1 L817.0 2699.3 L819.2 2699.5 L822.9 2700.0 L825.7 2705.4 L828.7 2704.7 L831.2 2704.9 L834.4 2706.1 L837.5 2702.5 L840.9 2702.7 L843.6 2703.1 L845.7 2702.7 L849.7 2700.3 L852.5 2699.1 L854.9 2698.3 L857.6 2697.0 L861.5 2695.7 L864.5 2699.5 L868.1 2697.4 L871.0 2701.1 L872.9 2701.5 L876.3 2701.8 L879.9 2707.1 L881.2 2704.1 L883.5 2698.2 L885.4 2697.6 L887.2 2695.4 L888.5 2691.1 L890.3 2691.0 L892.1 2686.1 L893.6 2683.6 L894.2 2679.0 L895.9 2677.0 L897.7 2675.6 L901.8 2674.8 L904.6 2674.4 L907.6 2672.7 L911.6 2671.5 L913.9 2672.7 L918.0 2669.5 L920.7 2669.3 L924.3 2667.0 L926.4 2668.2 L930.7 2669.1 L933.3 2670.6 L936.0 2671.7 L939.4 2672.9 L941.8 2673.9 L943.9 2672.8 L945.6 2667.9 L948.0 2666.9 L950.3 2662.5 L951.6 2661.3 L952.9 2661.0 L955.0 2654.4 L957.3 2651.9 L960.3 2651.3 L962.2 2648.7 L966.0 2648.3 L968.9 2647.7 L971.9 2645.6 L973.5 2644.1 L977.2 2644.3 L979.3 2640.6 L981.9 2641.9 L983.8 2635.1 L985.0 2632.9 L987.3 2630.2 L989.2 2630.3 L992.6 2625.8 L994.8 2624.4 L996.6 2623.8 L999.4 2621.8 L1001.0 2626.2 L1004.6 2625.8 L1006.2 2631.0 L1008.5 2630.8 L1012.0 2633.1 L1016.1 2632.0 L1019.0 2635.5 L1022.3 2635.8 L1025.6 2636.0 L1027.9 2636.5 L1031.6 2638.6 L1033.3 2635.4 L1036.5 2635.5 L1038.9 2632.6 L1041.0 2629.8 L1043.9 2627.3 L1045.9 2628.7 L1048.8 2623.9 L1050.5 2625.4 L1053.6 2623.7 L1056.6 2619.9 L1059.3 2619.3 L1061.1 2615.9 L1063.3 2614.2 L1067.3 2611.0 L1069.4 2609.2 L1071.2 2609.8 L1074.6 2606.5 L1077.5 2608.5 L1081.2 2605.1 L1083.7 2608.7 L1086.8 2606.3 L1090.2 2606.6 L1093.6 2605.9 L1096.7 2602.5 L1099.3 2601.2 L1103.5 2600.6 L1105.4 2603.5 L1108.8 2602.4 L1111.8 2599.7 L1115.3 2600.9 L1119.2 2599.6 L1122.6 2600.1 L1125.2 2598.5 L1128.6 2595.9 L1132.5 2597.5 L1135.7 2595.4 L1138.5 2596.0 L1141.5 2596.0 L1143.7 2599.4 L1146.0 2601.3 L1149.8 2602.3 L1152.4 2604.7 L1154.5 2605.2 L1158.5 2606.8 L1160.4 2607.3 L1163.1 2608.2 L1167.4 2611.3 L1170.3 2613.1 L1173.0 2613.5 L1176.0 2611.8 L1179.7 2614.6 L1182.8 2612.7 L1185.6 2612.4 L1189.0 2614.6 L1191.0 2614.7 L1193.9 2611.0 L1197.9 2611.9 L1199.8 2610.8 L1201.2 2608.7 L1203.8 2604.8 L1206.1 2603.5 L1209.0 2599.0 L1211.2 2599.2 L1214.9 2598.5 L1217.7 2601.7 L1221.8 2602.9 L1225.5 2602.7 L1227.7 2599.8 L1230.9 2601.3 L1234.4 2601.9 L1237.4 2603.0 L1240.5 2601.1 L1244.7 2602.4 L1247.0 2599.7 L1251.1 2598.4 L1253.2 2600.5 L1257.1 2598.7 L1259.6 2598.6 L1263.5 2602.0 L1266.6 2605.8 L1269.4 2604.8 L1270.9 2607.0 L1274.4 2607.2 L1276.8 2606.8 L1280.0 2604.6 L1283.3 2605.5 L1286.6 2601.9 L1289.1 2601.4 L1292.3 2600.2 L1295.1 2598.5 L1296.3 2593.2 L1299.5 2593.8 L1301.4 2591.7 L1303.8 2586.9 L1305.5 2583.5 L1308.5 2585.0 L1311.6 2585.3 L1313.9 2589.4 L1316.7 2590.1 L1318.7 2591.8 L1321.0 2592.4 L1324.5 2598.1 L1326.9 2597.6 L1329.6 2597.2 L1333.5 2596.6 L1336.8 2594.6 L1338.8 2595.6 L1342.1 2596.5 L1345.8 2596.2 L1347.8 2594.3 L1350.0 2598.7 L1352.2 2599.6 L1354.8 2604.5 L1356.2 2605.5 L1358.9 2606.9 L1362.0 2610.9 L1363.9 2609.7 L1367.5 2610.9 L1369.7 2615.1 L1372.7 2614.0 L1376.8 2618.4 L1378.8 2617.3 L1381.9 2617.5 L1384.6 2619.5 L1387.1 2614.5 L1390.0 2612.2 L1393.3 2613.4 L1396.6 2611.2 L1399.3 2606.8 L1401.2 2609.3 L1403.6 2604.6 L1407.6 2605.0 L1410.9 2604.4 L1413.7 2608.8 L1416.9 2609.0 L1420.2 2609.8 L1424.3 2608.6 L1425.9 2608.2 L1429.4 2610.9 L1430.9 2615.9 L1434.5 2614.7 L1438.3 2615.0 L1441.1 2611.3 L1443.6 2617.1 L1445.9 2615.3 L1448.1 2617.2 L1450.9 2622.7 L1452.9 2621.4 L1457.4 2625.3 L1460.5 2622.3 L1462.6 2625.7 L1465.9 2624.9 L1467.7 2624.6 L1469.8 2630.4 L1472.5 2632.3 L1474.0 2634.8 L1476.1 2637.5 L1478.7 2638.7 L1481.5 2641.0 L1485.1 2636.8 L1488.5 2638.9 L1490.4 2635.5 L1493.6 2633.7 L1498.0 2634.4 L1501.0 2632.2 L1502.5 2637.2 L1506.6 2639.3 L1509.3 2638.9 L1512.3 2638.6 L1514.8 2641.8 L1517.0 2644.1 L1520.6 2644.3 L1524.0 2644.1 L1527.2 2646.0 L1531.5 2648.1 L1534.6 2648.3 L1537.0 2649.5 L1539.4 2647.6 L1542.2 2652.1 L1544.4 2653.6 L1546.8 2656.9 L1549.6 2656.6 L1552.2 2660.1 L1555.8 2659.9 L1557.8 2661.5 L1560.1 2661.9 L1564.2 2664.7 L1565.8 2666.2 L1569.2 2668.0 L1571.6 2666.8 L1574.4 2671.8 L1576.7 2673.9 L1579.6 2673.7 L1581.4 2676.5 L1584.0 2678.0 L1586.8 2682.4 L1589.2 2681.0 L1591.1 2683.8 L1594.2 2684.7 L1595.8 2687.3 L1598.6 2687.9 L1601.4 2693.7 L1603.9 2694.7 L1606.8 2697.0 L1610.3 2696.0 L1613.2 2696.2 L1616.8 2697.6 L1618.6 2700.8 L1620.8 2701.1 L1624.1 2704.1 L1625.4 2704.7 L1628.3 2706.6 L1632.3 2706.2 L1634.7 2705.9 L1638.3 2705.1 L1641.0 2707.6 L1643.1 2708.2 L1646.5 2711.6 L1647.5 2712.9 L1651.1 2716.2 L1652.4 2715.8 L1655.6 2718.7 L1659.4 2720.6 L1661.6 2720.4 L1665.2 2722.4 L1667.8 2722.1 L1670.7 2723.6 L1673.8 2725.2 L1677.7 2725.2 L1679.7 2725.8 L1683.1 2728.8 L1685.9 2728.9 L1689.3 2731.3 L1691.3 2731.7 L1693.6 2734.8 L1696.1 2735.4 L1699.6 2736.5 L1702.5 2739.3 L1705.4 2740.4 L1707.1 2740.4 L1710.2 2742.6 L1712.5 2745.6 L1715.3 2747.2 L1719.2 2747.1 L1721.9 2749.4 L1723.6 2750.6 L1726.0 2753.0 L1729.3 2755.5 L1732.6 2755.1 L1734.6 2757.4 L1736.8 2758.7 L1739.6 2761.3 L1742.3 2761.4 L1744.7 2763.8 L1747.9 2764.9 L1750.7 2767.0 L1753.2 2770.2 L1755.0 2772.8 L1758.0 2774.5 L1760.9 2776.9 L1763.2 2777.7 L1766.4 2781.9 L1768.5 2783.4 L1770.7 2786.4 L1774.0 2787.0 L1776.8 2791.0 L1778.6 2793.3 L1781.4 2793.5 L1784.3 2796.1 L1786.7 2798.8 L1788.0 2800.7 L1791.5 2802.7 L1793.3 2805.7 L1795.5 2806.8 L1798.1 2809.7 L1799.8 2810.0 L1803.0 2813.2 L1804.6 2816.1 L1807.8 2817.3 L1810.1 2820.2 L1811.9 2821.0 L1812.9 2824.1 L1816.2 2825.5 L1818.0 2828.2 L1819.7 2830.6 L1822.4 2832.0 L1823.8 2834.6 L1826.3 2837.2 L1828.3 2838.5 L1830.5 2840.7 L1833.2 2842.1 L1834.7 2845.1 L1837.3 2847.3 L1839.6 2848.3 L1842.5 2852.4 L1845.3 2853.5 L1846.9 2854.5 L1849.1 2857.1 L1852.4 2858.7 L1854.8 2861.7 L1856.3 2863.2 L1859.5 2865.4 L1861.2 2868.5 L1862.9 2870.1 L1866.5 2873.8 L1868.4 2876.4 L1869.7 2878.3 L1873.0 2879.4 L1874.9 2883.6 L1877.0 2885.4 L1879.1 2887.5 L1881.5 2889.4 L1884.0 2892.6 L1886.9 2894.0 L1889.1 2896.1 L1891.6 2898.0 L1893.5 2901.0 L1895.5 2902.0 L1897.5 2905.8 L1899.8 2908.3 L1902.4 2911.1 L1905.0 2912.9 L1906.3 2913.6 L1908.7 2917.6 L1911.3 2918.6 L1912.2 2922.8 L1915.2 2924.0 L1917.2 2925.5 L1919.0 2929.1 L1921.2 2930.2 L1922.7 2933.6 L1926.3 2934.8 L1927.2 2937.0 L1930.8 2940.1 L1932.6 2943.8 L1935.2 2944.4 L1937.6 2946.1 L1939.3 2950.1 L1941.4 2950.8 L1944.3 2953.9 L1947.2 2955.5 L1949.2 2958.4 L1951.3 2960.7 L1953.3 2962.6 L1954.8 2965.1 L1957.9 2967.0 L1959.2 2969.4 L1961.1 2971.3 L1964.1 2974.1 L1966.3 2975.6 L1967.6 2977.2 L1970.3 2979.8 L1972.8 2982.1 L1975.3 2985.3 L1977.3 2988.0 L1979.2 2989.6 L1981.0 2991.1 L1984.0 2994.6 L1985.0 2998.0 L1987.9 2999.6 L1989.9 3000.8 L1992.9 3003.3 L1994.1 3007.7 L1995.8 3008.8 L1998.6 3010.6 L2001.4 3013.4 L2002.1 3015.9 L2004.3 3018.8 L2007.8 3021.6 L2008.7 3023.5 L2011.2 3025.3 L2013.4 3027.3 L2015.3 3030.4 L2017.4 3033.6 L2019.5 3036.0 L2021.8 3036.2 L2024.9 3039.7 L2026.8 3042.0 L2028.4 3043.4 L2030.3 3046.9 L2032.6 3048.0 L2033.0 3052.1 L2036.2 3053.9 L2037.7 3056.6 L2039.1 3058.8 L2041.2 3060.1 L2042.6 3064.2 L2044.4 3066.0 L2046.2 3068.1 L2048.7 3071.5 L2051.0 3073.2 L2051.8 3075.3 L2053.6 3077.4 L2056.4 3080.7 L2057.9 3082.1 L2059.6 3084.4 L2062.3 3087.0 L2064.9 3090.1 L2066.0 3092.2 L2067.5 3095.3 L2070.6 3096.8 L2072.6 3099.0 L2073.8 3101.3 L2075.7 3104.6 L2078.3 3107.3 L2079.3 3109.7 L2081.7 3111.2 L2083.6 3113.7 L2084.9 3116.0 L2087.5 3119.2 L2089.8 3120.4 L2091.6 3124.2 L2093.1 3127.1 L2094.0 3129.0 L2097.1 3129.8 L2098.5 3134.2 L2099.8 3136.4 L2102.7 3137.7 L2103.0 3139.8 L2105.6 3142.9 L2106.4 3145.5 L2108.9 3147.7 L2109.0 3151.9 L2111.1 3153.2 L2113.7 3155.5 L2113.8 3159.6 L2115.6 3160.5 L2118.3 3163.1 L2120.2 3166.0 L2121.2 3168.3 L2123.5 3171.7 L2125.2 3174.1 L2127.0 3177.5 L2129.9 3179.9 L2131.7 3180.8 L2132.7 3183.7" stroke="#BEBEBE" stroke-width="6" fill="none" stroke-linejoin="round"/>
<path d="M227 3185.0H2226" stroke="#000" stroke-width="5.6" fill="none"/>
<path d="M317.6 3148.0H320.2V3223.0H317.6ZM321.8 3148.0H323.8V3223.0H321.8ZM326.0 3148.0H328.8V3223.0H326.0ZM330.3 3148.0H334.5V3223.0H330.3ZM336.1 3148.0H339.9V3223.0H336.1ZM343.1 3148.0H346.9V3223.0H343.1ZM347.7 3148.0H351.4V3223.0H347.7ZM352.2 3148.0H355.9V3223.0H352.2ZM359.5 3148.0H362.8V3223.0H359.5ZM364.7 3148.0H370.4V3223.0H364.7ZM378.6 3148.0H381.8V3223.0H378.6ZM382.6 3148.0H385.7V3223.0H382.6ZM387.0 3148.0H390.3V3223.0H387.0ZM391.7 3148.0H393.7V3223.0H391.7ZM395.2 3148.0H399.3V3223.0H395.2ZM400.1 3148.0H404.2V3223.0H400.1ZM405.0 3148.0H409.1V3223.0H405.0ZM409.9 3148.0H414.0V3223.0H409.9ZM414.8 3148.0H418.9V3223.0H414.8ZM419.7 3148.0H423.9V3223.0H419.7ZM426.4 3148.0H428.4V3223.0H426.4ZM430.6 3148.0H433.4V3223.0H430.6ZM437.2 3148.0H440.8V3223.0H437.2ZM441.6 3148.0H445.2V3223.0H441.6ZM450.6 3148.0H453.2V3223.0H450.6ZM455.8 3148.0H460.5V3223.0H455.8ZM464.0 3148.0H468.5V3223.0H464.0ZM475.4 3148.0H478.6V3223.0H475.4ZM485.2 3148.0H487.2V3223.0H485.2ZM492.6 3148.0H494.9V3223.0H492.6ZM498.3 3148.0H502.1V3223.0H498.3ZM506.8 3148.0H508.8V3223.0H506.8ZM510.3 3148.0H515.9V3223.0H510.3ZM516.8 3148.0H521.7V3223.0H516.8ZM522.5 3148.0H527.3V3223.0H522.5ZM529.9 3148.0H531.9V3223.0H529.9ZM533.6 3148.0H538.8V3223.0H533.6ZM540.3 3148.0H543.5V3223.0H540.3ZM547.0 3148.0H550.8V3223.0H547.0ZM551.6 3148.0H555.4V3223.0H551.6ZM556.2 3148.0H560.0V3223.0H556.2ZM560.8 3148.0H564.5V3223.0H560.8ZM568.0 3148.0H570.0V3223.0H568.0ZM571.8 3148.0H574.7V3223.0H571.8ZM576.6 3148.0H578.9V3223.0H576.6ZM583.6 3148.0H588.8V3223.0H583.6ZM590.9 3148.0H594.1V3223.0H590.9ZM596.6 3148.0H600.2V3223.0H596.6ZM601.0 3148.0H604.6V3223.0H601.0ZM606.2 3148.0H609.6V3223.0H606.2ZM610.4 3148.0H613.8V3223.0H610.4ZM614.6 3148.0H618.0V3223.0H614.6ZM627.2 3148.0H629.2V3223.0H627.2ZM630.2 3148.0H633.5V3223.0H630.2ZM634.3 3148.0H637.6V3223.0H634.3ZM638.4 3148.0H641.7V3223.0H638.4ZM647.4 3148.0H651.1V3223.0H647.4ZM651.9 3148.0H655.6V3223.0H651.9ZM656.4 3148.0H660.1V3223.0H656.4ZM660.9 3148.0H664.6V3223.0H660.9ZM667.5 3148.0H669.5V3223.0H667.5ZM673.7 3148.0H678.8V3223.0H673.7ZM679.6 3148.0H684.6V3223.0H679.6ZM687.0 3148.0H689.0V3223.0H687.0ZM696.7 3148.0H699.6V3223.0H696.7ZM700.4 3148.0H703.3V3223.0H700.4ZM710.0 3148.0H712.9V3223.0H710.0ZM713.7 3148.0H716.7V3223.0H713.7ZM722.4 3148.0H726.2V3223.0H722.4ZM727.0 3148.0H730.8V3223.0H727.0ZM731.6 3148.0H735.4V3223.0H731.6ZM736.2 3148.0H740.0V3223.0H736.2ZM746.3 3148.0H748.9V3223.0H746.3ZM749.7 3148.0H752.4V3223.0H749.7ZM758.7 3148.0H761.8V3223.0H758.7ZM762.6 3148.0H765.7V3223.0H762.6ZM767.3 3148.0H769.3V3223.0H767.3ZM773.0 3148.0H775.0V3223.0H773.0ZM778.4 3148.0H783.9V3223.0H778.4ZM791.6 3148.0H793.6V3223.0H791.6ZM795.9 3148.0H799.5V3223.0H795.9ZM805.1 3148.0H808.6V3223.0H805.1ZM809.4 3148.0H812.9V3223.0H809.4ZM814.3 3148.0H816.3V3223.0H814.3ZM825.5 3148.0H827.8V3223.0H825.5ZM835.0 3148.0H840.7V3223.0H835.0ZM842.7 3148.0H845.9V3223.0H842.7ZM850.3 3148.0H854.3V3223.0H850.3ZM855.1 3148.0H859.2V3223.0H855.1ZM860.0 3148.0H864.0V3223.0H860.0ZM864.8 3148.0H868.8V3223.0H864.8ZM871.9 3148.0H873.9V3223.0H871.9ZM879.0 3148.0H882.1V3223.0H879.0ZM882.9 3148.0H886.0V3223.0H882.9ZM888.5 3148.0H893.5V3223.0H888.5ZM894.3 3148.0H899.3V3223.0H894.3ZM903.7 3148.0H905.7V3223.0H903.7ZM910.4 3148.0H913.6V3223.0H910.4ZM914.4 3148.0H917.5V3223.0H914.4ZM919.0 3148.0H921.7V3223.0H919.0ZM922.5 3148.0H925.1V3223.0H922.5ZM926.7 3148.0H929.7V3223.0H926.7ZM933.7 3148.0H937.7V3223.0H933.7ZM940.2 3148.0H943.1V3223.0H940.2ZM944.6 3148.0H949.2V3223.0H944.6ZM950.0 3148.0H954.5V3223.0H950.0ZM955.3 3148.0H959.9V3223.0H955.3ZM964.3 3148.0H969.5V3223.0H964.3ZM970.3 3148.0H975.5V3223.0H970.3ZM977.6 3148.0H981.9V3223.0H977.6ZM982.7 3148.0H986.9V3223.0H982.7ZM987.7 3148.0H991.9V3223.0H987.7ZM992.7 3148.0H996.9V3223.0H992.7ZM1004.4 3148.0H1006.4V3223.0H1004.4ZM1010.1 3148.0H1012.2V3223.0H1010.1ZM1014.3 3148.0H1016.6V3223.0H1014.3ZM1019.1 3148.0H1021.3V3223.0H1019.1ZM1025.7 3148.0H1029.5V3223.0H1025.7ZM1030.3 3148.0H1034.0V3223.0H1030.3ZM1034.8 3148.0H1038.5V3223.0H1034.8ZM1040.1 3148.0H1044.6V3223.0H1040.1ZM1045.4 3148.0H1050.0V3223.0H1045.4ZM1052.5 3148.0H1056.5V3223.0H1052.5ZM1057.3 3148.0H1061.4V3223.0H1057.3ZM1064.9 3148.0H1068.5V3223.0H1064.9ZM1069.3 3148.0H1072.9V3223.0H1069.3ZM1078.2 3148.0H1080.5V3223.0H1078.2ZM1083.0 3148.0H1087.2V3223.0H1083.0ZM1089.1 3148.0H1092.0V3223.0H1089.1ZM1094.5 3148.0H1097.1V3223.0H1094.5ZM1097.9 3148.0H1100.5V3223.0H1097.9ZM1102.5 3148.0H1105.7V3223.0H1102.5ZM1107.4 3148.0H1111.4V3223.0H1107.4ZM1113.9 3148.0H1115.9V3223.0H1113.9ZM1117.8 3148.0H1120.6V3223.0H1117.8ZM1122.1 3148.0H1125.4V3223.0H1122.1ZM1126.9 3148.0H1131.0V3223.0H1126.9ZM1131.8 3148.0H1135.8V3223.0H1131.8ZM1136.6 3148.0H1140.6V3223.0H1136.6ZM1143.7 3148.0H1145.7V3223.0H1143.7ZM1147.5 3148.0H1149.6V3223.0H1147.5ZM1153.7 3148.0H1155.7V3223.0H1153.7ZM1160.3 3148.0H1164.9V3223.0H1160.3ZM1165.7 3148.0H1170.2V3223.0H1165.7ZM1175.6 3148.0H1181.3V3223.0H1175.6ZM1184.2 3148.0H1188.1V3223.0H1184.2ZM1188.9 3148.0H1192.7V3223.0H1188.9ZM1197.9 3148.0H1202.3V3223.0H1197.9ZM1203.6 3148.0H1207.5V3223.0H1203.6ZM1208.3 3148.0H1212.1V3223.0H1208.3ZM1212.9 3148.0H1216.7V3223.0H1212.9ZM1217.5 3148.0H1221.3V3223.0H1217.5ZM1222.1 3148.0H1226.0V3223.0H1222.1ZM1227.7 3148.0H1231.0V3223.0H1227.7ZM1231.8 3148.0H1235.1V3223.0H1231.8ZM1242.2 3148.0H1246.1V3223.0H1242.2ZM1246.9 3148.0H1250.7V3223.0H1246.9ZM1251.5 3148.0H1255.4V3223.0H1251.5ZM1261.3 3148.0H1264.5V3223.0H1261.3ZM1266.6 3148.0H1269.9V3223.0H1266.6ZM1272.4 3148.0H1274.4V3223.0H1272.4ZM1276.2 3148.0H1279.3V3223.0H1276.2ZM1280.1 3148.0H1283.2V3223.0H1280.1ZM1288.0 3148.0H1291.1V3223.0H1288.0ZM1291.9 3148.0H1295.1V3223.0H1291.9ZM1297.2 3148.0H1300.6V3223.0H1297.2ZM1301.4 3148.0H1304.8V3223.0H1301.4ZM1305.6 3148.0H1309.0V3223.0H1305.6ZM1309.8 3148.0H1313.2V3223.0H1309.8ZM1322.0 3148.0H1327.5V3223.0H1322.0ZM1330.0 3148.0H1333.8V3223.0H1330.0ZM1334.6 3148.0H1338.4V3223.0H1334.6ZM1339.2 3148.0H1343.0V3223.0H1339.2ZM1343.8 3148.0H1347.6V3223.0H1343.8ZM1353.8 3148.0H1355.8V3223.0H1353.8ZM1364.4 3148.0H1366.6V3223.0H1364.4ZM1368.6 3148.0H1373.2V3223.0H1368.6ZM1374.0 3148.0H1378.7V3223.0H1374.0ZM1381.2 3148.0H1384.7V3223.0H1381.2ZM1385.5 3148.0H1389.0V3223.0H1385.5ZM1389.8 3148.0H1393.3V3223.0H1389.8ZM1394.1 3148.0H1397.6V3223.0H1394.1ZM1398.4 3148.0H1401.9V3223.0H1398.4ZM1402.7 3148.0H1406.2V3223.0H1402.7ZM1407.0 3148.0H1410.5V3223.0H1407.0ZM1413.1 3148.0H1417.4V3223.0H1413.1ZM1418.2 3148.0H1422.6V3223.0H1418.2ZM1423.9 3148.0H1426.4V3223.0H1423.9ZM1433.5 3148.0H1437.2V3223.0H1433.5ZM1438.0 3148.0H1441.7V3223.0H1438.0ZM1448.0 3148.0H1450.6V3223.0H1448.0ZM1453.1 3148.0H1455.4V3223.0H1453.1ZM1459.4 3148.0H1464.9V3223.0H1459.4ZM1477.4 3148.0H1480.6V3223.0H1477.4ZM1482.3 3148.0H1486.8V3223.0H1482.3ZM1487.6 3148.0H1492.1V3223.0H1487.6ZM1493.2 3148.0H1497.3V3223.0H1493.2ZM1498.1 3148.0H1502.2V3223.0H1498.1ZM1504.7 3148.0H1509.7V3223.0H1504.7ZM1510.5 3148.0H1515.5V3223.0H1510.5ZM1518.6 3148.0H1522.3V3223.0H1518.6ZM1523.1 3148.0H1526.7V3223.0H1523.1ZM1527.5 3148.0H1531.1V3223.0H1527.5ZM1531.9 3148.0H1535.6V3223.0H1531.9ZM1539.5 3148.0H1541.5V3223.0H1539.5ZM1545.2 3148.0H1547.2V3223.0H1545.2ZM1550.3 3148.0H1553.5V3223.0H1550.3ZM1555.1 3148.0H1557.7V3223.0H1555.1ZM1559.5 3148.0H1562.7V3223.0H1559.5ZM1564.6 3148.0H1569.2V3223.0H1564.6ZM1577.0 3148.0H1581.8V3223.0H1577.0ZM1583.1 3148.0H1587.5V3223.0H1583.1ZM1592.6 3148.0H1594.6V3223.0H1592.6ZM1599.0 3148.0H1602.8V3223.0H1599.0ZM1604.1 3148.0H1609.2V3223.0H1604.1ZM1610.0 3148.0H1615.0V3223.0H1610.0ZM1616.4 3148.0H1618.4V3223.0H1616.4ZM1626.7 3148.0H1631.7V3223.0H1626.7ZM1632.5 3148.0H1637.5V3223.0H1632.5ZM1639.1 3148.0H1642.3V3223.0H1639.1ZM1644.8 3148.0H1648.6V3223.0H1644.8ZM1654.3 3148.0H1658.7V3223.0H1654.3ZM1659.5 3148.0H1663.8V3223.0H1659.5ZM1664.6 3148.0H1669.0V3223.0H1664.6ZM1670.6 3148.0H1675.6V3223.0H1670.6ZM1676.4 3148.0H1681.4V3223.0H1676.4ZM1683.0 3148.0H1686.7V3223.0H1683.0ZM1687.5 3148.0H1691.3V3223.0H1687.5ZM1692.1 3148.0H1695.9V3223.0H1692.1ZM1696.7 3148.0H1700.5V3223.0H1696.7ZM1702.6 3148.0H1706.2V3223.0H1702.6ZM1711.6 3148.0H1715.7V3223.0H1711.6ZM1716.5 3148.0H1720.5V3223.0H1716.5ZM1722.5 3148.0H1725.7V3223.0H1722.5ZM1728.8 3148.0H1731.4V3223.0H1728.8ZM1738.3 3148.0H1742.4V3223.0H1738.3ZM1743.2 3148.0H1747.2V3223.0H1743.2ZM1748.0 3148.0H1752.0V3223.0H1748.0ZM1753.6 3148.0H1757.8V3223.0H1753.6ZM1760.7 3148.0H1764.3V3223.0H1760.7ZM1765.1 3148.0H1768.8V3223.0H1765.1ZM1771.2 3148.0H1773.2V3223.0H1771.2ZM1774.0 3148.0H1776.0V3223.0H1774.0ZM1777.8 3148.0H1781.7V3223.0H1777.8ZM1782.5 3148.0H1786.4V3223.0H1782.5ZM1796.5 3148.0H1799.8V3223.0H1796.5ZM1801.9 3148.0H1804.0V3223.0H1801.9ZM1807.0 3148.0H1810.3V3223.0H1807.0ZM1816.0 3148.0H1818.9V3223.0H1816.0ZM1821.4 3148.0H1825.5V3223.0H1821.4ZM1828.5 3148.0H1830.5V3223.0H1828.5ZM1835.0 3148.0H1837.0V3223.0H1835.0ZM1839.5 3148.0H1843.9V3223.0H1839.5ZM1844.7 3148.0H1849.0V3223.0H1844.7ZM1851.9 3148.0H1855.1V3223.0H1851.9ZM1859.5 3148.0H1861.5V3223.0H1859.5ZM1865.9 3148.0H1867.9V3223.0H1865.9ZM1869.5 3148.0H1873.7V3223.0H1869.5ZM1874.5 3148.0H1878.8V3223.0H1874.5ZM1886.6 3148.0H1890.2V3223.0H1886.6ZM1894.3 3148.0H1899.8V3223.0H1894.3ZM1906.5 3148.0H1911.5V3223.0H1906.5ZM1912.3 3148.0H1917.3V3223.0H1912.3ZM1918.5 3148.0H1923.6V3223.0H1918.5ZM1926.2 3148.0H1930.5V3223.0H1926.2ZM1931.3 3148.0H1935.7V3223.0H1931.3ZM1938.9 3148.0H1941.8V3223.0H1938.9ZM1947.7 3148.0H1951.7V3223.0H1947.7ZM1952.5 3148.0H1956.5V3223.0H1952.5ZM1957.3 3148.0H1961.3V3223.0H1957.3ZM1969.4 3148.0H1971.4V3223.0H1969.4ZM1975.2 3148.0H1977.7V3223.0H1975.2ZM1979.6 3148.0H1984.0V3223.0H1979.6ZM1984.8 3148.0H1989.1V3223.0H1984.8ZM1989.9 3148.0H1994.3V3223.0H1989.9ZM2000.0 3148.0H2003.3V3223.0H2000.0ZM2004.1 3148.0H2007.4V3223.0H2004.1ZM2008.2 3148.0H2011.5V3223.0H2008.2ZM2015.9 3148.0H2021.0V3223.0H2015.9ZM2022.6 3148.0H2026.2V3223.0H2022.6ZM2029.2 3148.0H2034.9V3223.0H2029.2ZM2036.9 3148.0H2041.0V3223.0H2036.9ZM2043.6 3148.0H2045.8V3223.0H2043.6ZM2048.0 3148.0H2050.0V3223.0H2048.0ZM2054.6 3148.0H2060.5V3223.0H2054.6ZM2063.6 3148.0H2067.7V3223.0H2063.6ZM2068.5 3148.0H2072.5V3223.0H2068.5ZM2077.5 3148.0H2080.2V3223.0H2077.5ZM2082.6 3148.0H2084.6V3223.0H2082.6ZM2087.5 3148.0H2090.9V3223.0H2087.5ZM2091.7 3148.0H2095.1V3223.0H2091.7ZM2095.9 3148.0H2099.3V3223.0H2095.9ZM2100.8 3148.0H2104.7V3223.0H2100.8ZM2105.5 3148.0H2109.4V3223.0H2105.5ZM2111.9 3148.0H2115.5V3223.0H2111.9ZM2117.0 3148.0H2121.1V3223.0H2117.0ZM2121.9 3148.0H2126.0V3223.0H2121.9Z" fill="#000"/>
<text x="2316.5" y="2517.8" font-size="61.2" fill="#000" text-anchor="start" >p</text>
<circle cx="2349.6" cy="2587.0" r="4" fill="#000"/>
<text x="2411.0" y="2606.5" font-size="49.2" fill="#000" text-anchor="start" >0</text>
<circle cx="2349.6" cy="2651.1" r="9" fill="#000"/>
<text x="2411.0" y="2670.6" font-size="49.2" fill="#000" text-anchor="start" >2</text>
<circle cx="2349.6" cy="2715.2" r="13.9" fill="#000"/>
<text x="2411.0" y="2734.7" font-size="49.2" fill="#000" text-anchor="start" >4</text>
<circle cx="2349.6" cy="2779.3" r="19" fill="#000"/>
<text x="2411.0" y="2798.8" font-size="49.2" fill="#000" text-anchor="start" >6</text>
<text x="2316.5" y="2986.3" font-size="61.2" fill="#000" text-anchor="start" >p</text>
<rect x="2317.8" y="3022.2" width="64" height="319.7" fill="url(#cbar)"/>
<text x="2411.0" y="3352.5" font-size="49.2" fill="#000" text-anchor="start" >0</text>
<text x="2411.0" y="3267.4" font-size="49.2" fill="#000" text-anchor="start" >2</text>
<text x="2411.0" y="3182.2" font-size="49.2" fill="#000" text-anchor="start" >4</text>
<text x="2411.0" y="3097.0" font-size="49.2" fill="#000" text-anchor="start" >6</text>
<path d="M2317.8 3334.0h12.9M2368.9 3334.0h12.9M2317.8 3248.9h12.9M2368.9 3248.9h12.9M2317.8 3163.7h12.9M2368.9 3163.7h12.9M2317.8 3078.5h12.9M2368.9 3078.5h12.9" stroke="#FFFFFF" stroke-width="2.7" fill="none"/>
</svg></body></html>
